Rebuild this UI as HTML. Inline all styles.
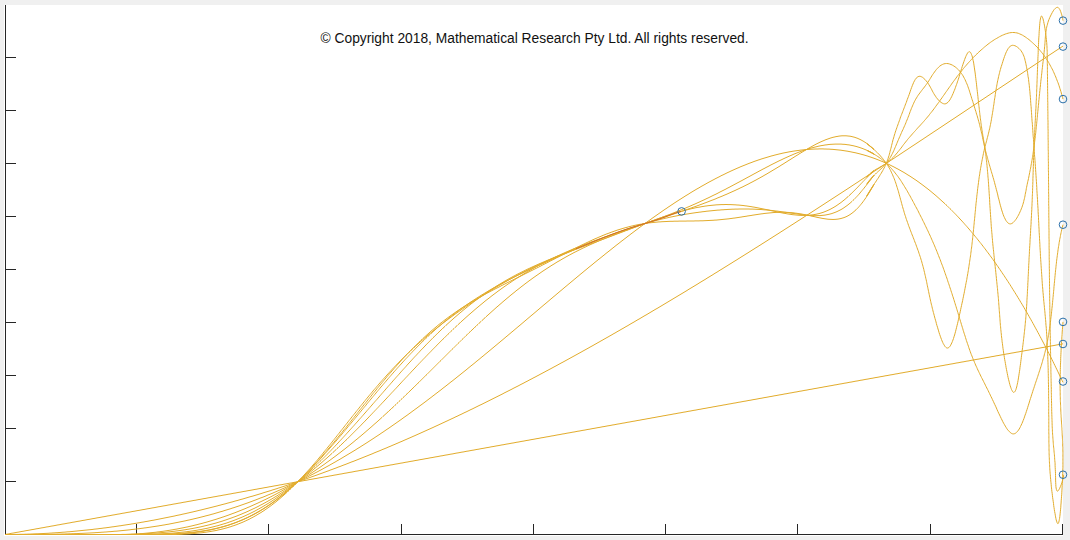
<!DOCTYPE html>
<html><head><meta charset="utf-8">
<style>
html,body{margin:0;padding:0;background:#f0f0f0;width:1070px;height:540px;overflow:hidden;}
#plot{position:absolute;left:4px;top:5px;width:1059px;height:531px;background:#fff;}
svg{position:absolute;left:0;top:0;}
#cr{position:absolute;left:320.5px;top:31px;font-family:"Liberation Sans",sans-serif;font-size:13.8px;color:#111;white-space:nowrap;}
</style></head><body>
<div id="plot"></div>
<svg width="1070" height="540" viewBox="0 0 1070 540">
<g stroke="#262626" stroke-width="1" fill="none" shape-rendering="crispEdges">
<path d="M5.5 5V535 M5 534.5H1063"/>
<path d="M5 57.5h11M5 110.5h11M5 163.5h11M5 216.5h11M5 269.5h11M5 322.5h11M5 375.5h11M5 428.5h11M5 481.5h11"/>
<path d="M136.5 534v-10M268.5 534v-10M401.5 534v-10M533.5 534v-10M665.5 534v-10M797.5 534v-10M930.5 534v-10M1062.5 534v-10"/>
</g>
<defs><clipPath id="cp"><rect x="5" y="5" width="1059" height="530"/></clipPath></defs>
<g clip-path="url(#cp)" fill="none" stroke="#E2AC2C" stroke-width="1">
<path d="M5.0 534.5 L6.0 534.3 L7.0 534.1 L8.0 534.0 L9.0 533.8 L10.0 533.6 L11.0 533.4 L12.0 533.2 L13.0 533.1 L14.0 532.9 L15.0 532.7 L16.0 532.5 L17.0 532.3 L18.0 532.2 L19.0 532.0 L20.0 531.8 L21.0 531.6 L22.0 531.4 L23.0 531.3 L24.0 531.1 L25.0 530.9 L26.0 530.7 L27.0 530.5 L28.0 530.4 L29.0 530.2 L30.0 530.0 L31.0 529.8 L32.0 529.6 L33.0 529.5 L34.0 529.3 L35.0 529.1 L36.0 528.9 L37.0 528.7 L38.0 528.6 L39.0 528.4 L40.0 528.2 L41.0 528.0 L42.0 527.8 L43.0 527.7 L44.0 527.5 L45.0 527.3 L46.0 527.1 L47.0 526.9 L48.0 526.8 L49.0 526.6 L50.0 526.4 L51.0 526.2 L52.0 526.0 L53.0 525.9 L54.0 525.7 L55.0 525.5 L56.0 525.3 L57.0 525.1 L58.0 524.9 L59.0 524.8 L60.0 524.6 L61.0 524.4 L62.0 524.2 L63.0 524.0 L64.0 523.9 L65.0 523.7 L66.0 523.5 L67.0 523.3 L68.0 523.1 L69.0 523.0 L70.0 522.8 L71.0 522.6 L72.0 522.4 L73.0 522.2 L74.0 522.1 L75.0 521.9 L76.0 521.7 L77.0 521.5 L78.0 521.3 L79.0 521.2 L80.0 521.0 L81.0 520.8 L82.0 520.6 L83.0 520.4 L84.0 520.3 L85.0 520.1 L86.0 519.9 L87.0 519.7 L88.0 519.5 L89.0 519.4 L90.0 519.2 L91.0 519.0 L92.0 518.8 L93.0 518.6 L94.0 518.5 L95.0 518.3 L96.0 518.1 L97.0 517.9 L98.0 517.7 L99.0 517.6 L100.0 517.4 L101.0 517.2 L102.0 517.0 L103.0 516.8 L104.0 516.7 L105.0 516.5 L106.0 516.3 L107.0 516.1 L108.0 515.9 L109.0 515.8 L110.0 515.6 L111.0 515.4 L112.0 515.2 L113.0 515.0 L114.0 514.9 L115.0 514.7 L116.0 514.5 L117.0 514.3 L118.0 514.1 L119.0 514.0 L120.0 513.8 L121.0 513.6 L122.0 513.4 L123.0 513.2 L124.0 513.1 L125.0 512.9 L126.0 512.7 L127.0 512.5 L128.0 512.3 L129.0 512.2 L130.0 512.0 L131.0 511.8 L132.0 511.6 L133.0 511.4 L134.0 511.3 L135.0 511.1 L136.0 510.9 L137.0 510.7 L138.0 510.5 L139.0 510.4 L140.0 510.2 L141.0 510.0 L142.0 509.8 L143.0 509.6 L144.0 509.5 L145.0 509.3 L146.0 509.1 L147.0 508.9 L148.0 508.7 L149.0 508.6 L150.0 508.4 L151.0 508.2 L152.0 508.0 L153.0 507.8 L154.0 507.7 L155.0 507.5 L156.0 507.3 L157.0 507.1 L158.0 506.9 L159.0 506.7 L160.0 506.6 L161.0 506.4 L162.0 506.2 L163.0 506.0 L164.0 505.8 L165.0 505.7 L166.0 505.5 L167.0 505.3 L168.0 505.1 L169.0 504.9 L170.0 504.8 L171.0 504.6 L172.0 504.4 L173.0 504.2 L174.0 504.0 L175.0 503.9 L176.0 503.7 L177.0 503.5 L178.0 503.3 L179.0 503.1 L180.0 503.0 L181.0 502.8 L182.0 502.6 L183.0 502.4 L184.0 502.2 L185.0 502.1 L186.0 501.9 L187.0 501.7 L188.0 501.5 L189.0 501.3 L190.0 501.2 L191.0 501.0 L192.0 500.8 L193.0 500.6 L194.0 500.4 L195.0 500.3 L196.0 500.1 L197.0 499.9 L198.0 499.7 L199.0 499.5 L200.0 499.4 L201.0 499.2 L202.0 499.0 L203.0 498.8 L204.0 498.6 L205.0 498.5 L206.0 498.3 L207.0 498.1 L208.0 497.9 L209.0 497.7 L210.0 497.6 L211.0 497.4 L212.0 497.2 L213.0 497.0 L214.0 496.8 L215.0 496.7 L216.0 496.5 L217.0 496.3 L218.0 496.1 L219.0 495.9 L220.0 495.8 L221.0 495.6 L222.0 495.4 L223.0 495.2 L224.0 495.0 L225.0 494.9 L226.0 494.7 L227.0 494.5 L228.0 494.3 L229.0 494.1 L230.0 494.0 L231.0 493.8 L232.0 493.6 L233.0 493.4 L234.0 493.2 L235.0 493.1 L236.0 492.9 L237.0 492.7 L238.0 492.5 L239.0 492.3 L240.0 492.2 L241.0 492.0 L242.0 491.8 L243.0 491.6 L244.0 491.4 L245.0 491.3 L246.0 491.1 L247.0 490.9 L248.0 490.7 L249.0 490.5 L250.0 490.4 L251.0 490.2 L252.0 490.0 L253.0 489.8 L254.0 489.6 L255.0 489.4 L256.0 489.3 L257.0 489.1 L258.0 488.9 L259.0 488.7 L260.0 488.5 L261.0 488.4 L262.0 488.2 L263.0 488.0 L264.0 487.8 L265.0 487.6 L266.0 487.5 L267.0 487.3 L268.0 487.1 L269.0 486.9 L270.0 486.7 L271.0 486.6 L272.0 486.4 L273.0 486.2 L274.0 486.0 L275.0 485.8 L276.0 485.7 L277.0 485.5 L278.0 485.3 L279.0 485.1 L280.0 484.9 L281.0 484.8 L282.0 484.6 L283.0 484.4 L284.0 484.2 L285.0 484.0 L286.0 483.9 L287.0 483.7 L288.0 483.5 L289.0 483.3 L290.0 483.1 L291.0 483.0 L292.0 482.8 L293.0 482.6 L294.0 482.4 L295.0 482.2 L296.0 482.1 L297.0 481.9 L298.0 481.7 L299.0 481.5 L300.0 481.3 L301.0 481.2 L302.0 481.0 L303.0 480.8 L304.0 480.6 L305.0 480.4 L306.0 480.3 L307.0 480.1 L308.0 479.9 L309.0 479.7 L310.0 479.5 L311.0 479.4 L312.0 479.2 L313.0 479.0 L314.0 478.8 L315.0 478.6 L316.0 478.5 L317.0 478.3 L318.0 478.1 L319.0 477.9 L320.0 477.7 L321.0 477.6 L322.0 477.4 L323.0 477.2 L324.0 477.0 L325.0 476.8 L326.0 476.7 L327.0 476.5 L328.0 476.3 L329.0 476.1 L330.0 475.9 L331.0 475.8 L332.0 475.6 L333.0 475.4 L334.0 475.2 L335.0 475.0 L336.0 474.9 L337.0 474.7 L338.0 474.5 L339.0 474.3 L340.0 474.1 L341.0 474.0 L342.0 473.8 L343.0 473.6 L344.0 473.4 L345.0 473.2 L346.0 473.1 L347.0 472.9 L348.0 472.7 L349.0 472.5 L350.0 472.3 L351.0 472.2 L352.0 472.0 L353.0 471.8 L354.0 471.6 L355.0 471.4 L356.0 471.2 L357.0 471.1 L358.0 470.9 L359.0 470.7 L360.0 470.5 L361.0 470.3 L362.0 470.2 L363.0 470.0 L364.0 469.8 L365.0 469.6 L366.0 469.4 L367.0 469.3 L368.0 469.1 L369.0 468.9 L370.0 468.7 L371.0 468.5 L372.0 468.4 L373.0 468.2 L374.0 468.0 L375.0 467.8 L376.0 467.6 L377.0 467.5 L378.0 467.3 L379.0 467.1 L380.0 466.9 L381.0 466.7 L382.0 466.6 L383.0 466.4 L384.0 466.2 L385.0 466.0 L386.0 465.8 L387.0 465.7 L388.0 465.5 L389.0 465.3 L390.0 465.1 L391.0 464.9 L392.0 464.8 L393.0 464.6 L394.0 464.4 L395.0 464.2 L396.0 464.0 L397.0 463.9 L398.0 463.7 L399.0 463.5 L400.0 463.3 L401.0 463.1 L402.0 463.0 L403.0 462.8 L404.0 462.6 L405.0 462.4 L406.0 462.2 L407.0 462.1 L408.0 461.9 L409.0 461.7 L410.0 461.5 L411.0 461.3 L412.0 461.2 L413.0 461.0 L414.0 460.8 L415.0 460.6 L416.0 460.4 L417.0 460.3 L418.0 460.1 L419.0 459.9 L420.0 459.7 L421.0 459.5 L422.0 459.4 L423.0 459.2 L424.0 459.0 L425.0 458.8 L426.0 458.6 L427.0 458.5 L428.0 458.3 L429.0 458.1 L430.0 457.9 L431.0 457.7 L432.0 457.6 L433.0 457.4 L434.0 457.2 L435.0 457.0 L436.0 456.8 L437.0 456.7 L438.0 456.5 L439.0 456.3 L440.0 456.1 L441.0 455.9 L442.0 455.8 L443.0 455.6 L444.0 455.4 L445.0 455.2 L446.0 455.0 L447.0 454.9 L448.0 454.7 L449.0 454.5 L450.0 454.3 L451.0 454.1 L452.0 454.0 L453.0 453.8 L454.0 453.6 L455.0 453.4 L456.0 453.2 L457.0 453.0 L458.0 452.9 L459.0 452.7 L460.0 452.5 L461.0 452.3 L462.0 452.1 L463.0 452.0 L464.0 451.8 L465.0 451.6 L466.0 451.4 L467.0 451.2 L468.0 451.1 L469.0 450.9 L470.0 450.7 L471.0 450.5 L472.0 450.3 L473.0 450.2 L474.0 450.0 L475.0 449.8 L476.0 449.6 L477.0 449.4 L478.0 449.3 L479.0 449.1 L480.0 448.9 L481.0 448.7 L482.0 448.5 L483.0 448.4 L484.0 448.2 L485.0 448.0 L486.0 447.8 L487.0 447.6 L488.0 447.5 L489.0 447.3 L490.0 447.1 L491.0 446.9 L492.0 446.7 L493.0 446.6 L494.0 446.4 L495.0 446.2 L496.0 446.0 L497.0 445.8 L498.0 445.7 L499.0 445.5 L500.0 445.3 L501.0 445.1 L502.0 444.9 L503.0 444.8 L504.0 444.6 L505.0 444.4 L506.0 444.2 L507.0 444.0 L508.0 443.9 L509.0 443.7 L510.0 443.5 L511.0 443.3 L512.0 443.1 L513.0 443.0 L514.0 442.8 L515.0 442.6 L516.0 442.4 L517.0 442.2 L518.0 442.1 L519.0 441.9 L520.0 441.7 L521.0 441.5 L522.0 441.3 L523.0 441.2 L524.0 441.0 L525.0 440.8 L526.0 440.6 L527.0 440.4 L528.0 440.3 L529.0 440.1 L530.0 439.9 L531.0 439.7 L532.0 439.5 L533.0 439.4 L534.0 439.2 L535.0 439.0 L536.0 438.8 L537.0 438.6 L538.0 438.5 L539.0 438.3 L540.0 438.1 L541.0 437.9 L542.0 437.7 L543.0 437.6 L544.0 437.4 L545.0 437.2 L546.0 437.0 L547.0 436.8 L548.0 436.7 L549.0 436.5 L550.0 436.3 L551.0 436.1 L552.0 435.9 L553.0 435.8 L554.0 435.6 L555.0 435.4 L556.0 435.2 L557.0 435.0 L558.0 434.8 L559.0 434.7 L560.0 434.5 L561.0 434.3 L562.0 434.1 L563.0 433.9 L564.0 433.8 L565.0 433.6 L566.0 433.4 L567.0 433.2 L568.0 433.0 L569.0 432.9 L570.0 432.7 L571.0 432.5 L572.0 432.3 L573.0 432.1 L574.0 432.0 L575.0 431.8 L576.0 431.6 L577.0 431.4 L578.0 431.2 L579.0 431.1 L580.0 430.9 L581.0 430.7 L582.0 430.5 L583.0 430.3 L584.0 430.2 L585.0 430.0 L586.0 429.8 L587.0 429.6 L588.0 429.4 L589.0 429.3 L590.0 429.1 L591.0 428.9 L592.0 428.7 L593.0 428.5 L594.0 428.4 L595.0 428.2 L596.0 428.0 L597.0 427.8 L598.0 427.6 L599.0 427.5 L600.0 427.3 L601.0 427.1 L602.0 426.9 L603.0 426.7 L604.0 426.6 L605.0 426.4 L606.0 426.2 L607.0 426.0 L608.0 425.8 L609.0 425.7 L610.0 425.5 L611.0 425.3 L612.0 425.1 L613.0 424.9 L614.0 424.8 L615.0 424.6 L616.0 424.4 L617.0 424.2 L618.0 424.0 L619.0 423.9 L620.0 423.7 L621.0 423.5 L622.0 423.3 L623.0 423.1 L624.0 423.0 L625.0 422.8 L626.0 422.6 L627.0 422.4 L628.0 422.2 L629.0 422.1 L630.0 421.9 L631.0 421.7 L632.0 421.5 L633.0 421.3 L634.0 421.2 L635.0 421.0 L636.0 420.8 L637.0 420.6 L638.0 420.4 L639.0 420.3 L640.0 420.1 L641.0 419.9 L642.0 419.7 L643.0 419.5 L644.0 419.4 L645.0 419.2 L646.0 419.0 L647.0 418.8 L648.0 418.6 L649.0 418.5 L650.0 418.3 L651.0 418.1 L652.0 417.9 L653.0 417.7 L654.0 417.6 L655.0 417.4 L656.0 417.2 L657.0 417.0 L658.0 416.8 L659.0 416.6 L660.0 416.5 L661.0 416.3 L662.0 416.1 L663.0 415.9 L664.0 415.7 L665.0 415.6 L666.0 415.4 L667.0 415.2 L668.0 415.0 L669.0 414.8 L670.0 414.7 L671.0 414.5 L672.0 414.3 L673.0 414.1 L674.0 413.9 L675.0 413.8 L676.0 413.6 L677.0 413.4 L678.0 413.2 L679.0 413.0 L680.0 412.9 L681.0 412.7 L682.0 412.5 L683.0 412.3 L684.0 412.1 L685.0 412.0 L686.0 411.8 L687.0 411.6 L688.0 411.4 L689.0 411.2 L690.0 411.1 L691.0 410.9 L692.0 410.7 L693.0 410.5 L694.0 410.3 L695.0 410.2 L696.0 410.0 L697.0 409.8 L698.0 409.6 L699.0 409.4 L700.0 409.3 L701.0 409.1 L702.0 408.9 L703.0 408.7 L704.0 408.5 L705.0 408.4 L706.0 408.2 L707.0 408.0 L708.0 407.8 L709.0 407.6 L710.0 407.5 L711.0 407.3 L712.0 407.1 L713.0 406.9 L714.0 406.7 L715.0 406.6 L716.0 406.4 L717.0 406.2 L718.0 406.0 L719.0 405.8 L720.0 405.7 L721.0 405.5 L722.0 405.3 L723.0 405.1 L724.0 404.9 L725.0 404.8 L726.0 404.6 L727.0 404.4 L728.0 404.2 L729.0 404.0 L730.0 403.9 L731.0 403.7 L732.0 403.5 L733.0 403.3 L734.0 403.1 L735.0 403.0 L736.0 402.8 L737.0 402.6 L738.0 402.4 L739.0 402.2 L740.0 402.1 L741.0 401.9 L742.0 401.7 L743.0 401.5 L744.0 401.3 L745.0 401.2 L746.0 401.0 L747.0 400.8 L748.0 400.6 L749.0 400.4 L750.0 400.3 L751.0 400.1 L752.0 399.9 L753.0 399.7 L754.0 399.5 L755.0 399.4 L756.0 399.2 L757.0 399.0 L758.0 398.8 L759.0 398.6 L760.0 398.4 L761.0 398.3 L762.0 398.1 L763.0 397.9 L764.0 397.7 L765.0 397.5 L766.0 397.4 L767.0 397.2 L768.0 397.0 L769.0 396.8 L770.0 396.6 L771.0 396.5 L772.0 396.3 L773.0 396.1 L774.0 395.9 L775.0 395.7 L776.0 395.6 L777.0 395.4 L778.0 395.2 L779.0 395.0 L780.0 394.8 L781.0 394.7 L782.0 394.5 L783.0 394.3 L784.0 394.1 L785.0 393.9 L786.0 393.8 L787.0 393.6 L788.0 393.4 L789.0 393.2 L790.0 393.0 L791.0 392.9 L792.0 392.7 L793.0 392.5 L794.0 392.3 L795.0 392.1 L796.0 392.0 L797.0 391.8 L798.0 391.6 L799.0 391.4 L800.0 391.2 L801.0 391.1 L802.0 390.9 L803.0 390.7 L804.0 390.5 L805.0 390.3 L806.0 390.2 L807.0 390.0 L808.0 389.8 L809.0 389.6 L810.0 389.4 L811.0 389.3 L812.0 389.1 L813.0 388.9 L814.0 388.7 L815.0 388.5 L816.0 388.4 L817.0 388.2 L818.0 388.0 L819.0 387.8 L820.0 387.6 L821.0 387.5 L822.0 387.3 L823.0 387.1 L824.0 386.9 L825.0 386.7 L826.0 386.6 L827.0 386.4 L828.0 386.2 L829.0 386.0 L830.0 385.8 L831.0 385.7 L832.0 385.5 L833.0 385.3 L834.0 385.1 L835.0 384.9 L836.0 384.8 L837.0 384.6 L838.0 384.4 L839.0 384.2 L840.0 384.0 L841.0 383.9 L842.0 383.7 L843.0 383.5 L844.0 383.3 L845.0 383.1 L846.0 383.0 L847.0 382.8 L848.0 382.6 L849.0 382.4 L850.0 382.2 L851.0 382.1 L852.0 381.9 L853.0 381.7 L854.0 381.5 L855.0 381.3 L856.0 381.1 L857.0 381.0 L858.0 380.8 L859.0 380.6 L860.0 380.4 L861.0 380.2 L862.0 380.1 L863.0 379.9 L864.0 379.7 L865.0 379.5 L866.0 379.3 L867.0 379.2 L868.0 379.0 L869.0 378.8 L870.0 378.6 L871.0 378.4 L872.0 378.3 L873.0 378.1 L874.0 377.9 L875.0 377.7 L876.0 377.5 L877.0 377.4 L878.0 377.2 L879.0 377.0 L880.0 376.8 L881.0 376.6 L882.0 376.5 L883.0 376.3 L884.0 376.1 L885.0 375.9 L886.0 375.7 L887.0 375.6 L888.0 375.4 L889.0 375.2 L890.0 375.0 L891.0 374.8 L892.0 374.7 L893.0 374.5 L894.0 374.3 L895.0 374.1 L896.0 373.9 L897.0 373.8 L898.0 373.6 L899.0 373.4 L900.0 373.2 L901.0 373.0 L902.0 372.9 L903.0 372.7 L904.0 372.5 L905.0 372.3 L906.0 372.1 L907.0 372.0 L908.0 371.8 L909.0 371.6 L910.0 371.4 L911.0 371.2 L912.0 371.1 L913.0 370.9 L914.0 370.7 L915.0 370.5 L916.0 370.3 L917.0 370.2 L918.0 370.0 L919.0 369.8 L920.0 369.6 L921.0 369.4 L922.0 369.3 L923.0 369.1 L924.0 368.9 L925.0 368.7 L926.0 368.5 L927.0 368.4 L928.0 368.2 L929.0 368.0 L930.0 367.8 L931.0 367.6 L932.0 367.5 L933.0 367.3 L934.0 367.1 L935.0 366.9 L936.0 366.7 L937.0 366.6 L938.0 366.4 L939.0 366.2 L940.0 366.0 L941.0 365.8 L942.0 365.7 L943.0 365.5 L944.0 365.3 L945.0 365.1 L946.0 364.9 L947.0 364.8 L948.0 364.6 L949.0 364.4 L950.0 364.2 L951.0 364.0 L952.0 363.9 L953.0 363.7 L954.0 363.5 L955.0 363.3 L956.0 363.1 L957.0 362.9 L958.0 362.8 L959.0 362.6 L960.0 362.4 L961.0 362.2 L962.0 362.0 L963.0 361.9 L964.0 361.7 L965.0 361.5 L966.0 361.3 L967.0 361.1 L968.0 361.0 L969.0 360.8 L970.0 360.6 L971.0 360.4 L972.0 360.2 L973.0 360.1 L974.0 359.9 L975.0 359.7 L976.0 359.5 L977.0 359.3 L978.0 359.2 L979.0 359.0 L980.0 358.8 L981.0 358.6 L982.0 358.4 L983.0 358.3 L984.0 358.1 L985.0 357.9 L986.0 357.7 L987.0 357.5 L988.0 357.4 L989.0 357.2 L990.0 357.0 L991.0 356.8 L992.0 356.6 L993.0 356.5 L994.0 356.3 L995.0 356.1 L996.0 355.9 L997.0 355.7 L998.0 355.6 L999.0 355.4 L1000.0 355.2 L1001.0 355.0 L1002.0 354.8 L1003.0 354.7 L1004.0 354.5 L1005.0 354.3 L1006.0 354.1 L1007.0 353.9 L1008.0 353.8 L1009.0 353.6 L1010.0 353.4 L1011.0 353.2 L1012.0 353.0 L1013.0 352.9 L1014.0 352.7 L1015.0 352.5 L1016.0 352.3 L1017.0 352.1 L1018.0 352.0 L1019.0 351.8 L1020.0 351.6 L1021.0 351.4 L1022.0 351.2 L1023.0 351.1 L1024.0 350.9 L1025.0 350.7 L1026.0 350.5 L1027.0 350.3 L1028.0 350.2 L1029.0 350.0 L1030.0 349.8 L1031.0 349.6 L1032.0 349.4 L1033.0 349.3 L1034.0 349.1 L1035.0 348.9 L1036.0 348.7 L1037.0 348.5 L1038.0 348.4 L1039.0 348.2 L1040.0 348.0 L1041.0 347.8 L1042.0 347.6 L1043.0 347.5 L1044.0 347.3 L1045.0 347.1 L1046.0 346.9 L1047.0 346.7 L1048.0 346.6 L1049.0 346.4 L1050.0 346.2 L1051.0 346.0 L1052.0 345.8 L1053.0 345.7 L1054.0 345.5 L1055.0 345.3 L1056.0 345.1 L1057.0 344.9 L1058.0 344.7 L1059.0 344.6 L1060.0 344.4 L1061.0 344.2 L1062.0 344.0 L1063.0 343.8"/>
<path d="M5.0 534.5 L6.0 534.5 L7.0 534.5 L8.0 534.5 L9.0 534.5 L10.0 534.5 L11.0 534.5 L12.0 534.5 L13.0 534.5 L14.0 534.4 L15.0 534.4 L16.0 534.4 L17.0 534.4 L18.0 534.4 L19.0 534.4 L20.0 534.3 L21.0 534.3 L22.0 534.3 L23.0 534.3 L24.0 534.3 L25.0 534.2 L26.0 534.2 L27.0 534.2 L28.0 534.1 L29.0 534.1 L30.0 534.1 L31.0 534.0 L32.0 534.0 L33.0 534.0 L34.0 533.9 L35.0 533.9 L36.0 533.8 L37.0 533.8 L38.0 533.8 L39.0 533.7 L40.0 533.7 L41.0 533.6 L42.0 533.6 L43.0 533.5 L44.0 533.5 L45.0 533.4 L46.0 533.4 L47.0 533.3 L48.0 533.3 L49.0 533.2 L50.0 533.1 L51.0 533.1 L52.0 533.0 L53.0 532.9 L54.0 532.9 L55.0 532.8 L56.0 532.7 L57.0 532.7 L58.0 532.6 L59.0 532.5 L60.0 532.5 L61.0 532.4 L62.0 532.3 L63.0 532.2 L64.0 532.2 L65.0 532.1 L66.0 532.0 L67.0 531.9 L68.0 531.8 L69.0 531.8 L70.0 531.7 L71.0 531.6 L72.0 531.5 L73.0 531.4 L74.0 531.3 L75.0 531.2 L76.0 531.1 L77.0 531.0 L78.0 530.9 L79.0 530.8 L80.0 530.7 L81.0 530.6 L82.0 530.5 L83.0 530.4 L84.0 530.3 L85.0 530.2 L86.0 530.1 L87.0 530.0 L88.0 529.9 L89.0 529.8 L90.0 529.7 L91.0 529.6 L92.0 529.5 L93.0 529.4 L94.0 529.2 L95.0 529.1 L96.0 529.0 L97.0 528.9 L98.0 528.8 L99.0 528.6 L100.0 528.5 L101.0 528.4 L102.0 528.3 L103.0 528.1 L104.0 528.0 L105.0 527.9 L106.0 527.8 L107.0 527.6 L108.0 527.5 L109.0 527.4 L110.0 527.2 L111.0 527.1 L112.0 526.9 L113.0 526.8 L114.0 526.7 L115.0 526.5 L116.0 526.4 L117.0 526.2 L118.0 526.1 L119.0 525.9 L120.0 525.8 L121.0 525.7 L122.0 525.5 L123.0 525.3 L124.0 525.2 L125.0 525.0 L126.0 524.9 L127.0 524.7 L128.0 524.6 L129.0 524.4 L130.0 524.3 L131.0 524.1 L132.0 523.9 L133.0 523.8 L134.0 523.6 L135.0 523.4 L136.0 523.3 L137.0 523.1 L138.0 522.9 L139.0 522.8 L140.0 522.6 L141.0 522.4 L142.0 522.2 L143.0 522.1 L144.0 521.9 L145.0 521.7 L146.0 521.5 L147.0 521.4 L148.0 521.2 L149.0 521.0 L150.0 520.8 L151.0 520.6 L152.0 520.4 L153.0 520.3 L154.0 520.1 L155.0 519.9 L156.0 519.7 L157.0 519.5 L158.0 519.3 L159.0 519.1 L160.0 518.9 L161.0 518.7 L162.0 518.5 L163.0 518.3 L164.0 518.1 L165.0 517.9 L166.0 517.7 L167.0 517.5 L168.0 517.3 L169.0 517.1 L170.0 516.9 L171.0 516.7 L172.0 516.5 L173.0 516.3 L174.0 516.1 L175.0 515.9 L176.0 515.6 L177.0 515.4 L178.0 515.2 L179.0 515.0 L180.0 514.8 L181.0 514.6 L182.0 514.3 L183.0 514.1 L184.0 513.9 L185.0 513.7 L186.0 513.5 L187.0 513.2 L188.0 513.0 L189.0 512.8 L190.0 512.5 L191.0 512.3 L192.0 512.1 L193.0 511.9 L194.0 511.6 L195.0 511.4 L196.0 511.2 L197.0 510.9 L198.0 510.7 L199.0 510.4 L200.0 510.2 L201.0 510.0 L202.0 509.7 L203.0 509.5 L204.0 509.2 L205.0 509.0 L206.0 508.7 L207.0 508.5 L208.0 508.2 L209.0 508.0 L210.0 507.7 L211.0 507.5 L212.0 507.2 L213.0 507.0 L214.0 506.7 L215.0 506.5 L216.0 506.2 L217.0 506.0 L218.0 505.7 L219.0 505.4 L220.0 505.2 L221.0 504.9 L222.0 504.6 L223.0 504.4 L224.0 504.1 L225.0 503.9 L226.0 503.6 L227.0 503.3 L228.0 503.0 L229.0 502.8 L230.0 502.5 L231.0 502.2 L232.0 502.0 L233.0 501.7 L234.0 501.4 L235.0 501.1 L236.0 500.8 L237.0 500.6 L238.0 500.3 L239.0 500.0 L240.0 499.7 L241.0 499.4 L242.0 499.2 L243.0 498.9 L244.0 498.6 L245.0 498.3 L246.0 498.0 L247.0 497.7 L248.0 497.4 L249.0 497.1 L250.0 496.8 L251.0 496.5 L252.0 496.3 L253.0 496.0 L254.0 495.7 L255.0 495.4 L256.0 495.1 L257.0 494.8 L258.0 494.5 L259.0 494.2 L260.0 493.9 L261.0 493.6 L262.0 493.3 L263.0 492.9 L264.0 492.6 L265.0 492.3 L266.0 492.0 L267.0 491.7 L268.0 491.4 L269.0 491.1 L270.0 490.8 L271.0 490.5 L272.0 490.1 L273.0 489.8 L274.0 489.5 L275.0 489.2 L276.0 488.9 L277.0 488.6 L278.0 488.2 L279.0 487.9 L280.0 487.6 L281.0 487.3 L282.0 486.9 L283.0 486.6 L284.0 486.3 L285.0 486.0 L286.0 485.6 L287.0 485.3 L288.0 485.0 L289.0 484.6 L290.0 484.3 L291.0 484.0 L292.0 483.6 L293.0 483.3 L294.0 483.0 L295.0 482.6 L296.0 482.3 L297.0 482.0 L298.0 481.6 L299.0 481.3 L300.0 480.9 L301.0 480.6 L302.0 480.2 L303.0 479.9 L304.0 479.5 L305.0 479.2 L306.0 478.9 L307.0 478.5 L308.0 478.2 L309.0 477.8 L310.0 477.5 L311.0 477.1 L312.0 476.7 L313.0 476.4 L314.0 476.0 L315.0 475.7 L316.0 475.3 L317.0 475.0 L318.0 474.6 L319.0 474.2 L320.0 473.9 L321.0 473.5 L322.0 473.2 L323.0 472.8 L324.0 472.4 L325.0 472.1 L326.0 471.7 L327.0 471.3 L328.0 471.0 L329.0 470.6 L330.0 470.2 L331.0 469.8 L332.0 469.5 L333.0 469.1 L334.0 468.7 L335.0 468.4 L336.0 468.0 L337.0 467.6 L338.0 467.2 L339.0 466.8 L340.0 466.5 L341.0 466.1 L342.0 465.7 L343.0 465.3 L344.0 464.9 L345.0 464.6 L346.0 464.2 L347.0 463.8 L348.0 463.4 L349.0 463.0 L350.0 462.6 L351.0 462.2 L352.0 461.8 L353.0 461.5 L354.0 461.1 L355.0 460.7 L356.0 460.3 L357.0 459.9 L358.0 459.5 L359.0 459.1 L360.0 458.7 L361.0 458.3 L362.0 457.9 L363.0 457.5 L364.0 457.1 L365.0 456.7 L366.0 456.3 L367.0 455.9 L368.0 455.5 L369.0 455.1 L370.0 454.7 L371.0 454.3 L372.0 453.9 L373.0 453.5 L374.0 453.0 L375.0 452.6 L376.0 452.2 L377.0 451.8 L378.0 451.4 L379.0 451.0 L380.0 450.6 L381.0 450.2 L382.0 449.7 L383.0 449.3 L384.0 448.9 L385.0 448.5 L386.0 448.1 L387.0 447.7 L388.0 447.2 L389.0 446.8 L390.0 446.4 L391.0 446.0 L392.0 445.5 L393.0 445.1 L394.0 444.7 L395.0 444.3 L396.0 443.8 L397.0 443.4 L398.0 443.0 L399.0 442.5 L400.0 442.1 L401.0 441.7 L402.0 441.3 L403.0 440.8 L404.0 440.4 L405.0 439.9 L406.0 439.5 L407.0 439.1 L408.0 438.6 L409.0 438.2 L410.0 437.8 L411.0 437.3 L412.0 436.9 L413.0 436.4 L414.0 436.0 L415.0 435.6 L416.0 435.1 L417.0 434.7 L418.0 434.2 L419.0 433.8 L420.0 433.3 L421.0 432.9 L422.0 432.4 L423.0 432.0 L424.0 431.5 L425.0 431.1 L426.0 430.6 L427.0 430.2 L428.0 429.7 L429.0 429.3 L430.0 428.8 L431.0 428.4 L432.0 427.9 L433.0 427.5 L434.0 427.0 L435.0 426.5 L436.0 426.1 L437.0 425.6 L438.0 425.2 L439.0 424.7 L440.0 424.2 L441.0 423.8 L442.0 423.3 L443.0 422.8 L444.0 422.4 L445.0 421.9 L446.0 421.4 L447.0 421.0 L448.0 420.5 L449.0 420.0 L450.0 419.6 L451.0 419.1 L452.0 418.6 L453.0 418.2 L454.0 417.7 L455.0 417.2 L456.0 416.7 L457.0 416.3 L458.0 415.8 L459.0 415.3 L460.0 414.8 L461.0 414.4 L462.0 413.9 L463.0 413.4 L464.0 412.9 L465.0 412.4 L466.0 412.0 L467.0 411.5 L468.0 411.0 L469.0 410.5 L470.0 410.0 L471.0 409.5 L472.0 409.1 L473.0 408.6 L474.0 408.1 L475.0 407.6 L476.0 407.1 L477.0 406.6 L478.0 406.1 L479.0 405.6 L480.0 405.1 L481.0 404.7 L482.0 404.2 L483.0 403.7 L484.0 403.2 L485.0 402.7 L486.0 402.2 L487.0 401.7 L488.0 401.2 L489.0 400.7 L490.0 400.2 L491.0 399.7 L492.0 399.2 L493.0 398.7 L494.0 398.2 L495.0 397.7 L496.0 397.2 L497.0 396.7 L498.0 396.2 L499.0 395.7 L500.0 395.2 L501.0 394.7 L502.0 394.2 L503.0 393.7 L504.0 393.1 L505.0 392.6 L506.0 392.1 L507.0 391.6 L508.0 391.1 L509.0 390.6 L510.0 390.1 L511.0 389.6 L512.0 389.1 L513.0 388.5 L514.0 388.0 L515.0 387.5 L516.0 387.0 L517.0 386.5 L518.0 386.0 L519.0 385.5 L520.0 384.9 L521.0 384.4 L522.0 383.9 L523.0 383.4 L524.0 382.9 L525.0 382.3 L526.0 381.8 L527.0 381.3 L528.0 380.8 L529.0 380.2 L530.0 379.7 L531.0 379.2 L532.0 378.7 L533.0 378.1 L534.0 377.6 L535.0 377.1 L536.0 376.6 L537.0 376.0 L538.0 375.5 L539.0 375.0 L540.0 374.4 L541.0 373.9 L542.0 373.4 L543.0 372.8 L544.0 372.3 L545.0 371.8 L546.0 371.2 L547.0 370.7 L548.0 370.2 L549.0 369.6 L550.0 369.1 L551.0 368.6 L552.0 368.0 L553.0 367.5 L554.0 366.9 L555.0 366.4 L556.0 365.9 L557.0 365.3 L558.0 364.8 L559.0 364.2 L560.0 363.7 L561.0 363.1 L562.0 362.6 L563.0 362.1 L564.0 361.5 L565.0 361.0 L566.0 360.4 L567.0 359.9 L568.0 359.3 L569.0 358.8 L570.0 358.2 L571.0 357.7 L572.0 357.1 L573.0 356.6 L574.0 356.0 L575.0 355.5 L576.0 354.9 L577.0 354.4 L578.0 353.8 L579.0 353.3 L580.0 352.7 L581.0 352.2 L582.0 351.6 L583.0 351.0 L584.0 350.5 L585.0 349.9 L586.0 349.4 L587.0 348.8 L588.0 348.3 L589.0 347.7 L590.0 347.1 L591.0 346.6 L592.0 346.0 L593.0 345.5 L594.0 344.9 L595.0 344.3 L596.0 343.8 L597.0 343.2 L598.0 342.6 L599.0 342.1 L600.0 341.5 L601.0 340.9 L602.0 340.4 L603.0 339.8 L604.0 339.2 L605.0 338.7 L606.0 338.1 L607.0 337.5 L608.0 337.0 L609.0 336.4 L610.0 335.8 L611.0 335.3 L612.0 334.7 L613.0 334.1 L614.0 333.5 L615.0 333.0 L616.0 332.4 L617.0 331.8 L618.0 331.2 L619.0 330.7 L620.0 330.1 L621.0 329.5 L622.0 328.9 L623.0 328.4 L624.0 327.8 L625.0 327.2 L626.0 326.6 L627.0 326.1 L628.0 325.5 L629.0 324.9 L630.0 324.3 L631.0 323.7 L632.0 323.1 L633.0 322.6 L634.0 322.0 L635.0 321.4 L636.0 320.8 L637.0 320.2 L638.0 319.6 L639.0 319.1 L640.0 318.5 L641.0 317.9 L642.0 317.3 L643.0 316.7 L644.0 316.1 L645.0 315.5 L646.0 315.0 L647.0 314.4 L648.0 313.8 L649.0 313.2 L650.0 312.6 L651.0 312.0 L652.0 311.4 L653.0 310.8 L654.0 310.2 L655.0 309.6 L656.0 309.0 L657.0 308.5 L658.0 307.9 L659.0 307.3 L660.0 306.7 L661.0 306.1 L662.0 305.5 L663.0 304.9 L664.0 304.3 L665.0 303.7 L666.0 303.1 L667.0 302.5 L668.0 301.9 L669.0 301.3 L670.0 300.7 L671.0 300.1 L672.0 299.5 L673.0 298.9 L674.0 298.3 L675.0 297.7 L676.0 297.1 L677.0 296.5 L678.0 295.9 L679.0 295.3 L680.0 294.7 L681.0 294.1 L682.0 293.5 L683.0 292.9 L684.0 292.3 L685.0 291.7 L686.0 291.1 L687.0 290.5 L688.0 289.8 L689.0 289.2 L690.0 288.6 L691.0 288.0 L692.0 287.4 L693.0 286.8 L694.0 286.2 L695.0 285.6 L696.0 285.0 L697.0 284.4 L698.0 283.8 L699.0 283.1 L700.0 282.5 L701.0 281.9 L702.0 281.3 L703.0 280.7 L704.0 280.1 L705.0 279.5 L706.0 278.9 L707.0 278.2 L708.0 277.6 L709.0 277.0 L710.0 276.4 L711.0 275.8 L712.0 275.2 L713.0 274.6 L714.0 273.9 L715.0 273.3 L716.0 272.7 L717.0 272.1 L718.0 271.5 L719.0 270.8 L720.0 270.2 L721.0 269.6 L722.0 269.0 L723.0 268.4 L724.0 267.7 L725.0 267.1 L726.0 266.5 L727.0 265.9 L728.0 265.3 L729.0 264.6 L730.0 264.0 L731.0 263.4 L732.0 262.8 L733.0 262.1 L734.0 261.5 L735.0 260.9 L736.0 260.3 L737.0 259.7 L738.0 259.0 L739.0 258.4 L740.0 257.8 L741.0 257.1 L742.0 256.5 L743.0 255.9 L744.0 255.3 L745.0 254.6 L746.0 254.0 L747.0 253.4 L748.0 252.8 L749.0 252.1 L750.0 251.5 L751.0 250.9 L752.0 250.2 L753.0 249.6 L754.0 249.0 L755.0 248.3 L756.0 247.7 L757.0 247.1 L758.0 246.5 L759.0 245.8 L760.0 245.2 L761.0 244.6 L762.0 243.9 L763.0 243.3 L764.0 242.7 L765.0 242.0 L766.0 241.4 L767.0 240.8 L768.0 240.1 L769.0 239.5 L770.0 238.8 L771.0 238.2 L772.0 237.6 L773.0 236.9 L774.0 236.3 L775.0 235.7 L776.0 235.0 L777.0 234.4 L778.0 233.8 L779.0 233.1 L780.0 232.5 L781.0 231.8 L782.0 231.2 L783.0 230.6 L784.0 229.9 L785.0 229.3 L786.0 228.6 L787.0 228.0 L788.0 227.4 L789.0 226.7 L790.0 226.1 L791.0 225.4 L792.0 224.8 L793.0 224.2 L794.0 223.5 L795.0 222.9 L796.0 222.2 L797.0 221.6 L798.0 220.9 L799.0 220.3 L800.0 219.7 L801.0 219.0 L802.0 218.4 L803.0 217.7 L804.0 217.1 L805.0 216.4 L806.0 215.8 L807.0 215.1 L808.0 214.5 L809.0 213.9 L810.0 213.2 L811.0 212.6 L812.0 211.9 L813.0 211.3 L814.0 210.6 L815.0 210.0 L816.0 209.3 L817.0 208.7 L818.0 208.0 L819.0 207.4 L820.0 206.7 L821.0 206.1 L822.0 205.4 L823.0 204.8 L824.0 204.1 L825.0 203.5 L826.0 202.8 L827.0 202.2 L828.0 201.5 L829.0 200.9 L830.0 200.2 L831.0 199.6 L832.0 198.9 L833.0 198.3 L834.0 197.6 L835.0 197.0 L836.0 196.3 L837.0 195.7 L838.0 195.0 L839.0 194.4 L840.0 193.7 L841.0 193.1 L842.0 192.4 L843.0 191.8 L844.0 191.1 L845.0 190.5 L846.0 189.8 L847.0 189.2 L848.0 188.5 L849.0 187.9 L850.0 187.2 L851.0 186.5 L852.0 185.9 L853.0 185.2 L854.0 184.6 L855.0 183.9 L856.0 183.3 L857.0 182.6 L858.0 182.0 L859.0 181.3 L860.0 180.6 L861.0 180.0 L862.0 179.3 L863.0 178.7 L864.0 178.0 L865.0 177.4 L866.0 176.7 L867.0 176.1 L868.0 175.4 L869.0 174.7 L870.0 174.1 L871.0 173.4 L872.0 172.8 L873.0 172.1 L874.0 171.4 L875.0 170.8 L876.0 170.1 L877.0 169.5 L878.0 168.8 L879.0 168.2 L880.0 167.5 L881.0 166.8 L882.0 166.2 L883.0 165.5 L884.0 164.9 L885.0 164.2 L886.0 163.5 L887.0 162.9 L888.0 162.2 L889.0 161.6 L890.0 160.9 L891.0 160.2 L892.0 159.6 L893.0 158.9 L894.0 158.3 L895.0 157.6 L896.0 156.9 L897.0 156.3 L898.0 155.6 L899.0 155.0 L900.0 154.3 L901.0 153.6 L902.0 153.0 L903.0 152.3 L904.0 151.6 L905.0 151.0 L906.0 150.3 L907.0 149.7 L908.0 149.0 L909.0 148.3 L910.0 147.7 L911.0 147.0 L912.0 146.3 L913.0 145.7 L914.0 145.0 L915.0 144.4 L916.0 143.7 L917.0 143.0 L918.0 142.4 L919.0 141.7 L920.0 141.0 L921.0 140.4 L922.0 139.7 L923.0 139.1 L924.0 138.4 L925.0 137.7 L926.0 137.1 L927.0 136.4 L928.0 135.7 L929.0 135.1 L930.0 134.4 L931.0 133.7 L932.0 133.1 L933.0 132.4 L934.0 131.7 L935.0 131.1 L936.0 130.4 L937.0 129.8 L938.0 129.1 L939.0 128.4 L940.0 127.8 L941.0 127.1 L942.0 126.4 L943.0 125.8 L944.0 125.1 L945.0 124.4 L946.0 123.8 L947.0 123.1 L948.0 122.4 L949.0 121.8 L950.0 121.1 L951.0 120.4 L952.0 119.8 L953.0 119.1 L954.0 118.5 L955.0 117.8 L956.0 117.1 L957.0 116.5 L958.0 115.8 L959.0 115.1 L960.0 114.5 L961.0 113.8 L962.0 113.1 L963.0 112.5 L964.0 111.8 L965.0 111.1 L966.0 110.5 L967.0 109.8 L968.0 109.1 L969.0 108.5 L970.0 107.8 L971.0 107.1 L972.0 106.5 L973.0 105.8 L974.0 105.1 L975.0 104.5 L976.0 103.8 L977.0 103.1 L978.0 102.5 L979.0 101.8 L980.0 101.1 L981.0 100.5 L982.0 99.8 L983.0 99.2 L984.0 98.5 L985.0 97.8 L986.0 97.2 L987.0 96.5 L988.0 95.8 L989.0 95.2 L990.0 94.5 L991.0 93.8 L992.0 93.2 L993.0 92.5 L994.0 91.8 L995.0 91.2 L996.0 90.5 L997.0 89.8 L998.0 89.2 L999.0 88.5 L1000.0 87.8 L1001.0 87.2 L1002.0 86.5 L1003.0 85.8 L1004.0 85.2 L1005.0 84.5 L1006.0 83.9 L1007.0 83.2 L1008.0 82.5 L1009.0 81.9 L1010.0 81.2 L1011.0 80.5 L1012.0 79.9 L1013.0 79.2 L1014.0 78.5 L1015.0 77.9 L1016.0 77.2 L1017.0 76.5 L1018.0 75.9 L1019.0 75.2 L1020.0 74.5 L1021.0 73.9 L1022.0 73.2 L1023.0 72.6 L1024.0 71.9 L1025.0 71.2 L1026.0 70.6 L1027.0 69.9 L1028.0 69.2 L1029.0 68.6 L1030.0 67.9 L1031.0 67.2 L1032.0 66.6 L1033.0 65.9 L1034.0 65.3 L1035.0 64.6 L1036.0 63.9 L1037.0 63.3 L1038.0 62.6 L1039.0 61.9 L1040.0 61.3 L1041.0 60.6 L1042.0 59.9 L1043.0 59.3 L1044.0 58.6 L1045.0 58.0 L1046.0 57.3 L1047.0 56.6 L1048.0 56.0 L1049.0 55.3 L1050.0 54.6 L1051.0 54.0 L1052.0 53.3 L1053.0 52.7 L1054.0 52.0 L1055.0 51.3 L1056.0 50.7 L1057.0 50.0 L1058.0 49.4 L1059.0 48.7 L1060.0 48.0 L1061.0 47.4 L1062.0 46.7 L1063.0 46.1"/>
<path d="M5.0 534.5 L6.0 534.5 L7.0 534.5 L8.0 534.5 L9.0 534.5 L10.0 534.5 L11.0 534.5 L12.0 534.5 L13.0 534.5 L14.0 534.5 L15.0 534.5 L16.0 534.5 L17.0 534.5 L18.0 534.5 L19.0 534.5 L20.0 534.5 L21.0 534.5 L22.0 534.5 L23.0 534.5 L24.0 534.5 L25.0 534.5 L26.0 534.5 L27.0 534.5 L28.0 534.5 L29.0 534.5 L30.0 534.5 L31.0 534.5 L32.0 534.4 L33.0 534.4 L34.0 534.4 L35.0 534.4 L36.0 534.4 L37.0 534.4 L38.0 534.4 L39.0 534.4 L40.0 534.4 L41.0 534.4 L42.0 534.4 L43.0 534.4 L44.0 534.3 L45.0 534.3 L46.0 534.3 L47.0 534.3 L48.0 534.3 L49.0 534.3 L50.0 534.3 L51.0 534.3 L52.0 534.2 L53.0 534.2 L54.0 534.2 L55.0 534.2 L56.0 534.2 L57.0 534.1 L58.0 534.1 L59.0 534.1 L60.0 534.1 L61.0 534.1 L62.0 534.0 L63.0 534.0 L64.0 534.0 L65.0 534.0 L66.0 533.9 L67.0 533.9 L68.0 533.9 L69.0 533.8 L70.0 533.8 L71.0 533.8 L72.0 533.7 L73.0 533.7 L74.0 533.7 L75.0 533.6 L76.0 533.6 L77.0 533.6 L78.0 533.5 L79.0 533.5 L80.0 533.4 L81.0 533.4 L82.0 533.4 L83.0 533.3 L84.0 533.3 L85.0 533.2 L86.0 533.2 L87.0 533.1 L88.0 533.1 L89.0 533.0 L90.0 533.0 L91.0 532.9 L92.0 532.9 L93.0 532.8 L94.0 532.8 L95.0 532.7 L96.0 532.6 L97.0 532.6 L98.0 532.5 L99.0 532.4 L100.0 532.4 L101.0 532.3 L102.0 532.2 L103.0 532.2 L104.0 532.1 L105.0 532.0 L106.0 532.0 L107.0 531.9 L108.0 531.8 L109.0 531.7 L110.0 531.7 L111.0 531.6 L112.0 531.5 L113.0 531.4 L114.0 531.3 L115.0 531.2 L116.0 531.2 L117.0 531.1 L118.0 531.0 L119.0 530.9 L120.0 530.8 L121.0 530.7 L122.0 530.6 L123.0 530.5 L124.0 530.4 L125.0 530.3 L126.0 530.2 L127.0 530.1 L128.0 530.0 L129.0 529.9 L130.0 529.8 L131.0 529.6 L132.0 529.5 L133.0 529.4 L134.0 529.3 L135.0 529.2 L136.0 529.1 L137.0 528.9 L138.0 528.8 L139.0 528.7 L140.0 528.6 L141.0 528.4 L142.0 528.3 L143.0 528.2 L144.0 528.0 L145.0 527.9 L146.0 527.8 L147.0 527.6 L148.0 527.5 L149.0 527.3 L150.0 527.2 L151.0 527.0 L152.0 526.9 L153.0 526.7 L154.0 526.6 L155.0 526.4 L156.0 526.3 L157.0 526.1 L158.0 526.0 L159.0 525.8 L160.0 525.6 L161.0 525.5 L162.0 525.3 L163.0 525.1 L164.0 525.0 L165.0 524.8 L166.0 524.6 L167.0 524.4 L168.0 524.3 L169.0 524.1 L170.0 523.9 L171.0 523.7 L172.0 523.5 L173.0 523.3 L174.0 523.1 L175.0 522.9 L176.0 522.7 L177.0 522.5 L178.0 522.3 L179.0 522.1 L180.0 521.9 L181.0 521.7 L182.0 521.5 L183.0 521.3 L184.0 521.1 L185.0 520.9 L186.0 520.7 L187.0 520.4 L188.0 520.2 L189.0 520.0 L190.0 519.8 L191.0 519.5 L192.0 519.3 L193.0 519.1 L194.0 518.8 L195.0 518.6 L196.0 518.4 L197.0 518.1 L198.0 517.9 L199.0 517.6 L200.0 517.4 L201.0 517.1 L202.0 516.9 L203.0 516.6 L204.0 516.4 L205.0 516.1 L206.0 515.8 L207.0 515.6 L208.0 515.3 L209.0 515.1 L210.0 514.8 L211.0 514.5 L212.0 514.2 L213.0 514.0 L214.0 513.7 L215.0 513.4 L216.0 513.1 L217.0 512.8 L218.0 512.5 L219.0 512.2 L220.0 511.9 L221.0 511.6 L222.0 511.4 L223.0 511.1 L224.0 510.7 L225.0 510.4 L226.0 510.1 L227.0 509.8 L228.0 509.5 L229.0 509.2 L230.0 508.9 L231.0 508.6 L232.0 508.2 L233.0 507.9 L234.0 507.6 L235.0 507.3 L236.0 506.9 L237.0 506.6 L238.0 506.3 L239.0 505.9 L240.0 505.6 L241.0 505.2 L242.0 504.9 L243.0 504.5 L244.0 504.2 L245.0 503.8 L246.0 503.5 L247.0 503.1 L248.0 502.8 L249.0 502.4 L250.0 502.0 L251.0 501.7 L252.0 501.3 L253.0 500.9 L254.0 500.5 L255.0 500.2 L256.0 499.8 L257.0 499.4 L258.0 499.0 L259.0 498.6 L260.0 498.2 L261.0 497.8 L262.0 497.5 L263.0 497.1 L264.0 496.7 L265.0 496.3 L266.0 495.9 L267.0 495.4 L268.0 495.0 L269.0 494.6 L270.0 494.2 L271.0 493.8 L272.0 493.4 L273.0 493.0 L274.0 492.5 L275.0 492.1 L276.0 491.7 L277.0 491.2 L278.0 490.8 L279.0 490.4 L280.0 489.9 L281.0 489.5 L282.0 489.0 L283.0 488.6 L284.0 488.2 L285.0 487.7 L286.0 487.2 L287.0 486.8 L288.0 486.3 L289.0 485.9 L290.0 485.4 L291.0 484.9 L292.0 484.5 L293.0 484.0 L294.0 483.5 L295.0 483.1 L296.0 482.6 L297.0 482.1 L298.0 481.6 L299.0 481.1 L300.0 480.6 L301.0 480.2 L302.0 479.7 L303.0 479.2 L304.0 478.7 L305.0 478.2 L306.0 477.7 L307.0 477.2 L308.0 476.7 L309.0 476.1 L310.0 475.6 L311.0 475.1 L312.0 474.6 L313.0 474.1 L314.0 473.6 L315.0 473.0 L316.0 472.5 L317.0 472.0 L318.0 471.5 L319.0 470.9 L320.0 470.4 L321.0 469.9 L322.0 469.3 L323.0 468.8 L324.0 468.2 L325.0 467.7 L326.0 467.1 L327.0 466.6 L328.0 466.0 L329.0 465.5 L330.0 464.9 L331.0 464.3 L332.0 463.8 L333.0 463.2 L334.0 462.6 L335.0 462.1 L336.0 461.5 L337.0 460.9 L338.0 460.3 L339.0 459.8 L340.0 459.2 L341.0 458.6 L342.0 458.0 L343.0 457.4 L344.0 456.8 L345.0 456.2 L346.0 455.6 L347.0 455.0 L348.0 454.4 L349.0 453.8 L350.0 453.2 L351.0 452.6 L352.0 452.0 L353.0 451.4 L354.0 450.8 L355.0 450.2 L356.0 449.6 L357.0 448.9 L358.0 448.3 L359.0 447.7 L360.0 447.1 L361.0 446.4 L362.0 445.8 L363.0 445.2 L364.0 444.5 L365.0 443.9 L366.0 443.3 L367.0 442.6 L368.0 442.0 L369.0 441.3 L370.0 440.7 L371.0 440.0 L372.0 439.4 L373.0 438.7 L374.0 438.1 L375.0 437.4 L376.0 436.7 L377.0 436.1 L378.0 435.4 L379.0 434.8 L380.0 434.1 L381.0 433.4 L382.0 432.7 L383.0 432.1 L384.0 431.4 L385.0 430.7 L386.0 430.0 L387.0 429.3 L388.0 428.7 L389.0 428.0 L390.0 427.3 L391.0 426.6 L392.0 425.9 L393.0 425.2 L394.0 424.5 L395.0 423.8 L396.0 423.1 L397.0 422.4 L398.0 421.7 L399.0 421.0 L400.0 420.3 L401.0 419.6 L402.0 418.9 L403.0 418.1 L404.0 417.4 L405.0 416.7 L406.0 416.0 L407.0 415.3 L408.0 414.6 L409.0 413.8 L410.0 413.1 L411.0 412.4 L412.0 411.6 L413.0 410.9 L414.0 410.2 L415.0 409.4 L416.0 408.7 L417.0 408.0 L418.0 407.2 L419.0 406.5 L420.0 405.7 L421.0 405.0 L422.0 404.3 L423.0 403.5 L424.0 402.8 L425.0 402.0 L426.0 401.3 L427.0 400.5 L428.0 399.7 L429.0 399.0 L430.0 398.2 L431.0 397.5 L432.0 396.7 L433.0 395.9 L434.0 395.2 L435.0 394.4 L436.0 393.6 L437.0 392.9 L438.0 392.1 L439.0 391.3 L440.0 390.6 L441.0 389.8 L442.0 389.0 L443.0 388.2 L444.0 387.4 L445.0 386.7 L446.0 385.9 L447.0 385.1 L448.0 384.3 L449.0 383.5 L450.0 382.7 L451.0 381.9 L452.0 381.2 L453.0 380.4 L454.0 379.6 L455.0 378.8 L456.0 378.0 L457.0 377.2 L458.0 376.4 L459.0 375.6 L460.0 374.8 L461.0 374.0 L462.0 373.2 L463.0 372.4 L464.0 371.6 L465.0 370.8 L466.0 370.0 L467.0 369.2 L468.0 368.3 L469.0 367.5 L470.0 366.7 L471.0 365.9 L472.0 365.1 L473.0 364.3 L474.0 363.5 L475.0 362.7 L476.0 361.8 L477.0 361.0 L478.0 360.2 L479.0 359.4 L480.0 358.6 L481.0 357.7 L482.0 356.9 L483.0 356.1 L484.0 355.3 L485.0 354.4 L486.0 353.6 L487.0 352.8 L488.0 352.0 L489.0 351.1 L490.0 350.3 L491.0 349.5 L492.0 348.6 L493.0 347.8 L494.0 347.0 L495.0 346.1 L496.0 345.3 L497.0 344.5 L498.0 343.6 L499.0 342.8 L500.0 342.0 L501.0 341.1 L502.0 340.3 L503.0 339.5 L504.0 338.6 L505.0 337.8 L506.0 336.9 L507.0 336.1 L508.0 335.3 L509.0 334.4 L510.0 333.6 L511.0 332.7 L512.0 331.9 L513.0 331.1 L514.0 330.2 L515.0 329.4 L516.0 328.5 L517.0 327.7 L518.0 326.8 L519.0 326.0 L520.0 325.2 L521.0 324.3 L522.0 323.5 L523.0 322.6 L524.0 321.8 L525.0 320.9 L526.0 320.1 L527.0 319.2 L528.0 318.4 L529.0 317.5 L530.0 316.7 L531.0 315.8 L532.0 315.0 L533.0 314.2 L534.0 313.3 L535.0 312.5 L536.0 311.6 L537.0 310.8 L538.0 309.9 L539.0 309.1 L540.0 308.2 L541.0 307.4 L542.0 306.5 L543.0 305.7 L544.0 304.8 L545.0 304.0 L546.0 303.2 L547.0 302.3 L548.0 301.5 L549.0 300.6 L550.0 299.8 L551.0 298.9 L552.0 298.1 L553.0 297.2 L554.0 296.4 L555.0 295.6 L556.0 294.7 L557.0 293.9 L558.0 293.0 L559.0 292.2 L560.0 291.3 L561.0 290.5 L562.0 289.7 L563.0 288.8 L564.0 288.0 L565.0 287.1 L566.0 286.3 L567.0 285.5 L568.0 284.6 L569.0 283.8 L570.0 283.0 L571.0 282.1 L572.0 281.3 L573.0 280.5 L574.0 279.6 L575.0 278.8 L576.0 278.0 L577.0 277.1 L578.0 276.3 L579.0 275.5 L580.0 274.6 L581.0 273.8 L582.0 273.0 L583.0 272.2 L584.0 271.3 L585.0 270.5 L586.0 269.7 L587.0 268.9 L588.0 268.0 L589.0 267.2 L590.0 266.4 L591.0 265.6 L592.0 264.8 L593.0 264.0 L594.0 263.1 L595.0 262.3 L596.0 261.5 L597.0 260.7 L598.0 259.9 L599.0 259.1 L600.0 258.3 L601.0 257.5 L602.0 256.7 L603.0 255.9 L604.0 255.1 L605.0 254.3 L606.0 253.4 L607.0 252.7 L608.0 251.9 L609.0 251.1 L610.0 250.3 L611.0 249.5 L612.0 248.7 L613.0 247.9 L614.0 247.1 L615.0 246.3 L616.0 245.5 L617.0 244.7 L618.0 244.0 L619.0 243.2 L620.0 242.4 L621.0 241.6 L622.0 240.8 L623.0 240.1 L624.0 239.3 L625.0 238.5 L626.0 237.8 L627.0 237.0 L628.0 236.2 L629.0 235.5 L630.0 234.7 L631.0 233.9 L632.0 233.2 L633.0 232.4 L634.0 231.7 L635.0 230.9 L636.0 230.2 L637.0 229.4 L638.0 228.7 L639.0 227.9 L640.0 227.2 L641.0 226.4 L642.0 225.7 L643.0 225.0 L644.0 224.2 L645.0 223.5 L646.0 222.8 L647.0 222.0 L648.0 221.3 L649.0 220.6 L650.0 219.9 L651.0 219.2 L652.0 218.4 L653.0 217.7 L654.0 217.0 L655.0 216.3 L656.0 215.6 L657.0 214.9 L658.0 214.2 L659.0 213.5 L660.0 212.8 L661.0 212.1 L662.0 211.4 L663.0 210.7 L664.0 210.0 L665.0 209.3 L666.0 208.7 L667.0 208.0 L668.0 207.3 L669.0 206.6 L670.0 206.0 L671.0 205.3 L672.0 204.6 L673.0 204.0 L674.0 203.3 L675.0 202.6 L676.0 202.0 L677.0 201.3 L678.0 200.7 L679.0 200.0 L680.0 199.4 L681.0 198.8 L682.0 198.1 L683.0 197.5 L684.0 196.9 L685.0 196.2 L686.0 195.6 L687.0 195.0 L688.0 194.4 L689.0 193.8 L690.0 193.1 L691.0 192.5 L692.0 191.9 L693.0 191.3 L694.0 190.7 L695.0 190.1 L696.0 189.5 L697.0 188.9 L698.0 188.4 L699.0 187.8 L700.0 187.2 L701.0 186.6 L702.0 186.0 L703.0 185.5 L704.0 184.9 L705.0 184.4 L706.0 183.8 L707.0 183.2 L708.0 182.7 L709.0 182.1 L710.0 181.6 L711.0 181.1 L712.0 180.5 L713.0 180.0 L714.0 179.5 L715.0 178.9 L716.0 178.4 L717.0 177.9 L718.0 177.4 L719.0 176.9 L720.0 176.4 L721.0 175.8 L722.0 175.3 L723.0 174.9 L724.0 174.4 L725.0 173.9 L726.0 173.4 L727.0 172.9 L728.0 172.4 L729.0 172.0 L730.0 171.5 L731.0 171.0 L732.0 170.6 L733.0 170.1 L734.0 169.7 L735.0 169.2 L736.0 168.8 L737.0 168.3 L738.0 167.9 L739.0 167.5 L740.0 167.0 L741.0 166.6 L742.0 166.2 L743.0 165.8 L744.0 165.4 L745.0 165.0 L746.0 164.6 L747.0 164.2 L748.0 163.8 L749.0 163.4 L750.0 163.0 L751.0 162.7 L752.0 162.3 L753.0 161.9 L754.0 161.5 L755.0 161.2 L756.0 160.8 L757.0 160.5 L758.0 160.1 L759.0 159.8 L760.0 159.5 L761.0 159.1 L762.0 158.8 L763.0 158.5 L764.0 158.2 L765.0 157.9 L766.0 157.6 L767.0 157.3 L768.0 157.0 L769.0 156.7 L770.0 156.4 L771.0 156.1 L772.0 155.8 L773.0 155.6 L774.0 155.3 L775.0 155.0 L776.0 154.8 L777.0 154.5 L778.0 154.3 L779.0 154.0 L780.0 153.8 L781.0 153.6 L782.0 153.3 L783.0 153.1 L784.0 152.9 L785.0 152.7 L786.0 152.5 L787.0 152.3 L788.0 152.1 L789.0 151.9 L790.0 151.7 L791.0 151.6 L792.0 151.4 L793.0 151.2 L794.0 151.1 L795.0 150.9 L796.0 150.8 L797.0 150.6 L798.0 150.5 L799.0 150.4 L800.0 150.2 L801.0 150.1 L802.0 150.0 L803.0 149.9 L804.0 149.8 L805.0 149.7 L806.0 149.6 L807.0 149.5 L808.0 149.4 L809.0 149.4 L810.0 149.3 L811.0 149.2 L812.0 149.2 L813.0 149.1 L814.0 149.1 L815.0 149.0 L816.0 149.0 L817.0 149.0 L818.0 149.0 L819.0 148.9 L820.0 148.9 L821.0 148.9 L822.0 148.9 L823.0 148.9 L824.0 149.0 L825.0 149.0 L826.0 149.0 L827.0 149.1 L828.0 149.1 L829.0 149.1 L830.0 149.2 L831.0 149.3 L832.0 149.3 L833.0 149.4 L834.0 149.5 L835.0 149.6 L836.0 149.7 L837.0 149.8 L838.0 149.9 L839.0 150.0 L840.0 150.1 L841.0 150.2 L842.0 150.4 L843.0 150.5 L844.0 150.7 L845.0 150.8 L846.0 151.0 L847.0 151.1 L848.0 151.3 L849.0 151.5 L850.0 151.7 L851.0 151.9 L852.0 152.1 L853.0 152.3 L854.0 152.5 L855.0 152.7 L856.0 152.9 L857.0 153.2 L858.0 153.4 L859.0 153.7 L860.0 153.9 L861.0 154.2 L862.0 154.5 L863.0 154.7 L864.0 155.0 L865.0 155.3 L866.0 155.6 L867.0 155.9 L868.0 156.2 L869.0 156.6 L870.0 156.9 L871.0 157.2 L872.0 157.6 L873.0 157.9 L874.0 158.3 L875.0 158.6 L876.0 159.0 L877.0 159.4 L878.0 159.8 L879.0 160.2 L880.0 160.6 L881.0 161.0 L882.0 161.4 L883.0 161.8 L884.0 162.3 L885.0 162.7 L886.0 163.1 L887.0 163.6 L888.0 164.1 L889.0 164.5 L890.0 165.0 L891.0 165.5 L892.0 166.0 L893.0 166.5 L894.0 167.0 L895.0 167.5 L896.0 168.1 L897.0 168.6 L898.0 169.1 L899.0 169.7 L900.0 170.2 L901.0 170.8 L902.0 171.4 L903.0 171.9 L904.0 172.5 L905.0 173.1 L906.0 173.7 L907.0 174.4 L908.0 175.0 L909.0 175.6 L910.0 176.2 L911.0 176.9 L912.0 177.5 L913.0 178.2 L914.0 178.9 L915.0 179.5 L916.0 180.2 L917.0 180.9 L918.0 181.6 L919.0 182.3 L920.0 183.1 L921.0 183.8 L922.0 184.5 L923.0 185.3 L924.0 186.0 L925.0 186.8 L926.0 187.6 L927.0 188.3 L928.0 189.1 L929.0 189.9 L930.0 190.7 L931.0 191.5 L932.0 192.4 L933.0 193.2 L934.0 194.0 L935.0 194.9 L936.0 195.7 L937.0 196.6 L938.0 197.5 L939.0 198.4 L940.0 199.3 L941.0 200.2 L942.0 201.1 L943.0 202.0 L944.0 202.9 L945.0 203.8 L946.0 204.8 L947.0 205.7 L948.0 206.7 L949.0 207.7 L950.0 208.7 L951.0 209.6 L952.0 210.6 L953.0 211.7 L954.0 212.7 L955.0 213.7 L956.0 214.7 L957.0 215.8 L958.0 216.8 L959.0 217.9 L960.0 219.0 L961.0 220.0 L962.0 221.1 L963.0 222.2 L964.0 223.3 L965.0 224.5 L966.0 225.6 L967.0 226.7 L968.0 227.9 L969.0 229.0 L970.0 230.2 L971.0 231.4 L972.0 232.6 L973.0 233.7 L974.0 235.0 L975.0 236.2 L976.0 237.4 L977.0 238.6 L978.0 239.9 L979.0 241.1 L980.0 242.4 L981.0 243.6 L982.0 244.9 L983.0 246.2 L984.0 247.5 L985.0 248.8 L986.0 250.1 L987.0 251.5 L988.0 252.8 L989.0 254.1 L990.0 255.5 L991.0 256.9 L992.0 258.2 L993.0 259.6 L994.0 261.0 L995.0 262.4 L996.0 263.9 L997.0 265.3 L998.0 266.7 L999.0 268.2 L1000.0 269.6 L1001.0 271.1 L1002.0 272.6 L1003.0 274.1 L1004.0 275.5 L1005.0 277.1 L1006.0 278.6 L1007.0 280.1 L1008.0 281.6 L1009.0 283.2 L1010.0 284.7 L1011.0 286.3 L1012.0 287.9 L1013.0 289.5 L1014.0 291.1 L1015.0 292.7 L1016.0 294.3 L1017.0 295.9 L1018.0 297.6 L1019.0 299.2 L1020.0 300.9 L1021.0 302.6 L1022.0 304.2 L1023.0 305.9 L1024.0 307.6 L1025.0 309.3 L1026.0 311.1 L1027.0 312.8 L1028.0 314.5 L1029.0 316.3 L1030.0 318.1 L1031.0 319.8 L1032.0 321.6 L1033.0 323.4 L1034.0 325.2 L1035.0 327.1 L1036.0 328.9 L1037.0 330.7 L1038.0 332.6 L1039.0 334.4 L1040.0 336.3 L1041.0 338.2 L1042.0 340.1 L1043.0 342.0 L1044.0 343.9 L1045.0 345.8 L1046.0 347.8 L1047.0 349.7 L1048.0 351.7 L1049.0 353.7 L1050.0 355.6 L1051.0 357.6 L1052.0 359.6 L1053.0 361.6 L1054.0 363.7 L1055.0 365.7 L1056.0 367.8 L1057.0 369.8 L1058.0 371.9 L1059.0 374.0 L1060.0 376.1 L1061.0 378.2 L1062.0 380.3 L1063.0 382.4"/>
<path d="M5.0 534.5 L6.0 534.5 L7.0 534.5 L8.0 534.5 L9.0 534.5 L10.0 534.5 L11.0 534.5 L12.0 534.5 L13.0 534.5 L14.0 534.5 L15.0 534.5 L16.0 534.5 L17.0 534.5 L18.0 534.5 L19.0 534.5 L20.0 534.5 L21.0 534.5 L22.0 534.5 L23.0 534.5 L24.0 534.5 L25.0 534.5 L26.0 534.5 L27.0 534.5 L28.0 534.5 L29.0 534.5 L30.0 534.5 L31.0 534.5 L32.0 534.5 L33.0 534.5 L34.0 534.5 L35.0 534.5 L36.0 534.5 L37.0 534.5 L38.0 534.6 L39.0 534.6 L40.0 534.6 L41.0 534.6 L42.0 534.6 L43.0 534.6 L44.0 534.6 L45.0 534.6 L46.0 534.6 L47.0 534.6 L48.0 534.6 L49.0 534.6 L50.0 534.6 L51.0 534.7 L52.0 534.7 L53.0 534.7 L54.0 534.7 L55.0 534.7 L56.0 534.7 L57.0 534.7 L58.0 534.7 L59.0 534.7 L60.0 534.8 L61.0 534.8 L62.0 534.8 L63.0 534.8 L64.0 534.8 L65.0 534.8 L66.0 534.8 L67.0 534.8 L68.0 534.9 L69.0 534.9 L70.0 534.9 L71.0 534.9 L72.0 534.9 L73.0 534.9 L74.0 534.9 L75.0 534.9 L76.0 535.0 L77.0 535.0 L78.0 535.0 L79.0 535.0 L80.0 535.0 L81.0 535.0 L82.0 535.0 L83.0 535.0 L84.0 535.0 L85.0 535.1 L86.0 535.1 L87.0 535.1 L88.0 535.1 L89.0 535.1 L90.0 535.1 L91.0 535.1 L92.0 535.1 L93.0 535.1 L94.0 535.1 L95.0 535.1 L96.0 535.1 L97.0 535.1 L98.0 535.1 L99.0 535.1 L100.0 535.1 L101.0 535.1 L102.0 535.1 L103.0 535.1 L104.0 535.1 L105.0 535.1 L106.0 535.1 L107.0 535.1 L108.0 535.0 L109.0 535.0 L110.0 535.0 L111.0 535.0 L112.0 535.0 L113.0 535.0 L114.0 534.9 L115.0 534.9 L116.0 534.9 L117.0 534.9 L118.0 534.8 L119.0 534.8 L120.0 534.8 L121.0 534.7 L122.0 534.7 L123.0 534.7 L124.0 534.6 L125.0 534.6 L126.0 534.6 L127.0 534.5 L128.0 534.5 L129.0 534.4 L130.0 534.4 L131.0 534.3 L132.0 534.2 L133.0 534.2 L134.0 534.1 L135.0 534.1 L136.0 534.0 L137.0 533.9 L138.0 533.9 L139.0 533.8 L140.0 533.7 L141.0 533.6 L142.0 533.6 L143.0 533.5 L144.0 533.4 L145.0 533.3 L146.0 533.2 L147.0 533.1 L148.0 533.0 L149.0 532.9 L150.0 532.8 L151.0 532.7 L152.0 532.6 L153.0 532.5 L154.0 532.4 L155.0 532.3 L156.0 532.2 L157.0 532.0 L158.0 531.9 L159.0 531.8 L160.0 531.7 L161.0 531.5 L162.0 531.4 L163.0 531.3 L164.0 531.1 L165.0 531.0 L166.0 530.8 L167.0 530.7 L168.0 530.5 L169.0 530.4 L170.0 530.2 L171.0 530.0 L172.0 529.9 L173.0 529.7 L174.0 529.5 L175.0 529.3 L176.0 529.2 L177.0 529.0 L178.0 528.8 L179.0 528.6 L180.0 528.4 L181.0 528.2 L182.0 528.0 L183.0 527.8 L184.0 527.6 L185.0 527.4 L186.0 527.2 L187.0 527.0 L188.0 526.8 L189.0 526.5 L190.0 526.3 L191.0 526.1 L192.0 525.9 L193.0 525.6 L194.0 525.4 L195.0 525.1 L196.0 524.9 L197.0 524.7 L198.0 524.4 L199.0 524.1 L200.0 523.9 L201.0 523.6 L202.0 523.4 L203.0 523.1 L204.0 522.8 L205.0 522.5 L206.0 522.3 L207.0 522.0 L208.0 521.7 L209.0 521.4 L210.0 521.1 L211.0 520.8 L212.0 520.5 L213.0 520.2 L214.0 519.9 L215.0 519.6 L216.0 519.3 L217.0 519.0 L218.0 518.6 L219.0 518.3 L220.0 518.0 L221.0 517.7 L222.0 517.3 L223.0 517.0 L224.0 516.7 L225.0 516.3 L226.0 516.0 L227.0 515.6 L228.0 515.3 L229.0 514.9 L230.0 514.5 L231.0 514.2 L232.0 513.8 L233.0 513.4 L234.0 513.1 L235.0 512.7 L236.0 512.3 L237.0 511.9 L238.0 511.5 L239.0 511.1 L240.0 510.7 L241.0 510.3 L242.0 509.9 L243.0 509.5 L244.0 509.1 L245.0 508.7 L246.0 508.3 L247.0 507.8 L248.0 507.4 L249.0 507.0 L250.0 506.6 L251.0 506.1 L252.0 505.7 L253.0 505.2 L254.0 504.8 L255.0 504.3 L256.0 503.9 L257.0 503.4 L258.0 503.0 L259.0 502.5 L260.0 502.0 L261.0 501.6 L262.0 501.1 L263.0 500.6 L264.0 500.1 L265.0 499.7 L266.0 499.2 L267.0 498.7 L268.0 498.2 L269.0 497.7 L270.0 497.2 L271.0 496.7 L272.0 496.2 L273.0 495.6 L274.0 495.1 L275.0 494.6 L276.0 494.1 L277.0 493.5 L278.0 493.0 L279.0 492.5 L280.0 491.9 L281.0 491.4 L282.0 490.8 L283.0 490.3 L284.0 489.7 L285.0 489.2 L286.0 488.6 L287.0 488.0 L288.0 487.5 L289.0 486.9 L290.0 486.3 L291.0 485.7 L292.0 485.2 L293.0 484.6 L294.0 484.0 L295.0 483.4 L296.0 482.8 L297.0 482.2 L298.0 481.6 L299.0 481.0 L300.0 480.4 L301.0 479.7 L302.0 479.1 L303.0 478.5 L304.0 477.9 L305.0 477.2 L306.0 476.6 L307.0 475.9 L308.0 475.3 L309.0 474.6 L310.0 474.0 L311.0 473.3 L312.0 472.7 L313.0 472.0 L314.0 471.3 L315.0 470.7 L316.0 470.0 L317.0 469.3 L318.0 468.6 L319.0 468.0 L320.0 467.3 L321.0 466.6 L322.0 465.9 L323.0 465.2 L324.0 464.5 L325.0 463.8 L326.0 463.0 L327.0 462.3 L328.0 461.6 L329.0 460.9 L330.0 460.2 L331.0 459.4 L332.0 458.7 L333.0 457.9 L334.0 457.2 L335.0 456.5 L336.0 455.7 L337.0 455.0 L338.0 454.2 L339.0 453.4 L340.0 452.7 L341.0 451.9 L342.0 451.1 L343.0 450.3 L344.0 449.6 L345.0 448.8 L346.0 448.0 L347.0 447.2 L348.0 446.4 L349.0 445.6 L350.0 444.8 L351.0 444.0 L352.0 443.2 L353.0 442.4 L354.0 441.6 L355.0 440.7 L356.0 439.9 L357.0 439.1 L358.0 438.3 L359.0 437.4 L360.0 436.6 L361.0 435.8 L362.0 434.9 L363.0 434.1 L364.0 433.2 L365.0 432.4 L366.0 431.5 L367.0 430.6 L368.0 429.8 L369.0 428.9 L370.0 428.0 L371.0 427.2 L372.0 426.3 L373.0 425.4 L374.0 424.5 L375.0 423.6 L376.0 422.8 L377.0 421.9 L378.0 421.0 L379.0 420.1 L380.0 419.2 L381.0 418.3 L382.0 417.4 L383.0 416.4 L384.0 415.5 L385.0 414.6 L386.0 413.7 L387.0 412.8 L388.0 411.9 L389.0 410.9 L390.0 410.0 L391.0 409.1 L392.0 408.1 L393.0 407.2 L394.0 406.3 L395.0 405.3 L396.0 404.4 L397.0 403.4 L398.0 402.5 L399.0 401.5 L400.0 400.6 L401.0 399.6 L402.0 398.7 L403.0 397.7 L404.0 396.8 L405.0 395.8 L406.0 394.8 L407.0 393.9 L408.0 392.9 L409.0 391.9 L410.0 391.0 L411.0 390.0 L412.0 389.0 L413.0 388.0 L414.0 387.1 L415.0 386.1 L416.0 385.1 L417.0 384.1 L418.0 383.1 L419.0 382.2 L420.0 381.2 L421.0 380.2 L422.0 379.2 L423.0 378.2 L424.0 377.2 L425.0 376.2 L426.0 375.2 L427.0 374.3 L428.0 373.3 L429.0 372.3 L430.0 371.3 L431.0 370.3 L432.0 369.3 L433.0 368.3 L434.0 367.3 L435.0 366.3 L436.0 365.3 L437.0 364.3 L438.0 363.3 L439.0 362.3 L440.0 361.3 L441.0 360.4 L442.0 359.4 L443.0 358.4 L444.0 357.4 L445.0 356.4 L446.0 355.4 L447.0 354.4 L448.0 353.4 L449.0 352.4 L450.0 351.4 L451.0 350.4 L452.0 349.4 L453.0 348.5 L454.0 347.5 L455.0 346.5 L456.0 345.5 L457.0 344.5 L458.0 343.5 L459.0 342.6 L460.0 341.6 L461.0 340.6 L462.0 339.6 L463.0 338.7 L464.0 337.7 L465.0 336.7 L466.0 335.7 L467.0 334.8 L468.0 333.8 L469.0 332.8 L470.0 331.9 L471.0 330.9 L472.0 330.0 L473.0 329.0 L474.0 328.1 L475.0 327.1 L476.0 326.2 L477.0 325.2 L478.0 324.3 L479.0 323.3 L480.0 322.4 L481.0 321.5 L482.0 320.5 L483.0 319.6 L484.0 318.7 L485.0 317.8 L486.0 316.8 L487.0 315.9 L488.0 315.0 L489.0 314.1 L490.0 313.2 L491.0 312.3 L492.0 311.4 L493.0 310.5 L494.0 309.6 L495.0 308.7 L496.0 307.8 L497.0 306.9 L498.0 306.1 L499.0 305.2 L500.0 304.3 L501.0 303.5 L502.0 302.6 L503.0 301.7 L504.0 300.9 L505.0 300.0 L506.0 299.2 L507.0 298.3 L508.0 297.5 L509.0 296.7 L510.0 295.8 L511.0 295.0 L512.0 294.2 L513.0 293.4 L514.0 292.6 L515.0 291.8 L516.0 290.9 L517.0 290.1 L518.0 289.4 L519.0 288.6 L520.0 287.8 L521.0 287.0 L522.0 286.2 L523.0 285.5 L524.0 284.7 L525.0 283.9 L526.0 283.2 L527.0 282.4 L528.0 281.7 L529.0 280.9 L530.0 280.2 L531.0 279.5 L532.0 278.7 L533.0 278.0 L534.0 277.3 L535.0 276.6 L536.0 275.9 L537.0 275.2 L538.0 274.5 L539.0 273.8 L540.0 273.1 L541.0 272.4 L542.0 271.7 L543.0 271.0 L544.0 270.4 L545.0 269.7 L546.0 269.1 L547.0 268.4 L548.0 267.8 L549.0 267.1 L550.0 266.5 L551.0 265.8 L552.0 265.2 L553.0 264.6 L554.0 264.0 L555.0 263.4 L556.0 262.7 L557.0 262.1 L558.0 261.5 L559.0 261.0 L560.0 260.4 L561.0 259.8 L562.0 259.2 L563.0 258.6 L564.0 258.1 L565.0 257.5 L566.0 256.9 L567.0 256.4 L568.0 255.8 L569.0 255.3 L570.0 254.7 L571.0 254.2 L572.0 253.7 L573.0 253.1 L574.0 252.6 L575.0 252.1 L576.0 251.6 L577.0 251.1 L578.0 250.6 L579.0 250.1 L580.0 249.6 L581.0 249.1 L582.0 248.6 L583.0 248.1 L584.0 247.6 L585.0 247.2 L586.0 246.7 L587.0 246.2 L588.0 245.7 L589.0 245.3 L590.0 244.8 L591.0 244.4 L592.0 243.9 L593.0 243.5 L594.0 243.0 L595.0 242.6 L596.0 242.2 L597.0 241.7 L598.0 241.3 L599.0 240.9 L600.0 240.4 L601.0 240.0 L602.0 239.6 L603.0 239.2 L604.0 238.8 L605.0 238.4 L606.0 238.0 L607.0 237.6 L608.0 237.2 L609.0 236.8 L610.0 236.4 L611.0 236.0 L612.0 235.6 L613.0 235.2 L614.0 234.8 L615.0 234.4 L616.0 234.0 L617.0 233.7 L618.0 233.3 L619.0 232.9 L620.0 232.5 L621.0 232.2 L622.0 231.8 L623.0 231.4 L624.0 231.1 L625.0 230.7 L626.0 230.3 L627.0 230.0 L628.0 229.6 L629.0 229.2 L630.0 228.9 L631.0 228.5 L632.0 228.1 L633.0 227.8 L634.0 227.4 L635.0 227.1 L636.0 226.7 L637.0 226.4 L638.0 226.0 L639.0 225.6 L640.0 225.3 L641.0 224.9 L642.0 224.6 L643.0 224.2 L644.0 223.9 L645.0 223.5 L646.0 223.1 L647.0 222.8 L648.0 222.4 L649.0 222.1 L650.0 221.7 L651.0 221.3 L652.0 221.0 L653.0 220.6 L654.0 220.3 L655.0 219.9 L656.0 219.5 L657.0 219.2 L658.0 218.8 L659.0 218.4 L660.0 218.1 L661.0 217.7 L662.0 217.3 L663.0 216.9 L664.0 216.6 L665.0 216.2 L666.0 215.8 L667.0 215.4 L668.0 215.1 L669.0 214.7 L670.0 214.3 L671.0 213.9 L672.0 213.5 L673.0 213.1 L674.0 212.7 L675.0 212.3 L676.0 211.9 L677.0 211.5 L678.0 211.1 L679.0 210.7 L680.0 210.3 L681.0 209.9 L682.0 209.5 L683.0 209.1 L684.0 208.7 L685.0 208.3 L686.0 207.9 L687.0 207.4 L688.0 207.0 L689.0 206.6 L690.0 206.2 L691.0 205.7 L692.0 205.3 L693.0 204.8 L694.0 204.4 L695.0 204.0 L696.0 203.5 L697.0 203.1 L698.0 202.6 L699.0 202.2 L700.0 201.7 L701.0 201.2 L702.0 200.8 L703.0 200.3 L704.0 199.9 L705.0 199.4 L706.0 198.9 L707.0 198.4 L708.0 198.0 L709.0 197.5 L710.0 197.0 L711.0 196.5 L712.0 196.0 L713.0 195.5 L714.0 195.0 L715.0 194.6 L716.0 194.1 L717.0 193.6 L718.0 193.1 L719.0 192.5 L720.0 192.0 L721.0 191.5 L722.0 191.0 L723.0 190.5 L724.0 190.0 L725.0 189.5 L726.0 189.0 L727.0 188.4 L728.0 187.9 L729.0 187.4 L730.0 186.9 L731.0 186.3 L732.0 185.8 L733.0 185.3 L734.0 184.7 L735.0 184.2 L736.0 183.7 L737.0 183.1 L738.0 182.6 L739.0 182.1 L740.0 181.5 L741.0 181.0 L742.0 180.5 L743.0 179.9 L744.0 179.4 L745.0 178.8 L746.0 178.3 L747.0 177.7 L748.0 177.2 L749.0 176.7 L750.0 176.1 L751.0 175.6 L752.0 175.0 L753.0 174.5 L754.0 173.9 L755.0 173.4 L756.0 172.9 L757.0 172.3 L758.0 171.8 L759.0 171.2 L760.0 170.7 L761.0 170.2 L762.0 169.6 L763.0 169.1 L764.0 168.6 L765.0 168.1 L766.0 167.5 L767.0 167.0 L768.0 166.5 L769.0 166.0 L770.0 165.4 L771.0 164.9 L772.0 164.4 L773.0 163.9 L774.0 163.4 L775.0 162.9 L776.0 162.4 L777.0 161.9 L778.0 161.4 L779.0 160.9 L780.0 160.4 L781.0 160.0 L782.0 159.5 L783.0 159.0 L784.0 158.5 L785.0 158.1 L786.0 157.6 L787.0 157.2 L788.0 156.7 L789.0 156.3 L790.0 155.8 L791.0 155.4 L792.0 155.0 L793.0 154.5 L794.0 154.1 L795.0 153.7 L796.0 153.3 L797.0 152.9 L798.0 152.5 L799.0 152.1 L800.0 151.8 L801.0 151.4 L802.0 151.0 L803.0 150.7 L804.0 150.3 L805.0 150.0 L806.0 149.7 L807.0 149.3 L808.0 149.0 L809.0 148.7 L810.0 148.4 L811.0 148.1 L812.0 147.8 L813.0 147.6 L814.0 147.3 L815.0 147.1 L816.0 146.8 L817.0 146.6 L818.0 146.3 L819.0 146.1 L820.0 145.9 L821.0 145.7 L822.0 145.5 L823.0 145.4 L824.0 145.2 L825.0 145.0 L826.0 144.9 L827.0 144.8 L828.0 144.6 L829.0 144.5 L830.0 144.4 L831.0 144.3 L832.0 144.3 L833.0 144.2 L834.0 144.2 L835.0 144.1 L836.0 144.1 L837.0 144.1 L838.0 144.1 L839.0 144.1 L840.0 144.1 L841.0 144.1 L842.0 144.2 L843.0 144.3 L844.0 144.3 L845.0 144.4 L846.0 144.5 L847.0 144.7 L848.0 144.8 L849.0 144.9 L850.0 145.1 L851.0 145.3 L852.0 145.5 L853.0 145.7 L854.0 145.9 L855.0 146.2 L856.0 146.4 L857.0 146.7 L858.0 147.0 L859.0 147.3 L860.0 147.6 L861.0 148.0 L862.0 148.3 L863.0 148.7 L864.0 149.1 L865.0 149.5 L866.0 149.9 L867.0 150.4 L868.0 150.9 L869.0 151.3 L870.0 151.9 L871.0 152.4 L872.0 152.9 L873.0 153.5 L874.0 154.1 L867.4 150.6 L868.7 151.2 L870.1 151.9 L871.4 152.6 L872.7 153.3 L874.0 154.1 L875.3 154.9 L876.6 155.7 L877.8 156.5 L879.1 157.4 L880.3 158.3 L881.5 159.2 L882.7 160.1 L883.8 161.1 L885.0 162.1 L886.1 163.1 L887.2 164.1 L888.2 165.2 L889.3 166.2 L890.3 167.3 L891.4 168.4 L892.3 169.5 L893.3 170.7 L894.3 171.8 L895.2 173.0 L896.1 174.2 L897.1 175.4 L898.0 176.6 L898.8 177.8 L899.7 179.0 L900.6 180.3 L901.4 181.5 L902.2 182.8 L903.0 184.1 L903.8 185.4 L904.6 186.7 L905.4 188.0 L906.2 189.3 L907.0 190.6 L907.7 191.9 L908.5 193.3 L909.2 194.6 L910.0 195.9 L910.7 197.2 L911.4 198.6 L912.2 199.9 L912.9 201.3 L913.6 202.6 L914.3 203.9 L915.0 205.3 L915.7 206.6 L916.5 208.0 L917.2 209.3 L917.9 210.6 L918.6 212.0 L919.2 213.3 L919.9 214.7 L920.6 216.0 L921.3 217.4 L922.0 218.7 L922.6 220.1 L923.3 221.4 L924.0 222.8 L924.6 224.1 L925.3 225.5 L925.9 226.8 L926.6 228.2 L927.2 229.5 L927.9 230.9 L928.5 232.2 L929.1 233.6 L929.8 235.0 L930.4 236.3 L931.0 237.7 L931.6 239.1 L932.2 240.4 L932.8 241.8 L933.4 243.2 L934.0 244.5 L934.6 245.9 L935.2 247.3 L935.7 248.7 L936.3 250.0 L936.9 251.4 L937.4 252.8 L938.0 254.2 L938.5 255.6 L939.1 257.0 L939.6 258.4 L940.2 259.7 L940.7 261.1 L941.2 262.5 L941.7 263.9 L942.3 265.3 L942.8 266.7 L943.3 268.1 L943.8 269.5 L944.3 270.9 L944.8 272.4 L945.3 273.8 L945.8 275.2 L946.3 276.6 L946.8 278.0 L947.3 279.4 L947.7 280.8 L948.2 282.3 L948.7 283.7 L949.2 285.1 L949.6 286.5 L950.1 288.0 L950.6 289.4 L951.0 290.8 L951.5 292.3 L952.0 293.7 L952.4 295.1 L952.9 296.6 L953.4 298.0 L953.8 299.5 L954.3 300.9 L954.7 302.4 L955.2 303.8 L955.6 305.3 L956.1 306.7 L956.5 308.2 L957.0 309.7 L957.4 311.1 L957.9 312.6 L958.3 314.1 L958.7 315.5 L959.2 317.0 L959.6 318.5 L960.1 320.0 L960.5 321.4 L961.0 322.9 L961.4 324.4 L961.9 325.9 L962.3 327.3 L962.8 328.8 L963.2 330.3 L963.7 331.8 L964.1 333.2 L964.6 334.7 L965.1 336.1 L965.5 337.6 L966.0 339.1 L966.4 340.5 L966.9 341.9 L967.4 343.4 L967.9 344.8 L968.4 346.2 L968.8 347.6 L969.3 349.0 L969.8 350.4 L970.3 351.8 L970.8 353.2 L971.3 354.5 L971.9 355.9 L972.4 357.2 L972.9 358.5 L973.4 359.8 L974.0 361.1 L974.5 362.4 L975.1 363.7 L975.6 365.0 L976.2 366.2 L976.8 367.5 L977.3 368.7 L977.9 370.0 L978.5 371.2 L979.1 372.5 L979.7 373.7 L980.3 375.0 L980.9 376.2 L981.5 377.5 L982.2 378.7 L982.8 380.0 L983.5 381.3 L984.1 382.6 L984.8 383.9 L985.4 385.2 L986.1 386.6 L986.8 388.0 L987.5 389.3 L988.2 390.7 L988.9 392.2 L989.6 393.6 L990.3 395.1 L991.0 396.6 L991.8 398.1 L992.5 399.7 L993.3 401.3 L994.0 402.9 L994.8 404.6 L995.6 406.2 L996.4 408.0 L997.1 409.7 L997.9 411.5 L998.7 413.2 L999.6 415.0 L1000.4 416.7 L1001.2 418.4 L1002.0 420.0 L1002.8 421.7 L1003.6 423.2 L1004.5 424.7 L1005.3 426.1 L1006.1 427.4 L1006.9 428.7 L1007.7 429.8 L1008.6 430.8 L1009.4 431.7 L1010.2 432.4 L1011.0 433.0 L1011.7 433.5 L1012.5 433.8 L1013.3 433.9 L1014.1 433.8 L1014.8 433.6 L1015.6 433.2 L1016.3 432.6 L1017.0 431.9 L1017.7 431.1 L1018.5 430.1 L1019.2 429.0 L1019.9 427.8 L1020.5 426.5 L1021.2 425.1 L1021.9 423.6 L1022.6 422.0 L1023.2 420.4 L1023.9 418.7 L1024.5 416.9 L1025.1 415.1 L1025.8 413.3 L1026.4 411.4 L1027.0 409.6 L1027.6 407.7 L1028.2 405.8 L1028.8 403.9 L1029.4 402.0 L1029.9 400.2 L1030.5 398.4 L1031.1 396.7 L1031.6 394.9 L1032.2 393.2 L1032.7 391.6 L1033.2 389.9 L1033.8 388.3 L1034.3 386.7 L1034.8 385.2 L1035.3 383.6 L1035.8 382.1 L1036.3 380.7 L1036.8 379.2 L1037.3 377.7 L1037.8 376.3 L1038.2 374.9 L1038.7 373.5 L1039.1 372.1 L1039.6 370.8 L1040.0 369.4 L1040.4 368.1 L1040.9 366.7 L1041.3 365.4 L1041.7 364.1 L1042.1 362.8 L1042.5 361.4 L1042.8 360.1 L1043.2 358.8 L1043.6 357.5 L1044.0 356.2 L1044.3 354.9 L1044.6 353.6 L1045.0 352.3 L1045.3 350.9 L1045.6 349.6 L1045.9 348.3 L1046.3 346.9 L1046.5 345.6 L1046.8 344.2 L1047.1 342.8 L1047.4 341.4 L1047.7 340.0 L1047.9 338.6 L1048.2 337.1 L1048.4 335.7 L1048.7 334.3 L1048.9 332.8 L1049.1 331.4 L1049.3 329.9 L1049.6 328.4 L1049.8 326.9 L1050.0 325.4 L1050.2 323.9 L1050.4 322.4 L1050.6 320.9 L1050.7 319.4 L1050.9 317.9 L1051.1 316.3 L1051.3 314.8 L1051.5 313.2 L1051.6 311.7 L1051.8 310.2 L1051.9 308.6 L1052.1 307.0 L1052.3 305.5 L1052.4 303.9 L1052.6 302.4 L1052.7 300.8 L1052.9 299.2 L1053.0 297.6 L1053.2 296.1 L1053.3 294.5 L1053.5 292.9 L1053.6 291.3 L1053.8 289.8 L1053.9 288.2 L1054.0 286.6 L1054.2 285.0 L1054.3 283.4 L1054.5 281.9 L1054.6 280.3 L1054.8 278.7 L1054.9 277.2 L1055.1 275.6 L1055.2 274.0 L1055.4 272.5 L1055.5 270.9 L1055.7 269.4 L1055.9 267.8 L1056.0 266.3 L1056.2 264.7 L1056.4 263.2 L1056.5 261.7 L1056.7 260.1 L1056.9 258.6 L1057.1 257.1 L1057.3 255.6 L1057.5 254.1 L1057.7 252.6 L1057.9 251.1 L1058.1 249.6 L1058.3 248.2 L1058.5 246.7 L1058.8 245.3 L1059.0 243.8 L1059.2 242.4 L1059.5 241.0 L1059.7 239.5 L1060.0 238.1 L1060.3 236.7 L1060.5 235.4 L1060.8 234.0 L1061.1 232.6 L1061.4 231.3 L1061.7 229.9 L1062.0 228.6 L1062.3 227.3 L1062.7 226.0 L1063.0 224.7"/>
<path d="M5.0 534.5 L6.0 534.5 L7.0 534.5 L8.0 534.5 L9.0 534.5 L10.0 534.5 L11.0 534.5 L12.0 534.5 L13.0 534.5 L14.0 534.5 L15.0 534.5 L16.0 534.5 L17.0 534.5 L18.0 534.5 L19.0 534.5 L20.0 534.5 L21.0 534.5 L22.0 534.5 L23.0 534.5 L24.0 534.5 L25.0 534.5 L26.0 534.5 L27.0 534.5 L28.0 534.5 L29.0 534.5 L30.0 534.5 L31.0 534.5 L32.0 534.5 L33.0 534.5 L34.0 534.5 L35.0 534.5 L36.0 534.5 L37.0 534.5 L38.0 534.5 L39.0 534.5 L40.0 534.5 L41.0 534.5 L42.0 534.5 L43.0 534.5 L44.0 534.5 L45.0 534.5 L46.0 534.5 L47.0 534.5 L48.0 534.5 L49.0 534.5 L50.0 534.5 L51.0 534.5 L52.0 534.5 L53.0 534.5 L54.0 534.5 L55.0 534.5 L56.0 534.5 L57.0 534.5 L58.0 534.5 L59.0 534.5 L60.0 534.5 L61.0 534.5 L62.0 534.5 L63.0 534.5 L64.0 534.5 L65.0 534.6 L66.0 534.6 L67.0 534.6 L68.0 534.6 L69.0 534.6 L70.0 534.6 L71.0 534.6 L72.0 534.6 L73.0 534.6 L74.0 534.6 L75.0 534.6 L76.0 534.6 L77.0 534.6 L78.0 534.6 L79.0 534.6 L80.0 534.6 L81.0 534.6 L82.0 534.6 L83.0 534.6 L84.0 534.6 L85.0 534.6 L86.0 534.6 L87.0 534.6 L88.0 534.6 L89.0 534.6 L90.0 534.6 L91.0 534.6 L92.0 534.6 L93.0 534.6 L94.0 534.6 L95.0 534.6 L96.0 534.6 L97.0 534.6 L98.0 534.6 L99.0 534.6 L100.0 534.6 L101.0 534.6 L102.0 534.6 L103.0 534.6 L104.0 534.6 L105.0 534.6 L106.0 534.6 L107.0 534.6 L108.0 534.6 L109.0 534.6 L110.0 534.6 L111.0 534.6 L112.0 534.6 L113.0 534.6 L114.0 534.6 L115.0 534.5 L116.0 534.5 L117.0 534.5 L118.0 534.5 L119.0 534.5 L120.0 534.5 L121.0 534.5 L122.0 534.4 L123.0 534.4 L124.0 534.4 L125.0 534.4 L126.0 534.4 L127.0 534.3 L128.0 534.3 L129.0 534.3 L130.0 534.3 L131.0 534.2 L132.0 534.2 L133.0 534.2 L134.0 534.2 L135.0 534.1 L136.0 534.1 L137.0 534.1 L138.0 534.0 L139.0 534.0 L140.0 533.9 L141.0 533.9 L142.0 533.9 L143.0 533.8 L144.0 533.8 L145.0 533.7 L146.0 533.7 L147.0 533.6 L148.0 533.5 L149.0 533.5 L150.0 533.4 L151.0 533.4 L152.0 533.3 L153.0 533.2 L154.0 533.2 L155.0 533.1 L156.0 533.0 L157.0 533.0 L158.0 532.9 L159.0 532.8 L160.0 532.7 L161.0 532.6 L162.0 532.5 L163.0 532.5 L164.0 532.4 L165.0 532.3 L166.0 532.2 L167.0 532.1 L168.0 532.0 L169.0 531.9 L170.0 531.8 L171.0 531.6 L172.0 531.5 L173.0 531.4 L174.0 531.3 L175.0 531.2 L176.0 531.0 L177.0 530.9 L178.0 530.8 L179.0 530.6 L180.0 530.5 L181.0 530.4 L182.0 530.2 L183.0 530.1 L184.0 529.9 L185.0 529.8 L186.0 529.6 L187.0 529.4 L188.0 529.3 L189.0 529.1 L190.0 528.9 L191.0 528.7 L192.0 528.6 L193.0 528.4 L194.0 528.2 L195.0 528.0 L196.0 527.8 L197.0 527.6 L198.0 527.4 L199.0 527.2 L200.0 527.0 L201.0 526.8 L202.0 526.5 L203.0 526.3 L204.0 526.1 L205.0 525.8 L206.0 525.6 L207.0 525.4 L208.0 525.1 L209.0 524.9 L210.0 524.6 L211.0 524.3 L212.0 524.1 L213.0 523.8 L214.0 523.5 L215.0 523.3 L216.0 523.0 L217.0 522.7 L218.0 522.4 L219.0 522.1 L220.0 521.8 L221.0 521.5 L222.0 521.2 L223.0 520.9 L224.0 520.5 L225.0 520.2 L226.0 519.9 L227.0 519.5 L228.0 519.2 L229.0 518.8 L230.0 518.5 L231.0 518.1 L232.0 517.8 L233.0 517.4 L234.0 517.0 L235.0 516.7 L236.0 516.3 L237.0 515.9 L238.0 515.5 L239.0 515.1 L240.0 514.7 L241.0 514.3 L242.0 513.9 L243.0 513.4 L244.0 513.0 L245.0 512.6 L246.0 512.2 L247.0 511.7 L248.0 511.3 L249.0 510.8 L250.0 510.3 L251.0 509.9 L252.0 509.4 L253.0 508.9 L254.0 508.5 L255.0 508.0 L256.0 507.5 L257.0 507.0 L258.0 506.5 L259.0 506.0 L260.0 505.4 L261.0 504.9 L262.0 504.4 L263.0 503.9 L264.0 503.3 L265.0 502.8 L266.0 502.2 L267.0 501.7 L268.0 501.1 L269.0 500.5 L270.0 500.0 L271.0 499.4 L272.0 498.8 L273.0 498.2 L274.0 497.6 L275.0 497.0 L276.0 496.4 L277.0 495.8 L278.0 495.2 L279.0 494.5 L280.0 493.9 L281.0 493.3 L282.0 492.6 L283.0 492.0 L284.0 491.3 L285.0 490.7 L286.0 490.0 L287.0 489.3 L288.0 488.7 L289.0 488.0 L290.0 487.3 L291.0 486.6 L292.0 485.9 L293.0 485.2 L294.0 484.5 L295.0 483.7 L296.0 483.0 L297.0 482.3 L298.0 481.6 L299.0 480.8 L300.0 480.1 L301.0 479.3 L302.0 478.6 L303.0 477.8 L304.0 477.0 L305.0 476.2 L306.0 475.5 L307.0 474.7 L308.0 473.9 L309.0 473.1 L310.0 472.3 L311.0 471.5 L312.0 470.7 L313.0 469.9 L314.0 469.0 L315.0 468.2 L316.0 467.4 L317.0 466.5 L318.0 465.7 L319.0 464.8 L320.0 464.0 L321.0 463.1 L322.0 462.3 L323.0 461.4 L324.0 460.5 L325.0 459.6 L326.0 458.8 L327.0 457.9 L328.0 457.0 L329.0 456.1 L330.0 455.2 L331.0 454.3 L332.0 453.4 L333.0 452.4 L334.0 451.5 L335.0 450.6 L336.0 449.7 L337.0 448.7 L338.0 447.8 L339.0 446.8 L340.0 445.9 L341.0 444.9 L342.0 444.0 L343.0 443.0 L344.0 442.1 L345.0 441.1 L346.0 440.1 L347.0 439.2 L348.0 438.2 L349.0 437.2 L350.0 436.2 L351.0 435.2 L352.0 434.2 L353.0 433.2 L354.0 432.2 L355.0 431.2 L356.0 430.2 L357.0 429.2 L358.0 428.2 L359.0 427.2 L360.0 426.2 L361.0 425.2 L362.0 424.1 L363.0 423.1 L364.0 422.1 L365.0 421.1 L366.0 420.0 L367.0 419.0 L368.0 418.0 L369.0 416.9 L370.0 415.9 L371.0 414.8 L372.0 413.8 L373.0 412.7 L374.0 411.7 L375.0 410.6 L376.0 409.6 L377.0 408.5 L378.0 407.5 L379.0 406.4 L380.0 405.3 L381.0 404.3 L382.0 403.2 L383.0 402.2 L384.0 401.1 L385.0 400.0 L386.0 399.0 L387.0 397.9 L388.0 396.8 L389.0 395.8 L390.0 394.7 L391.0 393.6 L392.0 392.5 L393.0 391.5 L394.0 390.4 L395.0 389.3 L396.0 388.3 L397.0 387.2 L398.0 386.1 L399.0 385.0 L400.0 384.0 L401.0 382.9 L402.0 381.8 L403.0 380.7 L404.0 379.7 L405.0 378.6 L406.0 377.5 L407.0 376.5 L408.0 375.4 L409.0 374.3 L410.0 373.3 L411.0 372.2 L412.0 371.1 L413.0 370.1 L414.0 369.0 L415.0 368.0 L416.0 366.9 L417.0 365.8 L418.0 364.8 L419.0 363.7 L420.0 362.7 L421.0 361.6 L422.0 360.6 L423.0 359.5 L424.0 358.5 L425.0 357.5 L426.0 356.4 L427.0 355.4 L428.0 354.3 L429.0 353.3 L430.0 352.3 L431.0 351.3 L432.0 350.2 L433.0 349.2 L434.0 348.2 L435.0 347.2 L436.0 346.2 L437.0 345.1 L438.0 344.1 L439.0 343.1 L440.0 342.1 L441.0 341.1 L442.0 340.1 L443.0 339.1 L444.0 338.2 L445.0 337.2 L446.0 336.2 L447.0 335.2 L448.0 334.2 L449.0 333.3 L450.0 332.3 L451.0 331.3 L452.0 330.4 L453.0 329.4 L454.0 328.5 L455.0 327.5 L456.0 326.6 L457.0 325.7 L458.0 324.7 L459.0 323.8 L460.0 322.9 L461.0 321.9 L462.0 321.0 L463.0 320.1 L464.0 319.2 L465.0 318.3 L466.0 317.4 L467.0 316.5 L468.0 315.6 L469.0 314.7 L470.0 313.9 L471.0 313.0 L472.0 312.1 L473.0 311.3 L474.0 310.4 L475.0 309.5 L476.0 308.7 L477.0 307.8 L478.0 307.0 L479.0 306.2 L480.0 305.3 L481.0 304.5 L482.0 303.7 L483.0 302.9 L484.0 302.0 L485.0 301.2 L486.0 300.4 L487.0 299.6 L488.0 298.9 L489.0 298.1 L490.0 297.3 L491.0 296.5 L492.0 295.7 L493.0 295.0 L494.0 294.2 L495.0 293.5 L496.0 292.7 L497.0 292.0 L498.0 291.2 L499.0 290.5 L500.0 289.8 L501.0 289.0 L502.0 288.3 L503.0 287.6 L504.0 286.9 L505.0 286.2 L506.0 285.5 L507.0 284.8 L508.0 284.1 L509.0 283.4 L510.0 282.8 L511.0 282.1 L512.0 281.4 L513.0 280.7 L514.0 280.1 L515.0 279.4 L516.0 278.8 L517.0 278.1 L518.0 277.5 L519.0 276.9 L520.0 276.3 L521.0 275.6 L522.0 275.0 L523.0 274.4 L524.0 273.8 L525.0 273.2 L526.0 272.6 L527.0 272.0 L528.0 271.4 L529.0 270.8 L530.0 270.2 L531.0 269.7 L532.0 269.1 L533.0 268.5 L534.0 268.0 L535.0 267.4 L536.0 266.9 L537.0 266.3 L538.0 265.8 L539.0 265.2 L540.0 264.7 L541.0 264.2 L542.0 263.6 L543.0 263.1 L544.0 262.6 L545.0 262.1 L546.0 261.6 L547.0 261.1 L548.0 260.6 L549.0 260.1 L550.0 259.6 L551.0 259.1 L552.0 258.6 L553.0 258.1 L554.0 257.6 L555.0 257.1 L556.0 256.7 L557.0 256.2 L558.0 255.7 L559.0 255.3 L560.0 254.8 L561.0 254.4 L562.0 253.9 L563.0 253.5 L564.0 253.0 L565.0 252.6 L566.0 252.1 L567.0 251.7 L568.0 251.3 L569.0 250.8 L570.0 250.4 L571.0 250.0 L572.0 249.6 L573.0 249.1 L574.0 248.7 L575.0 248.3 L576.0 247.9 L577.0 247.5 L578.0 247.1 L579.0 246.7 L580.0 246.3 L581.0 245.9 L582.0 245.5 L583.0 245.1 L584.0 244.7 L585.0 244.3 L586.0 243.9 L587.0 243.5 L588.0 243.2 L589.0 242.8 L590.0 242.4 L591.0 242.0 L592.0 241.7 L593.0 241.3 L594.0 240.9 L595.0 240.5 L596.0 240.2 L597.0 239.8 L598.0 239.4 L599.0 239.1 L600.0 238.7 L601.0 238.4 L602.0 238.0 L603.0 237.6 L604.0 237.3 L605.0 236.9 L606.0 236.6 L607.0 236.2 L608.0 235.9 L609.0 235.5 L610.0 235.2 L611.0 234.8 L612.0 234.5 L613.0 234.2 L614.0 233.8 L615.0 233.5 L616.0 233.1 L617.0 232.8 L618.0 232.4 L619.0 232.1 L620.0 231.8 L621.0 231.4 L622.0 231.1 L623.0 230.8 L624.0 230.4 L625.0 230.1 L626.0 229.8 L627.0 229.4 L628.0 229.1 L629.0 228.8 L630.0 228.4 L631.0 228.1 L632.0 227.8 L633.0 227.4 L634.0 227.1 L635.0 226.8 L636.0 226.5 L637.0 226.1 L638.0 225.8 L639.0 225.5 L640.0 225.1 L641.0 224.8 L642.0 224.5 L643.0 224.2 L644.0 223.8 L645.0 223.5 L646.0 223.2 L647.0 222.8 L648.0 222.5 L649.0 222.2 L650.0 221.9 L651.0 221.5 L652.0 221.2 L653.0 220.9 L654.0 220.6 L655.0 220.2 L656.0 219.9 L657.0 219.6 L658.0 219.2 L659.0 218.9 L660.0 218.6 L661.0 218.3 L662.0 217.9 L663.0 217.6 L664.0 217.3 L665.0 216.9 L666.0 216.6 L667.0 216.3 L668.0 215.9 L669.0 215.6 L670.0 215.3 L671.0 214.9 L672.0 214.6 L673.0 214.3 L674.0 213.9 L675.0 213.6 L676.0 213.2 L677.0 212.9 L678.0 212.6 L679.0 212.2 L680.0 211.9 L681.0 211.5 L682.0 211.2 L683.0 210.9 L684.0 210.5 L685.0 210.2 L686.0 209.8 L687.0 209.5 L688.0 209.1 L689.0 208.8 L690.0 208.4 L691.0 208.1 L692.0 207.7 L693.0 207.3 L694.0 207.0 L695.0 206.6 L696.0 206.3 L697.0 205.9 L698.0 205.5 L699.0 205.2 L700.0 204.8 L701.0 204.4 L702.0 204.1 L703.0 203.7 L704.0 203.3 L705.0 202.9 L706.0 202.6 L707.0 202.2 L708.0 201.8 L709.0 201.4 L710.0 201.0 L711.0 200.6 L712.0 200.2 L713.0 199.9 L714.0 199.5 L715.0 199.1 L716.0 198.7 L717.0 198.2 L718.0 197.8 L719.0 197.4 L720.0 197.0 L721.0 196.6 L722.0 196.2 L723.0 195.8 L724.0 195.3 L725.0 194.9 L726.0 194.5 L727.0 194.1 L728.0 193.6 L729.0 193.2 L730.0 192.7 L731.0 192.3 L732.0 191.8 L733.0 191.4 L734.0 190.9 L735.0 190.5 L736.0 190.0 L737.0 189.5 L738.0 189.1 L739.0 188.6 L740.0 188.1 L741.0 187.6 L742.0 187.2 L743.0 186.7 L744.0 186.2 L745.0 185.7 L746.0 185.2 L747.0 184.7 L748.0 184.2 L749.0 183.7 L750.0 183.1 L751.0 182.6 L752.0 182.1 L753.0 181.6 L754.0 181.0 L755.0 180.5 L756.0 180.0 L757.0 179.4 L758.0 178.9 L759.0 178.3 L760.0 177.8 L761.0 177.2 L762.0 176.7 L763.0 176.1 L764.0 175.5 L765.0 174.9 L766.0 174.4 L767.0 173.8 L768.0 173.2 L769.0 172.6 L770.0 172.0 L771.0 171.4 L772.0 170.8 L773.0 170.2 L774.0 169.6 L775.0 169.0 L776.0 168.4 L777.0 167.8 L778.0 167.2 L779.0 166.6 L780.0 166.0 L781.0 165.3 L782.0 164.7 L783.0 164.1 L784.0 163.5 L785.0 162.8 L786.0 162.2 L787.0 161.6 L788.0 160.9 L789.0 160.3 L790.0 159.7 L791.0 159.1 L792.0 158.4 L793.0 157.8 L794.0 157.2 L795.0 156.5 L796.0 155.9 L797.0 155.3 L798.0 154.7 L799.0 154.0 L800.0 153.4 L801.0 152.8 L802.0 152.2 L803.0 151.6 L804.0 151.0 L805.0 150.4 L806.0 149.8 L807.0 149.2 L808.0 148.6 L809.0 148.0 L810.0 147.5 L811.0 146.9 L812.0 146.4 L813.0 145.8 L814.0 145.3 L815.0 144.7 L816.0 144.2 L817.0 143.7 L818.0 143.2 L819.0 142.7 L820.0 142.2 L821.0 141.8 L822.0 141.3 L823.0 140.9 L824.0 140.5 L825.0 140.0 L826.0 139.6 L827.0 139.3 L828.0 138.9 L829.0 138.6 L830.0 138.2 L831.0 137.9 L832.0 137.6 L833.0 137.3 L834.0 137.1 L835.0 136.9 L836.0 136.6 L837.0 136.5 L838.0 136.3 L839.0 136.1 L840.0 136.0 L841.0 135.9 L842.0 135.8 L843.0 135.8 L844.0 135.8 L845.0 135.8 L846.0 135.8 L847.0 135.9 L848.0 136.0 L849.0 136.1 L850.0 136.2 L851.0 136.4 L852.0 136.6 L853.0 136.9 L854.0 137.1 L855.0 137.4 L856.0 137.8 L857.0 138.1 L858.0 138.5 L859.0 139.0 L860.0 139.4 L861.0 139.9 L862.0 140.5 L863.0 141.0 L864.0 141.6 L865.0 142.3 L866.0 142.9 L867.0 143.6 L868.0 144.4 L869.0 145.2 L870.0 146.0 L871.0 146.8 L872.0 147.7 L873.0 148.6 L874.0 149.5 L867.2 143.8 L868.4 144.8 L869.5 145.7 L870.7 146.7 L871.8 147.6 L873.0 148.6 L874.1 149.6 L875.2 150.6 L876.3 151.7 L877.4 152.7 L878.5 153.8 L879.5 154.9 L880.5 156.0 L881.5 157.2 L882.5 158.3 L883.5 159.5 L884.4 160.6 L885.3 161.8 L886.1 163.1 L887.0 164.3 L887.8 165.6 L888.5 166.8 L889.3 168.1 L890.0 169.4 L890.7 170.7 L891.3 172.1 L891.9 173.4 L892.6 174.8 L893.1 176.1 L893.7 177.5 L894.3 178.9 L894.8 180.3 L895.3 181.7 L895.8 183.1 L896.3 184.6 L896.7 186.0 L897.2 187.5 L897.6 188.9 L898.1 190.4 L898.5 191.8 L898.9 193.3 L899.3 194.8 L899.7 196.2 L900.1 197.7 L900.5 199.2 L900.9 200.6 L901.3 202.1 L901.7 203.6 L902.1 205.1 L902.5 206.5 L902.9 208.0 L903.4 209.5 L903.8 210.9 L904.2 212.4 L904.6 213.8 L905.1 215.3 L905.6 216.7 L906.0 218.2 L906.5 219.6 L907.0 221.0 L907.5 222.4 L908.0 223.8 L908.5 225.3 L909.0 226.7 L909.6 228.1 L910.1 229.5 L910.6 230.9 L911.2 232.3 L911.7 233.7 L912.2 235.0 L912.8 236.4 L913.3 237.8 L913.9 239.2 L914.4 240.6 L914.9 242.0 L915.5 243.4 L916.0 244.8 L916.5 246.2 L917.0 247.6 L917.5 249.0 L918.1 250.5 L918.6 251.9 L919.0 253.3 L919.5 254.7 L920.0 256.2 L920.5 257.6 L920.9 259.1 L921.4 260.5 L921.8 262.0 L922.2 263.5 L922.6 264.9 L923.0 266.4 L923.4 267.9 L923.8 269.4 L924.1 270.9 L924.5 272.4 L924.8 273.9 L925.2 275.4 L925.5 276.8 L925.8 278.3 L926.2 279.8 L926.5 281.3 L926.8 282.8 L927.1 284.3 L927.4 285.8 L927.7 287.2 L928.0 288.7 L928.3 290.1 L928.6 291.6 L928.9 293.0 L929.2 294.4 L929.5 295.9 L929.8 297.3 L930.1 298.7 L930.4 300.0 L930.7 301.4 L931.0 302.8 L931.3 304.1 L931.7 305.5 L932.0 306.8 L932.3 308.2 L932.7 309.6 L933.0 311.0 L933.4 312.5 L933.8 313.9 L934.2 315.4 L934.6 317.0 L935.0 318.5 L935.5 320.2 L936.0 321.9 L936.4 323.6 L936.9 325.4 L937.5 327.2 L938.0 329.0 L938.6 330.9 L939.1 332.7 L939.7 334.5 L940.3 336.2 L940.9 337.9 L941.5 339.5 L942.1 341.0 L942.7 342.4 L943.3 343.7 L944.0 344.8 L944.6 345.8 L945.2 346.7 L945.8 347.3 L946.5 347.8 L947.1 348.0 L947.7 348.0 L948.3 347.8 L948.9 347.5 L949.5 346.9 L950.1 346.1 L950.7 345.2 L951.2 344.1 L951.8 342.9 L952.4 341.5 L952.9 340.1 L953.5 338.5 L954.0 336.8 L954.6 335.0 L955.1 333.2 L955.6 331.3 L956.1 329.3 L956.6 327.3 L957.1 325.3 L957.6 323.3 L958.1 321.2 L958.5 319.2 L959.0 317.1 L959.4 315.1 L959.9 313.2 L960.3 311.3 L960.7 309.3 L961.1 307.5 L961.5 305.6 L961.9 303.8 L962.3 302.0 L962.7 300.3 L963.0 298.5 L963.4 296.8 L963.7 295.1 L964.1 293.4 L964.4 291.8 L964.7 290.2 L965.0 288.6 L965.3 287.0 L965.6 285.4 L965.9 283.9 L966.2 282.4 L966.5 280.8 L966.8 279.4 L967.0 277.9 L967.3 276.4 L967.5 275.0 L967.8 273.5 L968.0 272.1 L968.3 270.7 L968.5 269.3 L968.7 268.0 L968.9 266.6 L969.1 265.2 L969.3 263.9 L969.5 262.5 L969.7 261.2 L969.9 259.9 L970.1 258.5 L970.3 257.2 L970.5 255.9 L970.7 254.6 L970.8 253.3 L971.0 252.0 L971.2 250.7 L971.3 249.4 L971.5 248.1 L971.7 246.8 L971.8 245.5 L972.0 244.2 L972.1 242.9 L972.3 241.6 L972.4 240.3 L972.6 239.0 L972.7 237.7 L972.8 236.4 L973.0 235.0 L973.1 233.7 L973.3 232.4 L973.4 231.0 L973.5 229.6 L973.7 228.3 L973.8 226.9 L973.9 225.5 L974.1 224.1 L974.2 222.7 L974.3 221.3 L974.5 219.9 L974.6 218.4 L974.8 217.0 L974.9 215.5 L975.0 214.1 L975.2 212.6 L975.3 211.2 L975.5 209.7 L975.6 208.2 L975.7 206.7 L975.9 205.2 L976.0 203.7 L976.2 202.2 L976.4 200.7 L976.5 199.2 L976.7 197.7 L976.8 196.2 L977.0 194.7 L977.2 193.2 L977.4 191.7 L977.5 190.1 L977.7 188.6 L977.9 187.1 L978.1 185.6 L978.3 184.0 L978.5 182.5 L978.7 181.0 L978.9 179.4 L979.1 177.9 L979.3 176.4 L979.6 174.9 L979.8 173.3 L980.0 171.8 L980.3 170.3 L980.5 168.7 L980.8 167.2 L981.1 165.7 L981.3 164.2 L981.6 162.7 L981.9 161.2 L982.2 159.7 L982.5 158.2 L982.8 156.7 L983.1 155.2 L983.4 153.7 L983.7 152.2 L984.1 150.7 L984.4 149.2 L984.8 147.8 L985.1 146.3 L985.5 144.8 L985.9 143.4 L986.3 141.9 L986.7 140.5 L987.0 139.0 L987.4 137.6 L987.8 136.1 L988.2 134.7 L988.5 133.2 L988.9 131.8 L989.2 130.3 L989.6 128.8 L989.9 127.3 L990.2 125.9 L990.5 124.4 L990.8 122.9 L991.1 121.4 L991.4 119.8 L991.6 118.3 L991.9 116.8 L992.1 115.3 L992.4 113.8 L992.6 112.3 L992.9 110.8 L993.1 109.3 L993.3 107.8 L993.5 106.3 L993.8 104.8 L994.0 103.3 L994.2 101.8 L994.4 100.3 L994.6 98.9 L994.9 97.4 L995.1 96.0 L995.3 94.5 L995.5 93.1 L995.7 91.7 L996.0 90.3 L996.2 88.9 L996.4 87.5 L996.7 86.2 L996.9 84.8 L997.2 83.4 L997.4 82.1 L997.7 80.7 L998.0 79.4 L998.3 78.0 L998.6 76.6 L998.9 75.2 L999.3 73.8 L999.6 72.4 L1000.0 70.9 L1000.4 69.5 L1000.8 68.0 L1001.3 66.4 L1001.8 64.9 L1002.3 63.3 L1002.8 61.7 L1003.3 60.0 L1003.9 58.3 L1004.5 56.5 L1005.2 54.8 L1005.8 53.1 L1006.6 51.4 L1007.4 49.9 L1008.2 48.5 L1009.1 47.3 L1010.1 46.4 L1011.2 45.7 L1012.3 45.3 L1013.6 45.4 L1014.9 45.7 L1016.3 46.4 L1017.6 47.3 L1018.9 48.4 L1020.0 49.5 L1021.1 50.8 L1021.9 52.1 L1022.7 53.4 L1023.3 54.8 L1023.9 56.2 L1024.4 57.6 L1024.8 59.0 L1025.1 60.5 L1025.5 61.9 L1025.8 63.4 L1026.1 64.8 L1026.4 66.3 L1026.7 67.8 L1027.0 69.3 L1027.2 70.7 L1027.5 72.2 L1027.7 73.7 L1027.9 75.2 L1028.1 76.7 L1028.4 78.1 L1028.6 79.6 L1028.7 81.1 L1028.9 82.6 L1029.1 84.1 L1029.3 85.6 L1029.4 87.1 L1029.6 88.6 L1029.7 90.1 L1029.9 91.6 L1030.0 93.1 L1030.1 94.6 L1030.3 96.1 L1030.4 97.6 L1030.5 99.1 L1030.6 100.6 L1030.7 102.1 L1030.8 103.6 L1030.9 105.1 L1031.1 106.6 L1031.2 108.1 L1031.3 109.6 L1031.4 111.1 L1031.5 112.6 L1031.6 114.1 L1031.7 115.6 L1031.8 117.1 L1031.9 118.6 L1032.0 120.1 L1032.1 121.6 L1032.3 123.1 L1032.4 124.6 L1032.5 126.1 L1032.6 127.6 L1032.7 129.1 L1032.8 130.6 L1032.9 132.1 L1033.0 133.6 L1033.1 135.1 L1033.2 136.6 L1033.4 138.1 L1033.5 139.6 L1033.6 141.1 L1033.7 142.6 L1033.8 144.1 L1033.9 145.6 L1034.0 147.1 L1034.1 148.6 L1034.2 150.1 L1034.3 151.6 L1034.4 153.1 L1034.5 154.6 L1034.6 156.1 L1034.8 157.6 L1034.9 159.1 L1035.0 160.6 L1035.1 162.0 L1035.2 163.5 L1035.3 165.0 L1035.4 166.5 L1035.5 168.0 L1035.6 169.5 L1035.7 171.0 L1035.8 172.5 L1035.9 174.0 L1036.0 175.5 L1036.1 177.0 L1036.2 178.5 L1036.3 180.0 L1036.4 181.5 L1036.5 183.0 L1036.6 184.5 L1036.7 186.0 L1036.8 187.5 L1036.8 189.0 L1036.9 190.5 L1037.0 192.0 L1037.1 193.5 L1037.2 195.0 L1037.3 196.5 L1037.4 198.0 L1037.5 199.5 L1037.6 201.0 L1037.6 202.5 L1037.7 204.0 L1037.8 205.5 L1037.9 207.0 L1038.0 208.5 L1038.1 210.0 L1038.1 211.5 L1038.2 213.0 L1038.3 214.6 L1038.4 216.1 L1038.5 217.6 L1038.5 219.1 L1038.6 220.6 L1038.7 222.1 L1038.8 223.6 L1038.8 225.1 L1038.9 226.6 L1039.0 228.1 L1039.1 229.6 L1039.1 231.1 L1039.2 232.6 L1039.3 234.1 L1039.4 235.6 L1039.5 237.1 L1039.5 238.6 L1039.6 240.1 L1039.7 241.6 L1039.8 243.1 L1039.9 244.6 L1039.9 246.1 L1040.0 247.6 L1040.1 249.1 L1040.2 250.6 L1040.3 252.1 L1040.4 253.6 L1040.4 255.1 L1040.5 256.6 L1040.6 258.1 L1040.7 259.6 L1040.8 261.1 L1040.9 262.6 L1041.0 264.1 L1041.1 265.6 L1041.2 267.1 L1041.3 268.6 L1041.4 270.1 L1041.5 271.6 L1041.6 273.1 L1041.7 274.6 L1041.8 276.1 L1041.9 277.6 L1042.0 279.1 L1042.1 280.6 L1042.2 282.1 L1042.3 283.6 L1042.4 285.1 L1042.5 286.6 L1042.7 288.0 L1042.8 289.5 L1042.9 291.0 L1043.0 292.5 L1043.2 294.0 L1043.3 295.5 L1043.4 297.0 L1043.6 298.5 L1043.7 300.0 L1043.8 301.5 L1044.0 302.9 L1044.1 304.4 L1044.3 305.9 L1044.4 307.4 L1044.6 308.9 L1044.7 310.4 L1044.9 311.9 L1045.0 313.4 L1045.1 314.9 L1045.3 316.4 L1045.4 317.9 L1045.5 319.4 L1045.7 320.9 L1045.8 322.4 L1045.9 324.0 L1046.0 325.5 L1046.2 327.0 L1046.3 328.5 L1046.4 330.1 L1046.5 331.6 L1046.6 333.1 L1046.7 334.7 L1046.8 336.2 L1046.9 337.8 L1047.0 339.3 L1047.1 340.9 L1047.1 342.4 L1047.2 344.0 L1047.3 345.5 L1047.4 347.1 L1047.4 348.7 L1047.5 350.2 L1047.6 351.8 L1047.6 353.3 L1047.7 354.9 L1047.8 356.5 L1047.8 358.0 L1047.9 359.6 L1047.9 361.1 L1048.0 362.7 L1048.0 364.3 L1048.1 365.8 L1048.1 367.4 L1048.2 368.9 L1048.2 370.5 L1048.2 372.1 L1048.3 373.6 L1048.3 375.2 L1048.3 376.7 L1048.4 378.3 L1048.4 379.8 L1048.4 381.4 L1048.4 382.9 L1048.5 384.4 L1048.5 386.0 L1048.5 387.5 L1048.5 389.1 L1048.6 390.6 L1048.6 392.1 L1048.6 393.6 L1048.6 395.2 L1048.6 396.7 L1048.6 398.2 L1048.7 399.7 L1048.7 401.2 L1048.7 402.7 L1048.7 404.2 L1048.7 405.7 L1048.7 407.2 L1048.7 408.6 L1048.7 410.1 L1048.7 411.6 L1048.7 413.0 L1048.7 414.5 L1048.8 416.0 L1048.8 417.4 L1048.8 418.8 L1048.8 420.3 L1048.8 421.7 L1048.8 423.1 L1048.8 424.5 L1048.8 425.9 L1048.8 427.3 L1048.8 428.7 L1048.8 430.1 L1048.8 431.5 L1048.8 432.9 L1048.9 434.2 L1048.9 435.6 L1048.9 436.9 L1048.9 438.3 L1048.9 439.6 L1048.9 440.9 L1048.9 442.2 L1048.9 443.5 L1049.0 444.8 L1049.0 446.1 L1049.0 447.4 L1049.0 448.7 L1049.0 450.0 L1049.1 451.3 L1049.1 452.6 L1049.1 453.9 L1049.2 455.2 L1049.2 456.5 L1049.3 457.8 L1049.3 459.1 L1049.4 460.5 L1049.4 461.8 L1049.5 463.2 L1049.6 464.6 L1049.7 466.0 L1049.7 467.4 L1049.8 468.8 L1049.9 470.3 L1050.0 471.7 L1050.1 473.2 L1050.3 474.7 L1050.4 476.3 L1050.5 477.9 L1050.7 479.5 L1050.8 481.1 L1051.0 482.7 L1051.2 484.4 L1051.3 486.2 L1051.5 487.9 L1051.7 489.7 L1051.9 491.5 L1052.2 493.4 L1052.4 495.3 L1052.6 497.3 L1052.9 499.3 L1053.2 501.3 L1053.5 503.4 L1053.7 505.5 L1054.0 507.5 L1054.3 509.5 L1054.6 511.5 L1055.0 513.4 L1055.3 515.2 L1055.6 516.9 L1055.9 518.5 L1056.2 519.9 L1056.6 521.1 L1056.9 522.1 L1057.2 522.9 L1057.5 523.4 L1057.8 523.7 L1058.0 523.7 L1058.3 523.4 L1058.6 522.8 L1058.8 522.0 L1059.1 520.9 L1059.3 519.7 L1059.6 518.3 L1059.8 516.7 L1060.0 515.0 L1060.2 513.2 L1060.4 511.2 L1060.6 509.2 L1060.8 507.2 L1060.9 505.1 L1061.1 503.0 L1061.2 500.9 L1061.4 498.8 L1061.5 496.8 L1061.7 494.8 L1061.8 492.8 L1061.9 490.9 L1062.0 489.0 L1062.1 487.1 L1062.2 485.3 L1062.3 483.5 L1062.4 481.8 L1062.5 480.0 L1062.5 478.4 L1062.6 476.7 L1062.6 475.1 L1062.7 473.5 L1062.7 471.9 L1062.8 470.3 L1062.8 468.8 L1062.9 467.3 L1062.9 465.8 L1062.9 464.4 L1062.9 462.9 L1062.9 461.5 L1062.9 460.2 L1062.9 458.8 L1062.9 457.5 L1062.9 456.1 L1062.9 454.8 L1062.9 453.5 L1062.9 452.3 L1062.9 451.0 L1062.8 449.8 L1062.8 448.6 L1062.8 447.4 L1062.7 446.2 L1062.7 445.0 L1062.7 443.8 L1062.6 442.7 L1062.6 441.5 L1062.5 440.4 L1062.5 439.3 L1062.4 438.2 L1062.4 437.1 L1062.3 436.0 L1062.2 434.9 L1062.2 433.8 L1062.1 432.7 L1062.1 431.7 L1062.0 430.6 L1061.9 429.5 L1061.9 428.5 L1061.8 427.4 L1061.7 426.3 L1061.7 425.3 L1061.6 424.2 L1061.5 423.1 L1061.5 422.1 L1061.4 421.0 L1061.3 419.9 L1061.3 418.9 L1061.2 417.8 L1061.1 416.7 L1061.1 415.6 L1061.0 414.5 L1060.9 413.4 L1060.9 412.3 L1060.8 411.1 L1060.8 410.0 L1060.7 408.9 L1060.7 407.7 L1060.6 406.5 L1060.6 405.3 L1060.5 404.1 L1060.5 402.9 L1060.4 401.7 L1060.4 400.5 L1060.3 399.2 L1060.3 397.9 L1060.3 396.6 L1060.2 395.3 L1060.2 394.0 L1060.2 392.7 L1060.2 391.3 L1060.1 389.9 L1060.1 388.5 L1060.1 387.0 L1060.1 385.6 L1060.1 384.1 L1060.1 382.6 L1060.1 381.0 L1060.2 379.5 L1060.2 377.9 L1060.2 376.3 L1060.2 374.6 L1060.3 372.9 L1060.3 371.2 L1060.3 369.5 L1060.4 367.7 L1060.4 365.9 L1060.5 364.1 L1060.6 362.2 L1060.7 360.3 L1060.7 358.3 L1060.8 356.4 L1060.9 354.4 L1061.0 352.3 L1061.1 350.2 L1061.2 348.1 L1061.4 345.9 L1061.5 343.7 L1061.6 341.5 L1061.8 339.2 L1061.9 336.8 L1062.1 334.5 L1062.2 332.0 L1062.4 329.6 L1062.6 327.1 L1062.8 324.5 L1063.0 321.9"/>
<path d="M5.0 534.5 L6.0 534.5 L7.0 534.5 L8.0 534.5 L9.0 534.5 L10.0 534.5 L11.0 534.5 L12.0 534.5 L13.0 534.5 L14.0 534.5 L15.0 534.5 L16.0 534.5 L17.0 534.5 L18.0 534.5 L19.0 534.5 L20.0 534.5 L21.0 534.5 L22.0 534.5 L23.0 534.5 L24.0 534.5 L25.0 534.5 L26.0 534.5 L27.0 534.5 L28.0 534.5 L29.0 534.5 L30.0 534.5 L31.0 534.5 L32.0 534.5 L33.0 534.5 L34.0 534.5 L35.0 534.5 L36.0 534.5 L37.0 534.5 L38.0 534.5 L39.0 534.5 L40.0 534.5 L41.0 534.5 L42.0 534.5 L43.0 534.5 L44.0 534.5 L45.0 534.5 L46.0 534.5 L47.0 534.5 L48.0 534.5 L49.0 534.5 L50.0 534.5 L51.0 534.5 L52.0 534.5 L53.0 534.5 L54.0 534.5 L55.0 534.5 L56.0 534.5 L57.0 534.5 L58.0 534.5 L59.0 534.5 L60.0 534.5 L61.0 534.5 L62.0 534.5 L63.0 534.5 L64.0 534.5 L65.0 534.5 L66.0 534.5 L67.0 534.5 L68.0 534.5 L69.0 534.5 L70.0 534.5 L71.0 534.5 L72.0 534.5 L73.0 534.5 L74.0 534.5 L75.0 534.5 L76.0 534.5 L77.0 534.5 L78.0 534.5 L79.0 534.5 L80.0 534.5 L81.0 534.5 L82.0 534.6 L83.0 534.6 L84.0 534.6 L85.0 534.6 L86.0 534.6 L87.0 534.6 L88.0 534.6 L89.0 534.6 L90.0 534.6 L91.0 534.6 L92.0 534.6 L93.0 534.6 L94.0 534.6 L95.0 534.6 L96.0 534.6 L97.0 534.6 L98.0 534.6 L99.0 534.6 L100.0 534.6 L101.0 534.6 L102.0 534.6 L103.0 534.6 L104.0 534.6 L105.0 534.6 L106.0 534.6 L107.0 534.6 L108.0 534.6 L109.0 534.6 L110.0 534.6 L111.0 534.6 L112.0 534.6 L113.0 534.6 L114.0 534.6 L115.0 534.6 L116.0 534.6 L117.0 534.6 L118.0 534.6 L119.0 534.6 L120.0 534.6 L121.0 534.6 L122.0 534.6 L123.0 534.6 L124.0 534.6 L125.0 534.6 L126.0 534.6 L127.0 534.6 L128.0 534.6 L129.0 534.6 L130.0 534.6 L131.0 534.6 L132.0 534.6 L133.0 534.6 L134.0 534.6 L135.0 534.6 L136.0 534.5 L137.0 534.5 L138.0 534.5 L139.0 534.5 L140.0 534.5 L141.0 534.5 L142.0 534.5 L143.0 534.4 L144.0 534.4 L145.0 534.4 L146.0 534.4 L147.0 534.4 L148.0 534.3 L149.0 534.3 L150.0 534.3 L151.0 534.2 L152.0 534.2 L153.0 534.2 L154.0 534.1 L155.0 534.1 L156.0 534.1 L157.0 534.0 L158.0 534.0 L159.0 533.9 L160.0 533.9 L161.0 533.8 L162.0 533.8 L163.0 533.7 L164.0 533.7 L165.0 533.6 L166.0 533.6 L167.0 533.5 L168.0 533.4 L169.0 533.4 L170.0 533.3 L171.0 533.2 L172.0 533.2 L173.0 533.1 L174.0 533.0 L175.0 532.9 L176.0 532.8 L177.0 532.7 L178.0 532.6 L179.0 532.5 L180.0 532.4 L181.0 532.3 L182.0 532.2 L183.0 532.1 L184.0 532.0 L185.0 531.9 L186.0 531.8 L187.0 531.7 L188.0 531.5 L189.0 531.4 L190.0 531.3 L191.0 531.1 L192.0 531.0 L193.0 530.8 L194.0 530.7 L195.0 530.5 L196.0 530.4 L197.0 530.2 L198.0 530.0 L199.0 529.8 L200.0 529.7 L201.0 529.5 L202.0 529.3 L203.0 529.1 L204.0 528.9 L205.0 528.7 L206.0 528.5 L207.0 528.3 L208.0 528.1 L209.0 527.8 L210.0 527.6 L211.0 527.4 L212.0 527.1 L213.0 526.9 L214.0 526.6 L215.0 526.4 L216.0 526.1 L217.0 525.9 L218.0 525.6 L219.0 525.3 L220.0 525.0 L221.0 524.7 L222.0 524.4 L223.0 524.1 L224.0 523.8 L225.0 523.5 L226.0 523.2 L227.0 522.9 L228.0 522.5 L229.0 522.2 L230.0 521.8 L231.0 521.5 L232.0 521.1 L233.0 520.8 L234.0 520.4 L235.0 520.0 L236.0 519.6 L237.0 519.2 L238.0 518.8 L239.0 518.4 L240.0 518.0 L241.0 517.6 L242.0 517.2 L243.0 516.7 L244.0 516.3 L245.0 515.8 L246.0 515.4 L247.0 514.9 L248.0 514.4 L249.0 514.0 L250.0 513.5 L251.0 513.0 L252.0 512.5 L253.0 512.0 L254.0 511.5 L255.0 511.0 L256.0 510.4 L257.0 509.9 L258.0 509.3 L259.0 508.8 L260.0 508.2 L261.0 507.7 L262.0 507.1 L263.0 506.5 L264.0 505.9 L265.0 505.3 L266.0 504.7 L267.0 504.1 L268.0 503.5 L269.0 502.9 L270.0 502.3 L271.0 501.6 L272.0 501.0 L273.0 500.3 L274.0 499.6 L275.0 499.0 L276.0 498.3 L277.0 497.6 L278.0 496.9 L279.0 496.2 L280.0 495.5 L281.0 494.8 L282.0 494.1 L283.0 493.3 L284.0 492.6 L285.0 491.9 L286.0 491.1 L287.0 490.4 L288.0 489.6 L289.0 488.8 L290.0 488.0 L291.0 487.2 L292.0 486.5 L293.0 485.6 L294.0 484.8 L295.0 484.0 L296.0 483.2 L297.0 482.4 L298.0 481.5 L299.0 480.7 L300.0 479.8 L301.0 479.0 L302.0 478.1 L303.0 477.2 L304.0 476.4 L305.0 475.5 L306.0 474.6 L307.0 473.7 L308.0 472.8 L309.0 471.9 L310.0 471.0 L311.0 470.0 L312.0 469.1 L313.0 468.2 L314.0 467.2 L315.0 466.3 L316.0 465.3 L317.0 464.4 L318.0 463.4 L319.0 462.4 L320.0 461.4 L321.0 460.5 L322.0 459.5 L323.0 458.5 L324.0 457.5 L325.0 456.5 L326.0 455.5 L327.0 454.5 L328.0 453.4 L329.0 452.4 L330.0 451.4 L331.0 450.4 L332.0 449.3 L333.0 448.3 L334.0 447.2 L335.0 446.2 L336.0 445.1 L337.0 444.1 L338.0 443.0 L339.0 441.9 L340.0 440.8 L341.0 439.8 L342.0 438.7 L343.0 437.6 L344.0 436.5 L345.0 435.4 L346.0 434.3 L347.0 433.2 L348.0 432.1 L349.0 431.0 L350.0 429.9 L351.0 428.8 L352.0 427.7 L353.0 426.6 L354.0 425.5 L355.0 424.3 L356.0 423.2 L357.0 422.1 L358.0 421.0 L359.0 419.8 L360.0 418.7 L361.0 417.6 L362.0 416.4 L363.0 415.3 L364.0 414.1 L365.0 413.0 L366.0 411.9 L367.0 410.7 L368.0 409.6 L369.0 408.4 L370.0 407.3 L371.0 406.1 L372.0 405.0 L373.0 403.8 L374.0 402.7 L375.0 401.5 L376.0 400.4 L377.0 399.3 L378.0 398.1 L379.0 397.0 L380.0 395.8 L381.0 394.7 L382.0 393.5 L383.0 392.4 L384.0 391.2 L385.0 390.1 L386.0 388.9 L387.0 387.8 L388.0 386.6 L389.0 385.5 L390.0 384.4 L391.0 383.2 L392.0 382.1 L393.0 380.9 L394.0 379.8 L395.0 378.7 L396.0 377.5 L397.0 376.4 L398.0 375.3 L399.0 374.2 L400.0 373.0 L401.0 371.9 L402.0 370.8 L403.0 369.7 L404.0 368.6 L405.0 367.5 L406.0 366.4 L407.0 365.2 L408.0 364.1 L409.0 363.0 L410.0 362.0 L411.0 360.9 L412.0 359.8 L413.0 358.7 L414.0 357.6 L415.0 356.5 L416.0 355.5 L417.0 354.4 L418.0 353.3 L419.0 352.3 L420.0 351.2 L421.0 350.1 L422.0 349.1 L423.0 348.1 L424.0 347.0 L425.0 346.0 L426.0 344.9 L427.0 343.9 L428.0 342.9 L429.0 341.9 L430.0 340.9 L431.0 339.9 L432.0 338.8 L433.0 337.8 L434.0 336.9 L435.0 335.9 L436.0 334.9 L437.0 333.9 L438.0 332.9 L439.0 332.0 L440.0 331.0 L441.0 330.0 L442.0 329.1 L443.0 328.1 L444.0 327.2 L445.0 326.3 L446.0 325.3 L447.0 324.4 L448.0 323.5 L449.0 322.6 L450.0 321.7 L451.0 320.8 L452.0 319.9 L453.0 319.0 L454.0 318.1 L455.0 317.2 L456.0 316.4 L457.0 315.5 L458.0 314.6 L459.0 313.8 L460.0 312.9 L461.0 312.1 L462.0 311.3 L463.0 310.4 L464.0 309.6 L465.0 308.8 L466.0 308.0 L467.0 307.2 L468.0 306.4 L469.0 305.6 L470.0 304.8 L471.0 304.0 L472.0 303.2 L473.0 302.5 L474.0 301.7 L475.0 300.9 L476.0 300.2 L477.0 299.5 L478.0 298.7 L479.0 298.0 L480.0 297.3 L481.0 296.5 L482.0 295.8 L483.0 295.1 L484.0 294.4 L485.0 293.7 L486.0 293.0 L487.0 292.3 L488.0 291.7 L489.0 291.0 L490.0 290.3 L491.0 289.7 L492.0 289.0 L493.0 288.4 L494.0 287.7 L495.0 287.1 L496.0 286.5 L497.0 285.8 L498.0 285.2 L499.0 284.6 L500.0 284.0 L501.0 283.4 L502.0 282.8 L503.0 282.2 L504.0 281.6 L505.0 281.0 L506.0 280.4 L507.0 279.9 L508.0 279.3 L509.0 278.7 L510.0 278.2 L511.0 277.6 L512.0 277.1 L513.0 276.5 L514.0 276.0 L515.0 275.5 L516.0 274.9 L517.0 274.4 L518.0 273.9 L519.0 273.4 L520.0 272.9 L521.0 272.4 L522.0 271.9 L523.0 271.4 L524.0 270.9 L525.0 270.4 L526.0 269.9 L527.0 269.4 L528.0 268.9 L529.0 268.5 L530.0 268.0 L531.0 267.5 L532.0 267.1 L533.0 266.6 L534.0 266.2 L535.0 265.7 L536.0 265.3 L537.0 264.8 L538.0 264.4 L539.0 263.9 L540.0 263.5 L541.0 263.1 L542.0 262.6 L543.0 262.2 L544.0 261.8 L545.0 261.4 L546.0 260.9 L547.0 260.5 L548.0 260.1 L549.0 259.7 L550.0 259.3 L551.0 258.9 L552.0 258.5 L553.0 258.1 L554.0 257.7 L555.0 257.3 L556.0 256.9 L557.0 256.5 L558.0 256.1 L559.0 255.7 L560.0 255.3 L561.0 254.9 L562.0 254.5 L563.0 254.1 L564.0 253.8 L565.0 253.4 L566.0 253.0 L567.0 252.6 L568.0 252.2 L569.0 251.9 L570.0 251.5 L571.0 251.1 L572.0 250.7 L573.0 250.4 L574.0 250.0 L575.0 249.6 L576.0 249.2 L577.0 248.9 L578.0 248.5 L579.0 248.1 L580.0 247.8 L581.0 247.4 L582.0 247.0 L583.0 246.6 L584.0 246.3 L585.0 245.9 L586.0 245.5 L587.0 245.2 L588.0 244.8 L589.0 244.4 L590.0 244.1 L591.0 243.7 L592.0 243.3 L593.0 243.0 L594.0 242.6 L595.0 242.2 L596.0 241.9 L597.0 241.5 L598.0 241.1 L599.0 240.7 L600.0 240.4 L601.0 240.0 L602.0 239.6 L603.0 239.3 L604.0 238.9 L605.0 238.5 L606.0 238.1 L607.0 237.8 L608.0 237.4 L609.0 237.0 L610.0 236.7 L611.0 236.3 L612.0 235.9 L613.0 235.5 L614.0 235.2 L615.0 234.8 L616.0 234.4 L617.0 234.0 L618.0 233.7 L619.0 233.3 L620.0 232.9 L621.0 232.5 L622.0 232.1 L623.0 231.8 L624.0 231.4 L625.0 231.0 L626.0 230.6 L627.0 230.3 L628.0 229.9 L629.0 229.5 L630.0 229.1 L631.0 228.7 L632.0 228.4 L633.0 228.0 L634.0 227.6 L635.0 227.2 L636.0 226.9 L637.0 226.5 L638.0 226.1 L639.0 225.7 L640.0 225.4 L641.0 225.0 L642.0 224.6 L643.0 224.2 L644.0 223.9 L645.0 223.5 L646.0 223.1 L647.0 222.8 L648.0 222.4 L649.0 222.0 L650.0 221.7 L651.0 221.3 L652.0 220.9 L653.0 220.6 L654.0 220.2 L655.0 219.8 L656.0 219.5 L657.0 219.1 L658.0 218.8 L659.0 218.4 L660.0 218.1 L661.0 217.7 L662.0 217.4 L663.0 217.0 L664.0 216.7 L665.0 216.4 L666.0 216.0 L667.0 215.7 L668.0 215.4 L669.0 215.0 L670.0 214.7 L671.0 214.4 L672.0 214.1 L673.0 213.8 L674.0 213.5 L675.0 213.2 L676.0 212.9 L677.0 212.6 L678.0 212.3 L679.0 212.0 L680.0 211.7 L681.0 211.4 L682.0 211.1 L683.0 210.9 L684.0 210.6 L685.0 210.3 L686.0 210.1 L687.0 209.8 L688.0 209.6 L689.0 209.3 L690.0 209.1 L691.0 208.8 L692.0 208.6 L693.0 208.4 L694.0 208.2 L695.0 207.9 L696.0 207.7 L697.0 207.5 L698.0 207.3 L699.0 207.2 L700.0 207.0 L701.0 206.8 L702.0 206.6 L703.0 206.5 L704.0 206.3 L705.0 206.1 L706.0 206.0 L707.0 205.9 L708.0 205.7 L709.0 205.6 L710.0 205.5 L711.0 205.4 L712.0 205.3 L713.0 205.2 L714.0 205.1 L715.0 205.0 L716.0 204.9 L717.0 204.8 L718.0 204.8 L719.0 204.7 L720.0 204.7 L721.0 204.6 L722.0 204.6 L723.0 204.6 L724.0 204.6 L725.0 204.5 L726.0 204.5 L727.0 204.5 L728.0 204.6 L729.0 204.6 L730.0 204.6 L731.0 204.6 L732.0 204.7 L733.0 204.7 L734.0 204.8 L735.0 204.8 L736.0 204.9 L737.0 205.0 L738.0 205.0 L739.0 205.1 L740.0 205.2 L741.0 205.3 L742.0 205.4 L743.0 205.5 L744.0 205.6 L745.0 205.8 L746.0 205.9 L747.0 206.0 L748.0 206.2 L749.0 206.3 L750.0 206.5 L751.0 206.6 L752.0 206.8 L753.0 207.0 L754.0 207.1 L755.0 207.3 L756.0 207.5 L757.0 207.7 L758.0 207.9 L759.0 208.1 L760.0 208.3 L761.0 208.5 L762.0 208.7 L763.0 208.9 L764.0 209.1 L765.0 209.3 L766.0 209.5 L767.0 209.7 L768.0 209.9 L769.0 210.1 L770.0 210.4 L771.0 210.6 L772.0 210.8 L773.0 211.0 L774.0 211.2 L775.0 211.4 L776.0 211.6 L777.0 211.9 L778.0 212.1 L779.0 212.3 L780.0 212.5 L781.0 212.7 L782.0 212.9 L783.0 213.1 L784.0 213.3 L785.0 213.4 L786.0 213.6 L787.0 213.8 L788.0 214.0 L789.0 214.1 L790.0 214.3 L791.0 214.4 L792.0 214.6 L793.0 214.7 L794.0 214.8 L795.0 214.9 L796.0 215.0 L797.0 215.1 L798.0 215.2 L799.0 215.3 L800.0 215.3 L801.0 215.4 L802.0 215.4 L803.0 215.4 L804.0 215.4 L805.0 215.4 L806.0 215.4 L807.0 215.3 L808.0 215.3 L809.0 215.2 L810.0 215.1 L811.0 215.0 L812.0 214.9 L813.0 214.8 L814.0 214.6 L815.0 214.4 L816.0 214.3 L817.0 214.0 L818.0 213.8 L819.0 213.6 L820.0 213.3 L821.0 213.0 L822.0 212.7 L823.0 212.4 L824.0 212.0 L825.0 211.6 L826.0 211.2 L827.0 210.8 L828.0 210.3 L829.0 209.9 L830.0 209.4 L831.0 208.9 L832.0 208.3 L833.0 207.8 L834.0 207.2 L835.0 206.6 L836.0 206.0 L837.0 205.3 L838.0 204.6 L839.0 203.9 L840.0 203.2 L841.0 202.5 L842.0 201.7 L843.0 200.9 L844.0 200.1 L845.0 199.3 L846.0 198.4 L847.0 197.5 L848.0 196.7 L849.0 195.7 L850.0 194.8 L851.0 193.9 L852.0 192.9 L853.0 191.9 L854.0 190.9 L855.0 189.9 L856.0 188.9 L857.0 187.9 L858.0 186.9 L859.0 185.8 L860.0 184.8 L861.0 183.7 L862.0 182.7 L863.0 181.6 L864.0 180.6 L865.0 179.5 L866.0 178.5 L867.0 177.4 L868.0 176.4 L869.0 175.4 L870.0 174.4 L871.0 173.4 L872.0 172.5 L873.0 171.5 L874.0 170.6 L866.9 177.2 L867.8 175.9 L868.8 174.8 L869.9 173.7 L871.0 172.8 L872.2 171.8 L873.5 171.0 L874.7 170.2 L876.0 169.4 L877.3 168.6 L878.6 167.9 L880.0 167.1 L881.3 166.4 L882.6 165.6 L883.9 164.9 L885.2 164.1 L886.4 163.2 L887.6 162.4 L888.8 161.4 L889.9 160.5 L891.0 159.5 L892.1 158.4 L893.2 157.4 L894.2 156.3 L895.2 155.2 L896.2 154.0 L897.2 152.9 L898.1 151.7 L899.1 150.5 L900.0 149.3 L901.0 148.1 L901.9 146.9 L902.8 145.6 L903.7 144.4 L904.7 143.2 L905.6 142.0 L906.6 140.8 L907.5 139.6 L908.5 138.4 L909.5 137.3 L910.5 136.1 L911.5 135.0 L912.5 133.8 L913.5 132.7 L914.5 131.6 L915.5 130.5 L916.5 129.4 L917.5 128.2 L918.5 127.1 L919.6 126.0 L920.6 124.9 L921.6 123.8 L922.6 122.7 L923.6 121.6 L924.6 120.4 L925.6 119.3 L926.5 118.2 L927.5 117.0 L928.5 115.9 L929.4 114.7 L930.3 113.5 L931.3 112.3 L932.2 111.2 L933.1 110.0 L934.0 108.8 L934.9 107.6 L935.8 106.3 L936.7 105.1 L937.6 103.9 L938.5 102.7 L939.4 101.5 L940.2 100.2 L941.1 99.0 L942.0 97.8 L942.8 96.5 L943.7 95.3 L944.6 94.1 L945.4 92.8 L946.3 91.6 L947.2 90.4 L948.0 89.1 L948.9 87.9 L949.8 86.6 L950.7 85.4 L951.5 84.2 L952.4 82.9 L953.3 81.7 L954.2 80.5 L955.1 79.3 L956.0 78.1 L956.9 76.8 L957.8 75.6 L958.8 74.4 L959.7 73.2 L960.6 72.1 L961.6 70.9 L962.5 69.7 L963.5 68.5 L964.4 67.4 L965.4 66.2 L966.4 65.1 L967.4 63.9 L968.4 62.8 L969.4 61.7 L970.5 60.5 L971.5 59.4 L972.5 58.3 L973.6 57.3 L974.6 56.2 L975.7 55.1 L976.8 54.1 L977.8 53.0 L978.9 52.0 L980.0 51.0 L981.1 50.0 L982.3 49.0 L983.4 48.0 L984.5 47.0 L985.7 46.1 L986.9 45.1 L988.0 44.2 L989.2 43.3 L990.4 42.4 L991.7 41.5 L992.9 40.7 L994.2 39.8 L995.5 39.0 L996.8 38.3 L998.2 37.5 L999.5 36.7 L1000.9 36.0 L1002.3 35.3 L1003.8 34.7 L1005.2 34.1 L1006.7 33.6 L1008.1 33.2 L1009.6 32.8 L1011.1 32.6 L1012.6 32.5 L1014.0 32.5 L1015.5 32.7 L1016.9 32.9 L1018.3 33.3 L1019.7 33.9 L1021.1 34.5 L1022.5 35.2 L1023.8 36.0 L1025.1 36.8 L1026.4 37.7 L1027.7 38.7 L1029.0 39.6 L1030.2 40.7 L1031.4 41.7 L1032.5 42.7 L1033.7 43.8 L1034.8 44.8 L1035.9 45.9 L1036.9 47.0 L1038.0 48.1 L1039.0 49.2 L1040.0 50.4 L1040.9 51.5 L1041.9 52.7 L1042.8 53.8 L1043.7 55.0 L1044.5 56.2 L1045.4 57.4 L1046.2 58.7 L1047.0 59.9 L1047.8 61.1 L1048.6 62.4 L1049.3 63.7 L1050.0 65.0 L1050.7 66.3 L1051.4 67.6 L1052.1 68.9 L1052.8 70.2 L1053.4 71.6 L1054.0 72.9 L1054.6 74.3 L1055.2 75.7 L1055.8 77.0 L1056.3 78.4 L1056.9 79.9 L1057.4 81.3 L1058.0 82.7 L1058.5 84.1 L1059.0 85.6 L1059.5 87.1 L1059.9 88.5 L1060.4 90.0 L1060.9 91.5 L1061.3 93.0 L1061.7 94.5 L1062.2 96.0 L1062.6 97.6 L1063.0 99.1"/>
<path d="M5.0 534.5 L6.0 534.5 L7.0 534.5 L8.0 534.5 L9.0 534.5 L10.0 534.5 L11.0 534.5 L12.0 534.5 L13.0 534.5 L14.0 534.5 L15.0 534.5 L16.0 534.5 L17.0 534.5 L18.0 534.5 L19.0 534.5 L20.0 534.5 L21.0 534.5 L22.0 534.5 L23.0 534.5 L24.0 534.5 L25.0 534.5 L26.0 534.5 L27.0 534.5 L28.0 534.5 L29.0 534.5 L30.0 534.5 L31.0 534.5 L32.0 534.5 L33.0 534.5 L34.0 534.5 L35.0 534.5 L36.0 534.5 L37.0 534.5 L38.0 534.5 L39.0 534.5 L40.0 534.5 L41.0 534.5 L42.0 534.5 L43.0 534.5 L44.0 534.5 L45.0 534.5 L46.0 534.5 L47.0 534.5 L48.0 534.5 L49.0 534.5 L50.0 534.5 L51.0 534.5 L52.0 534.5 L53.0 534.5 L54.0 534.5 L55.0 534.5 L56.0 534.5 L57.0 534.5 L58.0 534.5 L59.0 534.5 L60.0 534.5 L61.0 534.5 L62.0 534.5 L63.0 534.5 L64.0 534.5 L65.0 534.5 L66.0 534.5 L67.0 534.5 L68.0 534.5 L69.0 534.5 L70.0 534.5 L71.0 534.5 L72.0 534.5 L73.0 534.5 L74.0 534.5 L75.0 534.5 L76.0 534.5 L77.0 534.5 L78.0 534.5 L79.0 534.5 L80.0 534.5 L81.0 534.5 L82.0 534.5 L83.0 534.5 L84.0 534.5 L85.0 534.5 L86.0 534.6 L87.0 534.6 L88.0 534.6 L89.0 534.6 L90.0 534.6 L91.0 534.6 L92.0 534.6 L93.0 534.6 L94.0 534.6 L95.0 534.6 L96.0 534.6 L97.0 534.6 L98.0 534.6 L99.0 534.6 L100.0 534.6 L101.0 534.6 L102.0 534.6 L103.0 534.6 L104.0 534.6 L105.0 534.6 L106.0 534.6 L107.0 534.7 L108.0 534.7 L109.0 534.7 L110.0 534.7 L111.0 534.7 L112.0 534.7 L113.0 534.7 L114.0 534.7 L115.0 534.7 L116.0 534.7 L117.0 534.7 L118.0 534.7 L119.0 534.7 L120.0 534.7 L121.0 534.7 L122.0 534.8 L123.0 534.8 L124.0 534.8 L125.0 534.8 L126.0 534.8 L127.0 534.8 L128.0 534.8 L129.0 534.8 L130.0 534.8 L131.0 534.8 L132.0 534.8 L133.0 534.8 L134.0 534.8 L135.0 534.8 L136.0 534.8 L137.0 534.8 L138.0 534.8 L139.0 534.8 L140.0 534.8 L141.0 534.8 L142.0 534.8 L143.0 534.8 L144.0 534.8 L145.0 534.8 L146.0 534.8 L147.0 534.8 L148.0 534.8 L149.0 534.8 L150.0 534.8 L151.0 534.8 L152.0 534.8 L153.0 534.8 L154.0 534.8 L155.0 534.8 L156.0 534.7 L157.0 534.7 L158.0 534.7 L159.0 534.7 L160.0 534.7 L161.0 534.6 L162.0 534.6 L163.0 534.6 L164.0 534.6 L165.0 534.5 L166.0 534.5 L167.0 534.5 L168.0 534.4 L169.0 534.4 L170.0 534.4 L171.0 534.3 L172.0 534.3 L173.0 534.2 L174.0 534.2 L175.0 534.1 L176.0 534.1 L177.0 534.0 L178.0 534.0 L179.0 533.9 L180.0 533.8 L181.0 533.8 L182.0 533.7 L183.0 533.6 L184.0 533.5 L185.0 533.5 L186.0 533.4 L187.0 533.3 L188.0 533.2 L189.0 533.1 L190.0 533.0 L191.0 532.9 L192.0 532.8 L193.0 532.6 L194.0 532.5 L195.0 532.4 L196.0 532.3 L197.0 532.1 L198.0 532.0 L199.0 531.9 L200.0 531.7 L201.0 531.6 L202.0 531.4 L203.0 531.3 L204.0 531.1 L205.0 530.9 L206.0 530.7 L207.0 530.5 L208.0 530.4 L209.0 530.2 L210.0 530.0 L211.0 529.8 L212.0 529.5 L213.0 529.3 L214.0 529.1 L215.0 528.9 L216.0 528.6 L217.0 528.4 L218.0 528.1 L219.0 527.9 L220.0 527.6 L221.0 527.3 L222.0 527.1 L223.0 526.8 L224.0 526.5 L225.0 526.2 L226.0 525.9 L227.0 525.6 L228.0 525.3 L229.0 524.9 L230.0 524.6 L231.0 524.2 L232.0 523.9 L233.0 523.5 L234.0 523.2 L235.0 522.8 L236.0 522.4 L237.0 522.0 L238.0 521.6 L239.0 521.2 L240.0 520.8 L241.0 520.4 L242.0 520.0 L243.0 519.5 L244.0 519.1 L245.0 518.6 L246.0 518.1 L247.0 517.7 L248.0 517.2 L249.0 516.7 L250.0 516.2 L251.0 515.7 L252.0 515.2 L253.0 514.6 L254.0 514.1 L255.0 513.6 L256.0 513.0 L257.0 512.4 L258.0 511.9 L259.0 511.3 L260.0 510.7 L261.0 510.1 L262.0 509.5 L263.0 508.9 L264.0 508.2 L265.0 507.6 L266.0 507.0 L267.0 506.3 L268.0 505.6 L269.0 505.0 L270.0 504.3 L271.0 503.6 L272.0 502.9 L273.0 502.2 L274.0 501.5 L275.0 500.7 L276.0 500.0 L277.0 499.2 L278.0 498.5 L279.0 497.7 L280.0 497.0 L281.0 496.2 L282.0 495.4 L283.0 494.6 L284.0 493.8 L285.0 492.9 L286.0 492.1 L287.0 491.3 L288.0 490.4 L289.0 489.6 L290.0 488.7 L291.0 487.8 L292.0 487.0 L293.0 486.1 L294.0 485.2 L295.0 484.3 L296.0 483.4 L297.0 482.4 L298.0 481.5 L299.0 480.6 L300.0 479.6 L301.0 478.7 L302.0 477.7 L303.0 476.7 L304.0 475.8 L305.0 474.8 L306.0 473.8 L307.0 472.8 L308.0 471.8 L309.0 470.8 L310.0 469.7 L311.0 468.7 L312.0 467.7 L313.0 466.6 L314.0 465.6 L315.0 464.5 L316.0 463.5 L317.0 462.4 L318.0 461.3 L319.0 460.3 L320.0 459.2 L321.0 458.1 L322.0 457.0 L323.0 455.9 L324.0 454.8 L325.0 453.6 L326.0 452.5 L327.0 451.4 L328.0 450.3 L329.0 449.1 L330.0 448.0 L331.0 446.9 L332.0 445.7 L333.0 444.6 L334.0 443.4 L335.0 442.2 L336.0 441.1 L337.0 439.9 L338.0 438.7 L339.0 437.6 L340.0 436.4 L341.0 435.2 L342.0 434.0 L343.0 432.8 L344.0 431.6 L345.0 430.4 L346.0 429.2 L347.0 428.0 L348.0 426.8 L349.0 425.6 L350.0 424.4 L351.0 423.2 L352.0 422.0 L353.0 420.8 L354.0 419.6 L355.0 418.4 L356.0 417.2 L357.0 416.0 L358.0 414.8 L359.0 413.5 L360.0 412.3 L361.0 411.1 L362.0 409.9 L363.0 408.7 L364.0 407.5 L365.0 406.3 L366.0 405.1 L367.0 403.8 L368.0 402.6 L369.0 401.4 L370.0 400.2 L371.0 399.0 L372.0 397.8 L373.0 396.6 L374.0 395.4 L375.0 394.2 L376.0 393.0 L377.0 391.8 L378.0 390.6 L379.0 389.4 L380.0 388.2 L381.0 387.0 L382.0 385.9 L383.0 384.7 L384.0 383.5 L385.0 382.3 L386.0 381.2 L387.0 380.0 L388.0 378.8 L389.0 377.7 L390.0 376.5 L391.0 375.4 L392.0 374.2 L393.0 373.1 L394.0 371.9 L395.0 370.8 L396.0 369.7 L397.0 368.5 L398.0 367.4 L399.0 366.3 L400.0 365.2 L401.0 364.1 L402.0 363.0 L403.0 361.9 L404.0 360.8 L405.0 359.7 L406.0 358.6 L407.0 357.6 L408.0 356.5 L409.0 355.4 L410.0 354.4 L411.0 353.3 L412.0 352.3 L413.0 351.2 L414.0 350.2 L415.0 349.2 L416.0 348.1 L417.0 347.1 L418.0 346.1 L419.0 345.1 L420.0 344.1 L421.0 343.1 L422.0 342.1 L423.0 341.1 L424.0 340.2 L425.0 339.2 L426.0 338.2 L427.0 337.3 L428.0 336.3 L429.0 335.4 L430.0 334.5 L431.0 333.5 L432.0 332.6 L433.0 331.7 L434.0 330.8 L435.0 329.9 L436.0 329.0 L437.0 328.1 L438.0 327.2 L439.0 326.4 L440.0 325.5 L441.0 324.6 L442.0 323.8 L443.0 322.9 L444.0 322.1 L445.0 321.3 L446.0 320.4 L447.0 319.6 L448.0 318.8 L449.0 318.0 L450.0 317.2 L451.0 316.4 L452.0 315.6 L453.0 314.8 L454.0 314.1 L455.0 313.3 L456.0 312.5 L457.0 311.8 L458.0 311.0 L459.0 310.3 L460.0 309.5 L461.0 308.8 L462.0 308.1 L463.0 307.4 L464.0 306.7 L465.0 306.0 L466.0 305.3 L467.0 304.6 L468.0 303.9 L469.0 303.2 L470.0 302.5 L471.0 301.8 L472.0 301.2 L473.0 300.5 L474.0 299.9 L475.0 299.2 L476.0 298.6 L477.0 297.9 L478.0 297.3 L479.0 296.7 L480.0 296.0 L481.0 295.4 L482.0 294.8 L483.0 294.2 L484.0 293.6 L485.0 293.0 L486.0 292.4 L487.0 291.8 L488.0 291.2 L489.0 290.6 L490.0 290.0 L491.0 289.5 L492.0 288.9 L493.0 288.3 L494.0 287.8 L495.0 287.2 L496.0 286.6 L497.0 286.1 L498.0 285.5 L499.0 285.0 L500.0 284.5 L501.0 283.9 L502.0 283.4 L503.0 282.9 L504.0 282.3 L505.0 281.8 L506.0 281.3 L507.0 280.8 L508.0 280.3 L509.0 279.7 L510.0 279.2 L511.0 278.7 L512.0 278.2 L513.0 277.7 L514.0 277.2 L515.0 276.7 L516.0 276.2 L517.0 275.7 L518.0 275.2 L519.0 274.8 L520.0 274.3 L521.0 273.8 L522.0 273.3 L523.0 272.8 L524.0 272.3 L525.0 271.9 L526.0 271.4 L527.0 270.9 L528.0 270.4 L529.0 270.0 L530.0 269.5 L531.0 269.0 L532.0 268.6 L533.0 268.1 L534.0 267.6 L535.0 267.2 L536.0 266.7 L537.0 266.3 L538.0 265.8 L539.0 265.3 L540.0 264.9 L541.0 264.4 L542.0 264.0 L543.0 263.5 L544.0 263.1 L545.0 262.6 L546.0 262.2 L547.0 261.7 L548.0 261.3 L549.0 260.8 L550.0 260.4 L551.0 259.9 L552.0 259.5 L553.0 259.0 L554.0 258.6 L555.0 258.2 L556.0 257.7 L557.0 257.3 L558.0 256.8 L559.0 256.4 L560.0 255.9 L561.0 255.5 L562.0 255.1 L563.0 254.6 L564.0 254.2 L565.0 253.8 L566.0 253.3 L567.0 252.9 L568.0 252.5 L569.0 252.0 L570.0 251.6 L571.0 251.2 L572.0 250.7 L573.0 250.3 L574.0 249.9 L575.0 249.4 L576.0 249.0 L577.0 248.6 L578.0 248.2 L579.0 247.7 L580.0 247.3 L581.0 246.9 L582.0 246.5 L583.0 246.1 L584.0 245.6 L585.0 245.2 L586.0 244.8 L587.0 244.4 L588.0 244.0 L589.0 243.6 L590.0 243.2 L591.0 242.7 L592.0 242.3 L593.0 241.9 L594.0 241.5 L595.0 241.1 L596.0 240.7 L597.0 240.3 L598.0 239.9 L599.0 239.5 L600.0 239.1 L601.0 238.7 L602.0 238.3 L603.0 237.9 L604.0 237.5 L605.0 237.2 L606.0 236.8 L607.0 236.4 L608.0 236.0 L609.0 235.6 L610.0 235.2 L611.0 234.9 L612.0 234.5 L613.0 234.1 L614.0 233.7 L615.0 233.4 L616.0 233.0 L617.0 232.6 L618.0 232.3 L619.0 231.9 L620.0 231.6 L621.0 231.2 L622.0 230.9 L623.0 230.5 L624.0 230.2 L625.0 229.8 L626.0 229.5 L627.0 229.1 L628.0 228.8 L629.0 228.5 L630.0 228.1 L631.0 227.8 L632.0 227.5 L633.0 227.2 L634.0 226.8 L635.0 226.5 L636.0 226.2 L637.0 225.9 L638.0 225.6 L639.0 225.3 L640.0 225.0 L641.0 224.7 L642.0 224.4 L643.0 224.1 L644.0 223.8 L645.0 223.5 L646.0 223.2 L647.0 222.9 L648.0 222.6 L649.0 222.4 L650.0 222.1 L651.0 221.8 L652.0 221.6 L653.0 221.3 L654.0 221.0 L655.0 220.8 L656.0 220.5 L657.0 220.3 L658.0 220.0 L659.0 219.8 L660.0 219.5 L661.0 219.3 L662.0 219.0 L663.0 218.8 L664.0 218.6 L665.0 218.3 L666.0 218.1 L667.0 217.9 L668.0 217.7 L669.0 217.4 L670.0 217.2 L671.0 217.0 L672.0 216.8 L673.0 216.6 L674.0 216.4 L675.0 216.2 L676.0 216.0 L677.0 215.8 L678.0 215.6 L679.0 215.4 L680.0 215.2 L681.0 215.1 L682.0 214.9 L683.0 214.7 L684.0 214.5 L685.0 214.4 L686.0 214.2 L687.0 214.0 L688.0 213.9 L689.0 213.7 L690.0 213.5 L691.0 213.4 L692.0 213.2 L693.0 213.1 L694.0 212.9 L695.0 212.8 L696.0 212.6 L697.0 212.5 L698.0 212.4 L699.0 212.2 L700.0 212.1 L701.0 212.0 L702.0 211.8 L703.0 211.7 L704.0 211.6 L705.0 211.5 L706.0 211.3 L707.0 211.2 L708.0 211.1 L709.0 211.0 L710.0 210.9 L711.0 210.8 L712.0 210.7 L713.0 210.6 L714.0 210.5 L715.0 210.4 L716.0 210.3 L717.0 210.2 L718.0 210.1 L719.0 210.1 L720.0 210.0 L721.0 209.9 L722.0 209.8 L723.0 209.8 L724.0 209.7 L725.0 209.6 L726.0 209.6 L727.0 209.5 L728.0 209.4 L729.0 209.4 L730.0 209.3 L731.0 209.3 L732.0 209.2 L733.0 209.2 L734.0 209.2 L735.0 209.1 L736.0 209.1 L737.0 209.1 L738.0 209.1 L739.0 209.0 L740.0 209.0 L741.0 209.0 L742.0 209.0 L743.0 209.0 L744.0 209.0 L745.0 209.0 L746.0 209.0 L747.0 209.0 L748.0 209.0 L749.0 209.0 L750.0 209.1 L751.0 209.1 L752.0 209.1 L753.0 209.1 L754.0 209.2 L755.0 209.2 L756.0 209.3 L757.0 209.3 L758.0 209.4 L759.0 209.4 L760.0 209.5 L761.0 209.5 L762.0 209.6 L763.0 209.7 L764.0 209.8 L765.0 209.9 L766.0 209.9 L767.0 210.0 L768.0 210.1 L769.0 210.2 L770.0 210.3 L771.0 210.4 L772.0 210.5 L773.0 210.6 L774.0 210.8 L775.0 210.9 L776.0 211.0 L777.0 211.1 L778.0 211.2 L779.0 211.4 L780.0 211.5 L781.0 211.6 L782.0 211.8 L783.0 211.9 L784.0 212.1 L785.0 212.2 L786.0 212.4 L787.0 212.5 L788.0 212.7 L789.0 212.8 L790.0 213.0 L791.0 213.1 L792.0 213.3 L793.0 213.4 L794.0 213.5 L795.0 213.7 L796.0 213.8 L797.0 214.0 L798.0 214.1 L799.0 214.3 L800.0 214.4 L801.0 214.5 L802.0 214.7 L803.0 214.8 L804.0 214.9 L805.0 215.0 L806.0 215.1 L807.0 215.2 L808.0 215.3 L809.0 215.4 L810.0 215.5 L811.0 215.5 L812.0 215.6 L813.0 215.6 L814.0 215.6 L815.0 215.7 L816.0 215.7 L817.0 215.7 L818.0 215.6 L819.0 215.6 L820.0 215.6 L821.0 215.5 L822.0 215.4 L823.0 215.3 L824.0 215.2 L825.0 215.1 L826.0 214.9 L827.0 214.7 L828.0 214.5 L829.0 214.3 L830.0 214.0 L831.0 213.8 L832.0 213.5 L833.0 213.1 L834.0 212.8 L835.0 212.4 L836.0 212.0 L837.0 211.6 L838.0 211.1 L839.0 210.6 L840.0 210.1 L841.0 209.6 L842.0 209.0 L843.0 208.4 L844.0 207.7 L845.0 207.0 L846.0 206.3 L847.0 205.6 L848.0 204.8 L849.0 204.0 L850.0 203.2 L851.0 202.3 L852.0 201.4 L853.0 200.4 L854.0 199.5 L855.0 198.5 L856.0 197.4 L857.0 196.4 L858.0 195.3 L859.0 194.2 L860.0 193.0 L861.0 191.8 L862.0 190.6 L863.0 189.4 L864.0 188.2 L865.0 186.9 L866.0 185.7 L867.0 184.4 L868.0 183.1 L869.0 181.8 L870.0 180.5 L871.0 179.2 L872.0 177.9 L873.0 176.6 L874.0 175.3 L866.7 184.3 L867.5 183.0 L868.4 181.7 L869.3 180.5 L870.2 179.4 L871.2 178.2 L872.2 177.1 L873.3 176.1 L874.4 175.0 L875.5 174.0 L876.6 172.9 L877.7 171.9 L878.8 170.9 L879.9 169.9 L881.0 168.8 L882.1 167.8 L883.2 166.7 L884.2 165.7 L885.2 164.6 L886.2 163.4 L887.1 162.3 L888.0 161.1 L888.8 159.8 L889.6 158.6 L890.4 157.3 L891.1 156.0 L891.8 154.6 L892.5 153.3 L893.2 151.9 L893.8 150.6 L894.4 149.2 L895.0 147.8 L895.6 146.4 L896.2 145.0 L896.8 143.5 L897.4 142.1 L898.0 140.7 L898.6 139.3 L899.2 137.9 L899.8 136.6 L900.4 135.2 L901.0 133.8 L901.6 132.4 L902.2 131.0 L902.9 129.7 L903.5 128.3 L904.1 126.9 L904.7 125.6 L905.3 124.2 L905.9 122.8 L906.4 121.4 L907.0 120.0 L907.6 118.6 L908.1 117.2 L908.7 115.8 L909.2 114.4 L909.7 113.0 L910.2 111.6 L910.8 110.1 L911.3 108.7 L911.9 107.3 L912.5 105.9 L913.1 104.5 L913.7 103.2 L914.3 101.8 L915.0 100.5 L915.7 99.2 L916.5 97.9 L917.3 96.6 L918.1 95.3 L919.0 94.1 L919.9 92.9 L920.8 91.7 L921.7 90.5 L922.6 89.3 L923.6 88.1 L924.5 86.9 L925.4 85.7 L926.3 84.5 L927.2 83.3 L928.0 82.1 L928.8 80.8 L929.6 79.6 L930.4 78.3 L931.1 77.1 L931.9 75.8 L932.7 74.5 L933.6 73.3 L934.5 72.0 L935.4 70.8 L936.4 69.5 L937.5 68.3 L938.6 67.2 L939.8 66.1 L941.1 65.2 L942.4 64.5 L943.8 63.9 L945.2 63.6 L946.6 63.5 L948.1 63.6 L949.6 64.0 L951.0 64.5 L952.5 65.2 L953.8 66.0 L955.1 66.8 L956.3 67.8 L957.4 68.8 L958.5 69.8 L959.5 70.9 L960.4 72.1 L961.3 73.3 L962.2 74.5 L963.0 75.8 L963.7 77.1 L964.4 78.4 L965.1 79.7 L965.7 81.1 L966.3 82.5 L966.9 83.9 L967.5 85.3 L968.0 86.8 L968.5 88.2 L969.0 89.6 L969.5 91.1 L969.9 92.6 L970.4 94.0 L970.8 95.5 L971.3 96.9 L971.7 98.4 L972.2 99.8 L972.7 101.3 L973.1 102.7 L973.6 104.1 L974.0 105.6 L974.4 107.0 L974.9 108.4 L975.3 109.9 L975.8 111.3 L976.2 112.7 L976.6 114.2 L977.1 115.6 L977.5 117.0 L977.9 118.5 L978.3 119.9 L978.7 121.4 L979.1 122.8 L979.5 124.3 L979.8 125.7 L980.2 127.2 L980.6 128.7 L980.9 130.2 L981.3 131.7 L981.6 133.2 L982.0 134.6 L982.3 136.1 L982.6 137.6 L982.9 139.1 L983.2 140.6 L983.6 142.1 L983.9 143.5 L984.2 145.0 L984.5 146.4 L984.8 147.8 L985.1 149.2 L985.5 150.5 L985.8 151.9 L986.2 153.2 L986.5 154.5 L986.9 155.8 L987.2 157.1 L987.6 158.4 L987.9 159.7 L988.3 161.0 L988.7 162.3 L989.0 163.6 L989.4 164.9 L989.8 166.2 L990.2 167.5 L990.6 168.9 L991.0 170.3 L991.4 171.7 L991.8 173.1 L992.3 174.5 L992.7 176.0 L993.1 177.5 L993.6 179.1 L994.0 180.7 L994.5 182.3 L994.9 184.0 L995.4 185.7 L995.8 187.4 L996.3 189.3 L996.8 191.1 L997.3 193.1 L997.8 195.0 L998.2 197.1 L998.8 199.1 L999.3 201.1 L999.8 203.2 L1000.3 205.2 L1000.9 207.2 L1001.4 209.1 L1002.0 211.0 L1002.6 212.8 L1003.2 214.6 L1003.8 216.2 L1004.5 217.7 L1005.2 219.1 L1005.8 220.3 L1006.6 221.4 L1007.3 222.3 L1008.0 223.0 L1008.8 223.5 L1009.6 223.8 L1010.4 223.9 L1011.3 223.7 L1012.2 223.3 L1013.1 222.6 L1014.0 221.7 L1014.9 220.7 L1015.9 219.4 L1016.8 218.1 L1017.6 216.6 L1018.5 215.1 L1019.3 213.5 L1020.0 211.9 L1020.7 210.4 L1021.3 208.9 L1021.9 207.4 L1022.4 205.9 L1022.9 204.4 L1023.3 203.0 L1023.7 201.5 L1024.0 200.1 L1024.4 198.7 L1024.7 197.3 L1025.0 195.9 L1025.2 194.5 L1025.5 193.0 L1025.8 191.6 L1026.1 190.2 L1026.3 188.7 L1026.6 187.3 L1026.9 185.8 L1027.2 184.4 L1027.5 182.9 L1027.8 181.4 L1028.2 180.0 L1028.5 178.5 L1028.8 177.0 L1029.1 175.5 L1029.4 174.0 L1029.7 172.5 L1030.0 171.0 L1030.3 169.5 L1030.6 168.1 L1030.9 166.6 L1031.1 165.1 L1031.4 163.6 L1031.7 162.1 L1031.9 160.6 L1032.2 159.1 L1032.4 157.7 L1032.7 156.2 L1032.9 154.7 L1033.1 153.2 L1033.3 151.7 L1033.5 150.2 L1033.8 148.8 L1034.0 147.3 L1034.2 145.8 L1034.4 144.3 L1034.5 142.8 L1034.7 141.3 L1034.9 139.8 L1035.1 138.3 L1035.3 136.8 L1035.4 135.3 L1035.6 133.8 L1035.8 132.3 L1035.9 130.8 L1036.1 129.3 L1036.2 127.8 L1036.4 126.3 L1036.5 124.8 L1036.7 123.3 L1036.8 121.8 L1037.0 120.3 L1037.1 118.8 L1037.3 117.4 L1037.4 115.9 L1037.5 114.4 L1037.7 112.9 L1037.8 111.4 L1038.0 109.9 L1038.1 108.4 L1038.3 106.9 L1038.4 105.4 L1038.6 104.0 L1038.7 102.5 L1038.8 101.0 L1039.0 99.5 L1039.1 98.0 L1039.3 96.5 L1039.4 95.0 L1039.6 93.5 L1039.7 92.0 L1039.9 90.5 L1040.0 89.0 L1040.2 87.5 L1040.4 86.0 L1040.5 84.5 L1040.7 82.9 L1040.8 81.4 L1041.0 79.9 L1041.2 78.4 L1041.4 76.8 L1041.5 75.3 L1041.7 73.8 L1041.9 72.2 L1042.0 70.7 L1042.2 69.2 L1042.4 67.6 L1042.6 66.1 L1042.7 64.6 L1042.9 63.0 L1043.1 61.5 L1043.3 60.0 L1043.4 58.5 L1043.6 57.0 L1043.8 55.4 L1043.9 54.0 L1044.1 52.5 L1044.2 51.0 L1044.4 49.5 L1044.5 48.0 L1044.6 46.6 L1044.8 45.2 L1044.9 43.7 L1045.0 42.3 L1045.1 40.9 L1045.2 39.5 L1045.3 38.1 L1045.4 36.8 L1045.5 35.4 L1045.7 34.0 L1045.8 32.7 L1046.0 31.3 L1046.2 29.9 L1046.4 28.5 L1046.7 27.1 L1047.1 25.6 L1047.5 24.1 L1047.9 22.6 L1048.4 21.0 L1049.0 19.4 L1049.7 17.7 L1050.5 16.0 L1051.4 14.2 L1052.3 12.5 L1053.3 10.8 L1054.3 9.4 L1055.4 8.3 L1056.4 7.6 L1057.4 7.3 L1058.3 7.6 L1059.1 8.5 L1059.9 9.7 L1060.6 11.3 L1061.2 13.1 L1061.8 14.9 L1062.2 16.7 L1062.6 18.3 L1062.8 19.7 L1063.0 20.6"/>
<path d="M5.0 534.5 L6.0 534.5 L7.0 534.5 L8.0 534.5 L9.0 534.5 L10.0 534.5 L11.0 534.5 L12.0 534.5 L13.0 534.5 L14.0 534.5 L15.0 534.5 L16.0 534.5 L17.0 534.5 L18.0 534.5 L19.0 534.5 L20.0 534.5 L21.0 534.5 L22.0 534.5 L23.0 534.5 L24.0 534.5 L25.0 534.5 L26.0 534.5 L27.0 534.5 L28.0 534.5 L29.0 534.5 L30.0 534.5 L31.0 534.5 L32.0 534.5 L33.0 534.5 L34.0 534.5 L35.0 534.5 L36.0 534.5 L37.0 534.5 L38.0 534.5 L39.0 534.5 L40.0 534.5 L41.0 534.5 L42.0 534.5 L43.0 534.5 L44.0 534.5 L45.0 534.5 L46.0 534.5 L47.0 534.5 L48.0 534.5 L49.0 534.5 L50.0 534.5 L51.0 534.5 L52.0 534.5 L53.0 534.5 L54.0 534.5 L55.0 534.5 L56.0 534.5 L57.0 534.5 L58.0 534.5 L59.0 534.5 L60.0 534.5 L61.0 534.5 L62.0 534.5 L63.0 534.5 L64.0 534.5 L65.0 534.5 L66.0 534.5 L67.0 534.5 L68.0 534.5 L69.0 534.5 L70.0 534.5 L71.0 534.5 L72.0 534.5 L73.0 534.5 L74.0 534.5 L75.0 534.5 L76.0 534.5 L77.0 534.5 L78.0 534.5 L79.0 534.5 L80.0 534.5 L81.0 534.5 L82.0 534.5 L83.0 534.5 L84.0 534.5 L85.0 534.5 L86.0 534.5 L87.0 534.5 L88.0 534.5 L89.0 534.5 L90.0 534.5 L91.0 534.5 L92.0 534.5 L93.0 534.5 L94.0 534.5 L95.0 534.5 L96.0 534.5 L97.0 534.5 L98.0 534.5 L99.0 534.5 L100.0 534.5 L101.0 534.5 L102.0 534.5 L103.0 534.5 L104.0 534.5 L105.0 534.5 L106.0 534.5 L107.0 534.5 L108.0 534.5 L109.0 534.5 L110.0 534.5 L111.0 534.5 L112.0 534.5 L113.0 534.5 L114.0 534.5 L115.0 534.5 L116.0 534.5 L117.0 534.5 L118.0 534.5 L119.0 534.5 L120.0 534.5 L121.0 534.5 L122.0 534.5 L123.0 534.5 L124.0 534.5 L125.0 534.5 L126.0 534.5 L127.0 534.5 L128.0 534.5 L129.0 534.5 L130.0 534.5 L131.0 534.5 L132.0 534.5 L133.0 534.5 L134.0 534.5 L135.0 534.5 L136.0 534.5 L137.0 534.5 L138.0 534.5 L139.0 534.5 L140.0 534.5 L141.0 534.5 L142.0 534.5 L143.0 534.5 L144.0 534.5 L145.0 534.5 L146.0 534.5 L147.0 534.4 L148.0 534.4 L149.0 534.4 L150.0 534.4 L151.0 534.4 L152.0 534.4 L153.0 534.4 L154.0 534.4 L155.0 534.3 L156.0 534.3 L157.0 534.3 L158.0 534.3 L159.0 534.2 L160.0 534.2 L161.0 534.2 L162.0 534.2 L163.0 534.1 L164.0 534.1 L165.0 534.1 L166.0 534.0 L167.0 534.0 L168.0 534.0 L169.0 533.9 L170.0 533.9 L171.0 533.8 L172.0 533.8 L173.0 533.8 L174.0 533.7 L175.0 533.7 L176.0 533.6 L177.0 533.5 L178.0 533.5 L179.0 533.4 L180.0 533.4 L181.0 533.3 L182.0 533.2 L183.0 533.1 L184.0 533.1 L185.0 533.0 L186.0 532.9 L187.0 532.8 L188.0 532.7 L189.0 532.6 L190.0 532.5 L191.0 532.4 L192.0 532.3 L193.0 532.2 L194.0 532.1 L195.0 532.0 L196.0 531.9 L197.0 531.7 L198.0 531.6 L199.0 531.5 L200.0 531.3 L201.0 531.2 L202.0 531.0 L203.0 530.9 L204.0 530.7 L205.0 530.6 L206.0 530.4 L207.0 530.2 L208.0 530.1 L209.0 529.9 L210.0 529.7 L211.0 529.5 L212.0 529.3 L213.0 529.1 L214.0 528.9 L215.0 528.6 L216.0 528.4 L217.0 528.2 L218.0 527.9 L219.0 527.7 L220.0 527.5 L221.0 527.2 L222.0 526.9 L223.0 526.7 L224.0 526.4 L225.0 526.1 L226.0 525.8 L227.0 525.5 L228.0 525.2 L229.0 524.9 L230.0 524.6 L231.0 524.2 L232.0 523.9 L233.0 523.6 L234.0 523.2 L235.0 522.8 L236.0 522.5 L237.0 522.1 L238.0 521.7 L239.0 521.3 L240.0 520.9 L241.0 520.5 L242.0 520.1 L243.0 519.7 L244.0 519.2 L245.0 518.8 L246.0 518.3 L247.0 517.9 L248.0 517.4 L249.0 516.9 L250.0 516.4 L251.0 515.9 L252.0 515.4 L253.0 514.9 L254.0 514.4 L255.0 513.8 L256.0 513.3 L257.0 512.7 L258.0 512.2 L259.0 511.6 L260.0 511.0 L261.0 510.4 L262.0 509.8 L263.0 509.2 L264.0 508.6 L265.0 507.9 L266.0 507.3 L267.0 506.6 L268.0 506.0 L269.0 505.3 L270.0 504.6 L271.0 503.9 L272.0 503.2 L273.0 502.5 L274.0 501.8 L275.0 501.0 L276.0 500.3 L277.0 499.5 L278.0 498.8 L279.0 498.0 L280.0 497.2 L281.0 496.4 L282.0 495.6 L283.0 494.8 L284.0 494.0 L285.0 493.2 L286.0 492.3 L287.0 491.5 L288.0 490.6 L289.0 489.8 L290.0 488.9 L291.0 488.0 L292.0 487.1 L293.0 486.2 L294.0 485.3 L295.0 484.3 L296.0 483.4 L297.0 482.5 L298.0 481.5 L299.0 480.5 L300.0 479.6 L301.0 478.6 L302.0 477.6 L303.0 476.6 L304.0 475.6 L305.0 474.6 L306.0 473.6 L307.0 472.5 L308.0 471.5 L309.0 470.5 L310.0 469.4 L311.0 468.3 L312.0 467.3 L313.0 466.2 L314.0 465.1 L315.0 464.0 L316.0 462.9 L317.0 461.8 L318.0 460.7 L319.0 459.6 L320.0 458.4 L321.0 457.3 L322.0 456.2 L323.0 455.0 L324.0 453.9 L325.0 452.7 L326.0 451.6 L327.0 450.4 L328.0 449.2 L329.0 448.0 L330.0 446.9 L331.0 445.7 L332.0 444.5 L333.0 443.3 L334.0 442.1 L335.0 440.9 L336.0 439.7 L337.0 438.4 L338.0 437.2 L339.0 436.0 L340.0 434.8 L341.0 433.5 L342.0 432.3 L343.0 431.1 L344.0 429.8 L345.0 428.6 L346.0 427.4 L347.0 426.1 L348.0 424.9 L349.0 423.6 L350.0 422.4 L351.0 421.1 L352.0 419.9 L353.0 418.6 L354.0 417.4 L355.0 416.1 L356.0 414.9 L357.0 413.6 L358.0 412.3 L359.0 411.1 L360.0 409.8 L361.0 408.6 L362.0 407.3 L363.0 406.1 L364.0 404.8 L365.0 403.6 L366.0 402.3 L367.0 401.1 L368.0 399.8 L369.0 398.6 L370.0 397.3 L371.0 396.1 L372.0 394.9 L373.0 393.6 L374.0 392.4 L375.0 391.2 L376.0 390.0 L377.0 388.7 L378.0 387.5 L379.0 386.3 L380.0 385.1 L381.0 383.9 L382.0 382.7 L383.0 381.5 L384.0 380.3 L385.0 379.1 L386.0 377.9 L387.0 376.7 L388.0 375.6 L389.0 374.4 L390.0 373.2 L391.0 372.1 L392.0 370.9 L393.0 369.8 L394.0 368.6 L395.0 367.5 L396.0 366.4 L397.0 365.2 L398.0 364.1 L399.0 363.0 L400.0 361.9 L401.0 360.8 L402.0 359.7 L403.0 358.6 L404.0 357.5 L405.0 356.5 L406.0 355.4 L407.0 354.3 L408.0 353.3 L409.0 352.3 L410.0 351.2 L411.0 350.2 L412.0 349.2 L413.0 348.2 L414.0 347.1 L415.0 346.2 L416.0 345.2 L417.0 344.2 L418.0 343.2 L419.0 342.2 L420.0 341.3 L421.0 340.3 L422.0 339.4 L423.0 338.4 L424.0 337.5 L425.0 336.6 L426.0 335.7 L427.0 334.8 L428.0 333.9 L429.0 333.0 L430.0 332.1 L431.0 331.2 L432.0 330.4 L433.0 329.5 L434.0 328.7 L435.0 327.8 L436.0 327.0 L437.0 326.2 L438.0 325.3 L439.0 324.5 L440.0 323.7 L441.0 322.9 L442.0 322.2 L443.0 321.4 L444.0 320.6 L445.0 319.8 L446.0 319.1 L447.0 318.3 L448.0 317.6 L449.0 316.8 L450.0 316.1 L451.0 315.4 L452.0 314.7 L453.0 314.0 L454.0 313.3 L455.0 312.6 L456.0 311.9 L457.0 311.2 L458.0 310.5 L459.0 309.9 L460.0 309.2 L461.0 308.5 L462.0 307.9 L463.0 307.2 L464.0 306.6 L465.0 306.0 L466.0 305.3 L467.0 304.7 L468.0 304.1 L469.0 303.5 L470.0 302.9 L471.0 302.3 L472.0 301.7 L473.0 301.1 L474.0 300.5 L475.0 299.9 L476.0 299.3 L477.0 298.8 L478.0 298.2 L479.0 297.6 L480.0 297.1 L481.0 296.5 L482.0 296.0 L483.0 295.4 L484.0 294.9 L485.0 294.3 L486.0 293.8 L487.0 293.2 L488.0 292.7 L489.0 292.2 L490.0 291.6 L491.0 291.1 L492.0 290.6 L493.0 290.1 L494.0 289.5 L495.0 289.0 L496.0 288.5 L497.0 288.0 L498.0 287.5 L499.0 287.0 L500.0 286.5 L501.0 285.9 L502.0 285.4 L503.0 284.9 L504.0 284.4 L505.0 283.9 L506.0 283.4 L507.0 282.9 L508.0 282.4 L509.0 281.9 L510.0 281.4 L511.0 280.9 L512.0 280.4 L513.0 279.9 L514.0 279.4 L515.0 278.9 L516.0 278.4 L517.0 277.9 L518.0 277.4 L519.0 276.9 L520.0 276.4 L521.0 275.9 L522.0 275.4 L523.0 274.9 L524.0 274.4 L525.0 273.9 L526.0 273.4 L527.0 272.9 L528.0 272.4 L529.0 271.9 L530.0 271.4 L531.0 270.9 L532.0 270.4 L533.0 269.9 L534.0 269.4 L535.0 268.9 L536.0 268.4 L537.0 267.9 L538.0 267.4 L539.0 266.9 L540.0 266.4 L541.0 265.9 L542.0 265.3 L543.0 264.8 L544.0 264.3 L545.0 263.8 L546.0 263.3 L547.0 262.8 L548.0 262.3 L549.0 261.7 L550.0 261.2 L551.0 260.7 L552.0 260.2 L553.0 259.7 L554.0 259.2 L555.0 258.7 L556.0 258.1 L557.0 257.6 L558.0 257.1 L559.0 256.6 L560.0 256.1 L561.0 255.5 L562.0 255.0 L563.0 254.5 L564.0 254.0 L565.0 253.5 L566.0 253.0 L567.0 252.5 L568.0 251.9 L569.0 251.4 L570.0 250.9 L571.0 250.4 L572.0 249.9 L573.0 249.4 L574.0 248.9 L575.0 248.4 L576.0 247.9 L577.0 247.4 L578.0 246.9 L579.0 246.4 L580.0 245.9 L581.0 245.4 L582.0 244.9 L583.0 244.4 L584.0 244.0 L585.0 243.5 L586.0 243.0 L587.0 242.5 L588.0 242.1 L589.0 241.6 L590.0 241.1 L591.0 240.7 L592.0 240.2 L593.0 239.7 L594.0 239.3 L595.0 238.8 L596.0 238.4 L597.0 238.0 L598.0 237.5 L599.0 237.1 L600.0 236.7 L601.0 236.3 L602.0 235.8 L603.0 235.4 L604.0 235.0 L605.0 234.6 L606.0 234.2 L607.0 233.8 L608.0 233.5 L609.0 233.1 L610.0 232.7 L611.0 232.3 L612.0 232.0 L613.0 231.6 L614.0 231.3 L615.0 230.9 L616.0 230.6 L617.0 230.2 L618.0 229.9 L619.0 229.6 L620.0 229.3 L621.0 229.0 L622.0 228.7 L623.0 228.4 L624.0 228.1 L625.0 227.8 L626.0 227.5 L627.0 227.3 L628.0 227.0 L629.0 226.7 L630.0 226.5 L631.0 226.2 L632.0 226.0 L633.0 225.8 L634.0 225.5 L635.0 225.3 L636.0 225.1 L637.0 224.9 L638.0 224.7 L639.0 224.5 L640.0 224.3 L641.0 224.2 L642.0 224.0 L643.0 223.8 L644.0 223.7 L645.0 223.5 L646.0 223.4 L647.0 223.2 L648.0 223.1 L649.0 222.9 L650.0 222.8 L651.0 222.7 L652.0 222.6 L653.0 222.5 L654.0 222.4 L655.0 222.3 L656.0 222.2 L657.0 222.1 L658.0 222.0 L659.0 221.9 L660.0 221.9 L661.0 221.8 L662.0 221.7 L663.0 221.7 L664.0 221.6 L665.0 221.6 L666.0 221.5 L667.0 221.5 L668.0 221.4 L669.0 221.4 L670.0 221.3 L671.0 221.3 L672.0 221.3 L673.0 221.3 L674.0 221.2 L675.0 221.2 L676.0 221.2 L677.0 221.2 L678.0 221.2 L679.0 221.1 L680.0 221.1 L681.0 221.1 L682.0 221.1 L683.0 221.1 L684.0 221.1 L685.0 221.1 L686.0 221.1 L687.0 221.0 L688.0 221.0 L689.0 221.0 L690.0 221.0 L691.0 221.0 L692.0 221.0 L693.0 221.0 L694.0 221.0 L695.0 220.9 L696.0 220.9 L697.0 220.9 L698.0 220.9 L699.0 220.9 L700.0 220.8 L701.0 220.8 L702.0 220.8 L703.0 220.8 L704.0 220.7 L705.0 220.7 L706.0 220.6 L707.0 220.6 L708.0 220.5 L709.0 220.5 L710.0 220.4 L711.0 220.4 L712.0 220.3 L713.0 220.3 L714.0 220.2 L715.0 220.1 L716.0 220.1 L717.0 220.0 L718.0 219.9 L719.0 219.8 L720.0 219.7 L721.0 219.6 L722.0 219.5 L723.0 219.4 L724.0 219.3 L725.0 219.2 L726.0 219.1 L727.0 219.0 L728.0 218.9 L729.0 218.8 L730.0 218.6 L731.0 218.5 L732.0 218.4 L733.0 218.2 L734.0 218.1 L735.0 218.0 L736.0 217.8 L737.0 217.7 L738.0 217.5 L739.0 217.4 L740.0 217.2 L741.0 217.1 L742.0 216.9 L743.0 216.7 L744.0 216.6 L745.0 216.4 L746.0 216.3 L747.0 216.1 L748.0 215.9 L749.0 215.8 L750.0 215.6 L751.0 215.5 L752.0 215.3 L753.0 215.1 L754.0 215.0 L755.0 214.8 L756.0 214.7 L757.0 214.5 L758.0 214.4 L759.0 214.2 L760.0 214.1 L761.0 213.9 L762.0 213.8 L763.0 213.7 L764.0 213.5 L765.0 213.4 L766.0 213.3 L767.0 213.2 L768.0 213.1 L769.0 213.0 L770.0 212.9 L771.0 212.8 L772.0 212.7 L773.0 212.6 L774.0 212.5 L775.0 212.5 L776.0 212.4 L777.0 212.4 L778.0 212.3 L779.0 212.3 L780.0 212.3 L781.0 212.3 L782.0 212.3 L783.0 212.3 L784.0 212.3 L785.0 212.3 L786.0 212.3 L787.0 212.4 L788.0 212.4 L789.0 212.5 L790.0 212.6 L791.0 212.6 L792.0 212.7 L793.0 212.8 L794.0 212.9 L795.0 213.1 L796.0 213.2 L797.0 213.3 L798.0 213.5 L799.0 213.6 L800.0 213.8 L801.0 213.9 L802.0 214.1 L803.0 214.3 L804.0 214.5 L805.0 214.7 L806.0 214.9 L807.0 215.1 L808.0 215.3 L809.0 215.5 L810.0 215.7 L811.0 216.0 L812.0 216.2 L813.0 216.4 L814.0 216.6 L815.0 216.8 L816.0 217.1 L817.0 217.3 L818.0 217.5 L819.0 217.7 L820.0 217.9 L821.0 218.1 L822.0 218.3 L823.0 218.5 L824.0 218.6 L825.0 218.8 L826.0 218.9 L827.0 219.1 L828.0 219.2 L829.0 219.3 L830.0 219.3 L831.0 219.4 L832.0 219.4 L833.0 219.5 L834.0 219.4 L835.0 219.4 L836.0 219.3 L837.0 219.2 L838.0 219.1 L839.0 218.9 L840.0 218.7 L841.0 218.5 L842.0 218.2 L843.0 217.9 L844.0 217.6 L845.0 217.2 L846.0 216.8 L847.0 216.3 L848.0 215.8 L849.0 215.2 L850.0 214.6 L851.0 213.9 L852.0 213.2 L853.0 212.4 L854.0 211.6 L855.0 210.7 L856.0 209.8 L857.0 208.8 L858.0 207.8 L859.0 206.7 L860.0 205.5 L861.0 204.3 L862.0 203.1 L863.0 201.8 L864.0 200.4 L865.0 199.0 L866.0 197.6 L867.0 196.0 L868.0 194.5 L869.0 192.9 L870.0 191.3 L871.0 189.6 L872.0 187.9 L873.0 186.2 L874.0 184.4 L866.7 196.2 L867.4 194.9 L868.2 193.6 L868.9 192.3 L869.7 191.1 L870.5 189.8 L871.3 188.5 L872.1 187.2 L873.0 186.0 L873.8 184.7 L874.6 183.4 L875.5 182.2 L876.3 180.9 L877.1 179.7 L878.0 178.4 L878.8 177.1 L879.6 175.8 L880.4 174.5 L881.2 173.3 L881.9 172.0 L882.7 170.7 L883.4 169.3 L884.1 168.0 L884.8 166.7 L885.4 165.3 L886.0 164.0 L886.6 162.6 L887.1 161.2 L887.6 159.8 L888.1 158.4 L888.5 157.0 L889.0 155.6 L889.4 154.1 L889.8 152.7 L890.1 151.2 L890.5 149.8 L890.9 148.3 L891.3 146.9 L891.6 145.4 L892.0 143.9 L892.4 142.4 L892.7 141.0 L893.1 139.5 L893.6 138.0 L894.0 136.5 L894.4 135.0 L894.9 133.6 L895.3 132.1 L895.8 130.7 L896.3 129.2 L896.8 127.8 L897.3 126.4 L897.8 125.0 L898.3 123.6 L898.8 122.2 L899.3 120.8 L899.8 119.5 L900.2 118.1 L900.7 116.8 L901.2 115.5 L901.7 114.3 L902.2 113.0 L902.7 111.7 L903.2 110.4 L903.7 109.1 L904.2 107.8 L904.7 106.5 L905.2 105.1 L905.7 103.8 L906.3 102.4 L906.8 100.9 L907.3 99.4 L907.9 97.9 L908.5 96.3 L909.1 94.7 L909.7 93.0 L910.3 91.2 L910.9 89.4 L911.6 87.5 L912.3 85.7 L913.0 84.0 L913.7 82.3 L914.5 80.8 L915.3 79.4 L916.2 78.2 L917.1 77.3 L918.1 76.7 L919.1 76.3 L920.2 76.3 L921.3 76.7 L922.5 77.3 L923.7 78.3 L924.9 79.4 L926.0 80.7 L927.1 82.0 L928.1 83.3 L928.9 84.7 L929.7 86.0 L930.4 87.2 L931.1 88.5 L931.8 89.8 L932.4 91.1 L933.1 92.3 L933.8 93.6 L934.6 94.9 L935.5 96.2 L936.4 97.6 L937.5 98.9 L938.6 100.2 L939.8 101.4 L941.1 102.4 L942.3 103.2 L943.5 103.7 L944.7 103.9 L945.9 103.7 L946.9 103.1 L948.0 102.3 L948.9 101.2 L949.9 99.9 L950.7 98.4 L951.6 96.8 L952.3 95.2 L953.1 93.5 L953.7 91.9 L954.4 90.3 L955.0 88.8 L955.5 87.3 L956.0 85.9 L956.5 84.6 L957.0 83.2 L957.4 81.9 L957.9 80.6 L958.3 79.2 L958.8 77.9 L959.2 76.5 L959.6 75.0 L960.1 73.5 L960.6 71.8 L961.1 70.1 L961.7 68.4 L962.2 66.6 L962.8 64.8 L963.4 63.0 L964.0 61.3 L964.6 59.6 L965.2 58.0 L965.8 56.5 L966.4 55.2 L967.0 54.1 L967.5 53.1 L968.1 52.4 L968.6 51.9 L969.2 51.7 L969.7 51.8 L970.2 52.1 L970.7 52.7 L971.1 53.5 L971.5 54.5 L972.0 55.7 L972.4 57.1 L972.7 58.6 L973.1 60.3 L973.5 62.0 L973.8 63.9 L974.1 65.9 L974.4 67.9 L974.7 70.0 L975.0 72.0 L975.3 74.1 L975.5 76.2 L975.8 78.3 L976.0 80.3 L976.3 82.3 L976.5 84.2 L976.7 86.1 L976.9 87.9 L977.1 89.7 L977.3 91.4 L977.5 93.1 L977.7 94.8 L977.9 96.4 L978.0 97.9 L978.2 99.5 L978.4 101.0 L978.5 102.5 L978.7 103.9 L978.8 105.3 L979.0 106.7 L979.2 108.1 L979.3 109.5 L979.5 110.8 L979.6 112.2 L979.8 113.5 L979.9 114.8 L980.1 116.1 L980.3 117.5 L980.4 118.8 L980.6 120.1 L980.8 121.4 L980.9 122.7 L981.1 124.1 L981.3 125.4 L981.5 126.8 L981.7 128.1 L981.9 129.5 L982.1 130.9 L982.4 132.4 L982.6 133.8 L982.8 135.3 L983.1 136.7 L983.3 138.2 L983.6 139.7 L983.8 141.2 L984.0 142.7 L984.3 144.2 L984.5 145.8 L984.7 147.3 L985.0 148.8 L985.2 150.3 L985.4 151.8 L985.6 153.3 L985.8 154.8 L986.0 156.3 L986.1 157.8 L986.3 159.3 L986.5 160.8 L986.7 162.3 L986.8 163.8 L987.0 165.3 L987.1 166.8 L987.3 168.3 L987.4 169.8 L987.5 171.3 L987.7 172.8 L987.8 174.3 L987.9 175.8 L988.0 177.2 L988.2 178.7 L988.3 180.2 L988.4 181.7 L988.5 183.2 L988.6 184.7 L988.7 186.1 L988.8 187.6 L988.9 189.1 L989.0 190.6 L989.1 192.1 L989.2 193.6 L989.3 195.1 L989.4 196.5 L989.5 198.0 L989.6 199.5 L989.7 201.0 L989.7 202.5 L989.8 204.0 L989.9 205.5 L990.0 207.0 L990.1 208.5 L990.2 210.0 L990.3 211.5 L990.4 213.0 L990.5 214.5 L990.6 216.0 L990.7 217.5 L990.8 219.0 L990.9 220.5 L991.0 222.0 L991.1 223.5 L991.2 225.1 L991.3 226.6 L991.4 228.1 L991.6 229.6 L991.7 231.2 L991.8 232.7 L992.0 234.2 L992.1 235.8 L992.2 237.3 L992.4 238.8 L992.5 240.4 L992.6 241.9 L992.8 243.5 L992.9 245.0 L993.1 246.5 L993.2 248.1 L993.4 249.6 L993.6 251.2 L993.7 252.7 L993.9 254.3 L994.0 255.8 L994.2 257.3 L994.4 258.9 L994.5 260.4 L994.7 261.9 L994.8 263.5 L995.0 265.0 L995.2 266.5 L995.3 268.0 L995.5 269.5 L995.7 271.0 L995.8 272.6 L996.0 274.1 L996.1 275.5 L996.3 277.0 L996.4 278.5 L996.6 280.0 L996.7 281.5 L996.9 282.9 L997.0 284.4 L997.2 285.8 L997.3 287.3 L997.5 288.7 L997.6 290.2 L997.7 291.6 L997.9 293.0 L998.0 294.4 L998.1 295.8 L998.3 297.2 L998.4 298.5 L998.5 299.9 L998.6 301.3 L998.7 302.6 L998.8 304.0 L998.9 305.3 L999.0 306.6 L999.1 307.9 L999.2 309.3 L999.3 310.6 L999.4 311.9 L999.5 313.2 L999.6 314.5 L999.7 315.9 L999.8 317.2 L999.9 318.5 L1000.0 319.9 L1000.1 321.2 L1000.2 322.6 L1000.3 324.0 L1000.4 325.4 L1000.6 326.8 L1000.7 328.2 L1000.8 329.6 L1001.0 331.1 L1001.1 332.5 L1001.3 334.0 L1001.4 335.5 L1001.6 337.0 L1001.8 338.6 L1002.0 340.2 L1002.1 341.8 L1002.4 343.4 L1002.6 345.1 L1002.8 346.8 L1003.0 348.5 L1003.3 350.3 L1003.5 352.0 L1003.8 353.9 L1004.1 355.7 L1004.4 357.6 L1004.7 359.6 L1005.1 361.5 L1005.4 363.5 L1005.8 365.6 L1006.1 367.6 L1006.5 369.6 L1006.9 371.6 L1007.3 373.6 L1007.7 375.6 L1008.1 377.5 L1008.5 379.3 L1009.0 381.1 L1009.4 382.8 L1009.8 384.4 L1010.2 385.8 L1010.7 387.2 L1011.1 388.4 L1011.5 389.5 L1012.0 390.4 L1012.4 391.2 L1012.8 391.8 L1013.2 392.2 L1013.6 392.4 L1014.0 392.4 L1014.4 392.1 L1014.8 391.7 L1015.2 391.1 L1015.6 390.3 L1016.0 389.3 L1016.3 388.2 L1016.7 387.0 L1017.0 385.6 L1017.3 384.1 L1017.7 382.4 L1018.0 380.7 L1018.3 379.0 L1018.6 377.1 L1018.9 375.2 L1019.2 373.3 L1019.5 371.3 L1019.8 369.3 L1020.0 367.3 L1020.3 365.3 L1020.6 363.3 L1020.8 361.4 L1021.1 359.4 L1021.3 357.6 L1021.5 355.8 L1021.8 354.0 L1022.0 352.3 L1022.2 350.6 L1022.4 349.0 L1022.6 347.4 L1022.8 345.8 L1023.0 344.3 L1023.2 342.7 L1023.4 341.3 L1023.5 339.8 L1023.7 338.4 L1023.9 337.0 L1024.0 335.6 L1024.2 334.2 L1024.3 332.8 L1024.5 331.4 L1024.6 330.1 L1024.8 328.8 L1024.9 327.4 L1025.0 326.1 L1025.2 324.7 L1025.3 323.4 L1025.4 322.0 L1025.5 320.7 L1025.7 319.3 L1025.8 317.9 L1025.9 316.6 L1026.0 315.2 L1026.1 313.8 L1026.2 312.3 L1026.3 310.9 L1026.4 309.5 L1026.5 308.0 L1026.6 306.6 L1026.7 305.1 L1026.8 303.6 L1026.9 302.2 L1026.9 300.7 L1027.0 299.2 L1027.1 297.7 L1027.2 296.2 L1027.3 294.7 L1027.4 293.2 L1027.4 291.6 L1027.5 290.1 L1027.6 288.6 L1027.7 287.1 L1027.8 285.5 L1027.8 284.0 L1027.9 282.4 L1028.0 280.9 L1028.1 279.4 L1028.1 277.8 L1028.2 276.3 L1028.3 274.7 L1028.4 273.2 L1028.4 271.6 L1028.5 270.1 L1028.6 268.5 L1028.7 267.0 L1028.7 265.4 L1028.8 263.9 L1028.9 262.3 L1029.0 260.8 L1029.0 259.2 L1029.1 257.7 L1029.2 256.2 L1029.3 254.6 L1029.4 253.1 L1029.4 251.6 L1029.5 250.1 L1029.6 248.5 L1029.7 247.0 L1029.8 245.5 L1029.9 244.0 L1030.0 242.5 L1030.0 241.0 L1030.1 239.5 L1030.2 238.0 L1030.3 236.5 L1030.4 235.0 L1030.5 233.5 L1030.6 232.0 L1030.6 230.5 L1030.7 229.0 L1030.8 227.5 L1030.9 226.0 L1031.0 224.5 L1031.1 223.0 L1031.1 221.5 L1031.2 220.0 L1031.3 218.5 L1031.4 217.0 L1031.5 215.6 L1031.5 214.1 L1031.6 212.6 L1031.7 211.1 L1031.8 209.6 L1031.8 208.1 L1031.9 206.7 L1032.0 205.2 L1032.0 203.7 L1032.1 202.2 L1032.2 200.7 L1032.2 199.3 L1032.3 197.8 L1032.3 196.3 L1032.4 194.8 L1032.5 193.4 L1032.5 191.9 L1032.6 190.4 L1032.6 188.9 L1032.7 187.4 L1032.7 185.9 L1032.8 184.5 L1032.8 183.0 L1032.9 181.5 L1032.9 180.0 L1032.9 178.5 L1033.0 177.0 L1033.0 175.5 L1033.1 174.0 L1033.1 172.5 L1033.2 171.0 L1033.2 169.5 L1033.3 168.0 L1033.3 166.5 L1033.4 165.0 L1033.4 163.5 L1033.5 162.0 L1033.5 160.5 L1033.6 159.0 L1033.6 157.5 L1033.7 155.9 L1033.7 154.4 L1033.8 152.9 L1033.8 151.3 L1033.9 149.8 L1033.9 148.2 L1034.0 146.7 L1034.1 145.1 L1034.1 143.6 L1034.2 142.0 L1034.3 140.5 L1034.4 138.9 L1034.4 137.4 L1034.5 135.8 L1034.6 134.2 L1034.7 132.7 L1034.7 131.1 L1034.8 129.6 L1034.9 128.0 L1035.0 126.5 L1035.0 124.9 L1035.1 123.4 L1035.2 121.9 L1035.3 120.3 L1035.4 118.8 L1035.4 117.3 L1035.5 115.8 L1035.6 114.3 L1035.7 112.9 L1035.7 111.4 L1035.8 110.0 L1035.9 108.5 L1036.0 107.1 L1036.0 105.7 L1036.1 104.3 L1036.2 102.9 L1036.2 101.5 L1036.3 100.2 L1036.4 98.8 L1036.4 97.5 L1036.5 96.2 L1036.5 94.9 L1036.6 93.6 L1036.6 92.4 L1036.7 91.1 L1036.7 89.8 L1036.8 88.6 L1036.8 87.3 L1036.9 86.0 L1036.9 84.7 L1037.0 83.4 L1037.0 82.1 L1037.1 80.8 L1037.1 79.5 L1037.2 78.2 L1037.2 76.8 L1037.3 75.4 L1037.3 74.0 L1037.4 72.6 L1037.4 71.1 L1037.5 69.6 L1037.5 68.1 L1037.6 66.6 L1037.7 65.0 L1037.7 63.4 L1037.8 61.7 L1037.9 60.0 L1037.9 58.2 L1038.0 56.4 L1038.1 54.6 L1038.2 52.7 L1038.2 50.7 L1038.3 48.7 L1038.4 46.6 L1038.5 44.5 L1038.6 42.3 L1038.7 40.1 L1038.8 37.9 L1039.0 35.6 L1039.1 33.4 L1039.2 31.3 L1039.4 29.2 L1039.5 27.1 L1039.7 25.2 L1039.8 23.4 L1040.0 21.8 L1040.2 20.3 L1040.4 19.0 L1040.7 17.9 L1040.9 17.1 L1041.1 16.5 L1041.4 16.1 L1041.7 16.1 L1042.0 16.3 L1042.3 16.9 L1042.6 17.7 L1043.0 18.8 L1043.3 20.1 L1043.7 21.6 L1044.0 23.3 L1044.4 25.1 L1044.7 26.9 L1045.0 28.8 L1045.3 30.7 L1045.6 32.5 L1045.8 34.3 L1046.0 36.0 L1046.2 37.7 L1046.4 39.4 L1046.5 41.0 L1046.7 42.5 L1046.8 44.0 L1046.9 45.5 L1047.0 47.0 L1047.0 48.4 L1047.1 49.8 L1047.2 51.2 L1047.2 52.6 L1047.2 54.0 L1047.2 55.4 L1047.3 56.7 L1047.3 58.1 L1047.3 59.5 L1047.3 60.8 L1047.3 62.2 L1047.3 63.6 L1047.4 65.0 L1047.4 66.4 L1047.4 67.9 L1047.4 69.3 L1047.4 70.7 L1047.4 72.2 L1047.4 73.6 L1047.5 75.1 L1047.5 76.6 L1047.5 78.0 L1047.5 79.5 L1047.5 81.0 L1047.5 82.5 L1047.6 84.0 L1047.6 85.5 L1047.6 87.0 L1047.6 88.5 L1047.6 90.1 L1047.6 91.6 L1047.7 93.1 L1047.7 94.6 L1047.7 96.2 L1047.7 97.7 L1047.7 99.2 L1047.7 100.8 L1047.8 102.3 L1047.8 103.9 L1047.8 105.4 L1047.8 107.0 L1047.8 108.5 L1047.8 110.1 L1047.9 111.6 L1047.9 113.2 L1047.9 114.7 L1047.9 116.3 L1047.9 117.8 L1047.9 119.3 L1048.0 120.9 L1048.0 122.4 L1048.0 124.0 L1048.0 125.5 L1048.0 127.0 L1048.0 128.6 L1048.1 130.1 L1048.1 131.6 L1048.1 133.2 L1048.1 134.7 L1048.1 136.2 L1048.1 137.7 L1048.1 139.2 L1048.2 140.8 L1048.2 142.3 L1048.2 143.8 L1048.2 145.3 L1048.2 146.8 L1048.2 148.3 L1048.2 149.8 L1048.3 151.3 L1048.3 152.8 L1048.3 154.3 L1048.3 155.8 L1048.3 157.3 L1048.3 158.8 L1048.3 160.3 L1048.4 161.8 L1048.4 163.3 L1048.4 164.8 L1048.4 166.3 L1048.4 167.8 L1048.4 169.3 L1048.4 170.8 L1048.5 172.3 L1048.5 173.8 L1048.5 175.3 L1048.5 176.7 L1048.5 178.2 L1048.5 179.7 L1048.5 181.2 L1048.5 182.7 L1048.6 184.2 L1048.6 185.7 L1048.6 187.2 L1048.6 188.7 L1048.6 190.2 L1048.6 191.6 L1048.6 193.1 L1048.7 194.6 L1048.7 196.1 L1048.7 197.6 L1048.7 199.1 L1048.7 200.6 L1048.7 202.1 L1048.7 203.6 L1048.7 205.1 L1048.8 206.6 L1048.8 208.1 L1048.8 209.6 L1048.8 211.1 L1048.8 212.6 L1048.8 214.1 L1048.8 215.6 L1048.8 217.1 L1048.9 218.6 L1048.9 220.1 L1048.9 221.6 L1048.9 223.1 L1048.9 224.6 L1048.9 226.1 L1048.9 227.6 L1049.0 229.1 L1049.0 230.6 L1049.0 232.2 L1049.0 233.7 L1049.0 235.2 L1049.0 236.7 L1049.0 238.2 L1049.1 239.7 L1049.1 241.2 L1049.1 242.7 L1049.1 244.2 L1049.1 245.7 L1049.1 247.2 L1049.1 248.8 L1049.2 250.3 L1049.2 251.8 L1049.2 253.3 L1049.2 254.8 L1049.2 256.3 L1049.2 257.8 L1049.2 259.3 L1049.3 260.8 L1049.3 262.3 L1049.3 263.8 L1049.3 265.4 L1049.3 266.9 L1049.3 268.4 L1049.4 269.9 L1049.4 271.4 L1049.4 272.9 L1049.4 274.4 L1049.4 275.9 L1049.4 277.4 L1049.5 278.9 L1049.5 280.4 L1049.5 281.9 L1049.5 283.4 L1049.5 284.9 L1049.5 286.4 L1049.6 287.9 L1049.6 289.4 L1049.6 290.9 L1049.6 292.4 L1049.6 293.9 L1049.7 295.4 L1049.7 296.9 L1049.7 298.4 L1049.7 299.9 L1049.7 301.4 L1049.8 302.9 L1049.8 304.4 L1049.8 305.9 L1049.8 307.4 L1049.8 308.9 L1049.9 310.4 L1049.9 311.9 L1049.9 313.4 L1049.9 314.8 L1049.9 316.3 L1050.0 317.8 L1050.0 319.3 L1050.0 320.8 L1050.0 322.3 L1050.1 323.7 L1050.1 325.2 L1050.1 326.7 L1050.1 328.2 L1050.2 329.7 L1050.2 331.1 L1050.2 332.6 L1050.2 334.1 L1050.3 335.6 L1050.3 337.0 L1050.3 338.5 L1050.3 340.0 L1050.4 341.5 L1050.4 342.9 L1050.4 344.4 L1050.4 345.9 L1050.5 347.4 L1050.5 348.9 L1050.5 350.3 L1050.5 351.8 L1050.6 353.3 L1050.6 354.8 L1050.6 356.3 L1050.7 357.8 L1050.7 359.2 L1050.7 360.7 L1050.7 362.2 L1050.8 363.7 L1050.8 365.2 L1050.8 366.7 L1050.9 368.2 L1050.9 369.7 L1050.9 371.2 L1050.9 372.7 L1051.0 374.2 L1051.0 375.8 L1051.0 377.3 L1051.1 378.8 L1051.1 380.3 L1051.1 381.8 L1051.2 383.4 L1051.2 384.9 L1051.2 386.4 L1051.3 388.0 L1051.3 389.5 L1051.3 391.1 L1051.3 392.6 L1051.4 394.2 L1051.4 395.7 L1051.4 397.3 L1051.5 398.8 L1051.5 400.4 L1051.5 402.0 L1051.6 403.6 L1051.6 405.1 L1051.6 406.7 L1051.7 408.3 L1051.7 409.9 L1051.7 411.5 L1051.8 413.0 L1051.8 414.6 L1051.9 416.2 L1051.9 417.7 L1052.0 419.3 L1052.0 420.8 L1052.1 422.3 L1052.1 423.9 L1052.2 425.4 L1052.2 426.9 L1052.3 428.3 L1052.4 429.8 L1052.4 431.2 L1052.5 432.7 L1052.6 434.1 L1052.7 435.5 L1052.8 436.8 L1052.9 438.2 L1053.0 439.5 L1053.1 440.8 L1053.2 442.1 L1053.3 443.3 L1053.4 444.6 L1053.5 445.8 L1053.6 447.1 L1053.8 448.3 L1053.9 449.6 L1054.0 450.9 L1054.1 452.2 L1054.3 453.5 L1054.4 454.8 L1054.5 456.2 L1054.6 457.7 L1054.7 459.2 L1054.8 460.7 L1055.0 462.3 L1055.1 463.9 L1055.1 465.7 L1055.2 467.5 L1055.3 469.4 L1055.4 471.3 L1055.5 473.4 L1055.5 475.6 L1055.6 477.8 L1055.6 480.1 L1055.7 482.3 L1055.8 484.4 L1055.9 486.3 L1056.1 488.0 L1056.4 489.4 L1056.7 490.4 L1057.1 491.0 L1057.6 491.2 L1058.2 490.7 L1058.9 489.7 L1059.7 488.3 L1060.4 486.6 L1061.2 484.7 L1061.9 482.7 L1062.5 480.7 L1063.0 478.8 L1063.4 477.1 L1063.5 475.8 L1063.4 475.0 L1063.0 474.7"/>
<path d="M5.0 534.5 L6.0 534.5 L7.0 534.5 L8.0 534.5 L9.0 534.5 L10.0 534.5 L11.0 534.5 L12.0 534.5 L13.0 534.5 L14.0 534.5 L15.0 534.5 L16.0 534.5 L17.0 534.5 L18.0 534.5 L19.0 534.5 L20.0 534.5 L21.0 534.5 L22.0 534.5 L23.0 534.5 L24.0 534.5 L25.0 534.5 L26.0 534.5 L27.0 534.5 L28.0 534.5 L29.0 534.5 L30.0 534.5 L31.0 534.5 L32.0 534.5 L33.0 534.5 L34.0 534.5 L35.0 534.5 L36.0 534.5 L37.0 534.5 L38.0 534.5 L39.0 534.5 L40.0 534.5 L41.0 534.5 L42.0 534.5 L43.0 534.5 L44.0 534.5 L45.0 534.5 L46.0 534.5 L47.0 534.5 L48.0 534.5 L49.0 534.5 L50.0 534.5 L51.0 534.5 L52.0 534.5 L53.0 534.5 L54.0 534.5 L55.0 534.5 L56.0 534.5 L57.0 534.5 L58.0 534.5 L59.0 534.5 L60.0 534.5 L61.0 534.5 L62.0 534.5 L63.0 534.5 L64.0 534.5 L65.0 534.5 L66.0 534.5 L67.0 534.5 L68.0 534.5 L69.0 534.5 L70.0 534.5 L71.0 534.5 L72.0 534.5 L73.0 534.5 L74.0 534.5 L75.0 534.5 L76.0 534.5 L77.0 534.5 L78.0 534.5 L79.0 534.5 L80.0 534.5 L81.0 534.5 L82.0 534.5 L83.0 534.5 L84.0 534.5 L85.0 534.5 L86.0 534.5 L87.0 534.5 L88.0 534.5 L89.0 534.5 L90.0 534.5 L91.0 534.5 L92.0 534.5 L93.0 534.5 L94.0 534.5 L95.0 534.5 L96.0 534.5 L97.0 534.5 L98.0 534.5 L99.0 534.5 L100.0 534.5 L101.0 534.5 L102.0 534.5 L103.0 534.5 L104.0 534.5 L105.0 534.5 L106.0 534.5 L107.0 534.5 L108.0 534.6 L109.0 534.6 L110.0 534.6 L111.0 534.6 L112.0 534.6 L113.0 534.6 L114.0 534.6 L115.0 534.6 L116.0 534.6 L117.0 534.6 L118.0 534.6 L119.0 534.6 L120.0 534.6 L121.0 534.6 L122.0 534.6 L123.0 534.6 L124.0 534.6 L125.0 534.6 L126.0 534.6 L127.0 534.6 L128.0 534.6 L129.0 534.6 L130.0 534.6 L131.0 534.6 L132.0 534.7 L133.0 534.7 L134.0 534.7 L135.0 534.7 L136.0 534.7 L137.0 534.7 L138.0 534.7 L139.0 534.7 L140.0 534.7 L141.0 534.7 L142.0 534.7 L143.0 534.7 L144.0 534.7 L145.0 534.7 L146.0 534.7 L147.0 534.7 L148.0 534.7 L149.0 534.7 L150.0 534.7 L151.0 534.7 L152.0 534.7 L153.0 534.7 L154.0 534.7 L155.0 534.7 L156.0 534.7 L157.0 534.7 L158.0 534.7 L159.0 534.7 L160.0 534.7 L161.0 534.7 L162.0 534.7 L163.0 534.7 L164.0 534.7 L165.0 534.7 L166.0 534.7 L167.0 534.6 L168.0 534.6 L169.0 534.6 L170.0 534.6 L171.0 534.6 L172.0 534.6 L173.0 534.5 L174.0 534.5 L175.0 534.5 L176.0 534.5 L177.0 534.4 L178.0 534.4 L179.0 534.4 L180.0 534.3 L181.0 534.3 L182.0 534.2 L183.0 534.2 L184.0 534.1 L185.0 534.1 L186.0 534.0 L187.0 534.0 L188.0 533.9 L189.0 533.9 L190.0 533.8 L191.0 533.7 L192.0 533.6 L193.0 533.6 L194.0 533.5 L195.0 533.4 L196.0 533.3 L197.0 533.2 L198.0 533.1 L199.0 533.0 L200.0 532.9 L201.0 532.8 L202.0 532.7 L203.0 532.6 L204.0 532.4 L205.0 532.3 L206.0 532.2 L207.0 532.0 L208.0 531.9 L209.0 531.7 L210.0 531.6 L211.0 531.4 L212.0 531.2 L213.0 531.0 L214.0 530.9 L215.0 530.7 L216.0 530.5 L217.0 530.3 L218.0 530.0 L219.0 529.8 L220.0 529.6 L221.0 529.4 L222.0 529.1 L223.0 528.9 L224.0 528.6 L225.0 528.3 L226.0 528.1 L227.0 527.8 L228.0 527.5 L229.0 527.2 L230.0 526.9 L231.0 526.6 L232.0 526.2 L233.0 525.9 L234.0 525.6 L235.0 525.2 L236.0 524.9 L237.0 524.5 L238.0 524.1 L239.0 523.7 L240.0 523.3 L241.0 522.9 L242.0 522.5 L243.0 522.1 L244.0 521.6 L245.0 521.2 L246.0 520.7 L247.0 520.2 L248.0 519.8 L249.0 519.3 L250.0 518.8 L251.0 518.2 L252.0 517.7 L253.0 517.2 L254.0 516.6 L255.0 516.1 L256.0 515.5 L257.0 514.9 L258.0 514.3 L259.0 513.7 L260.0 513.1 L261.0 512.5 L262.0 511.9 L263.0 511.2 L264.0 510.6 L265.0 509.9 L266.0 509.2 L267.0 508.5 L268.0 507.8 L269.0 507.1 L270.0 506.4 L271.0 505.6 L272.0 504.9 L273.0 504.1 L274.0 503.3 L275.0 502.6 L276.0 501.8 L277.0 501.0 L278.0 500.1 L279.0 499.3 L280.0 498.5 L281.0 497.6 L282.0 496.7 L283.0 495.9 L284.0 495.0 L285.0 494.1 L286.0 493.2 L287.0 492.3 L288.0 491.3 L289.0 490.4 L290.0 489.4 L291.0 488.5 L292.0 487.5 L293.0 486.5 L294.0 485.6 L295.0 484.6 L296.0 483.5 L297.0 482.5 L298.0 481.5 L299.0 480.5 L300.0 479.4 L301.0 478.4 L302.0 477.3 L303.0 476.2 L304.0 475.1 L305.0 474.0 L306.0 472.9 L307.0 471.8 L308.0 470.7 L309.0 469.6 L310.0 468.5 L311.0 467.3 L312.0 466.2 L313.0 465.0 L314.0 463.9 L315.0 462.7 L316.0 461.5 L317.0 460.4 L318.0 459.2 L319.0 458.0 L320.0 456.8 L321.0 455.6 L322.0 454.4 L323.0 453.2 L324.0 451.9 L325.0 450.7 L326.0 449.5 L327.0 448.3 L328.0 447.0 L329.0 445.8 L330.0 444.6 L331.0 443.3 L332.0 442.1 L333.0 440.8 L334.0 439.6 L335.0 438.3 L336.0 437.1 L337.0 435.8 L338.0 434.5 L339.0 433.3 L340.0 432.0 L341.0 430.7 L342.0 429.5 L343.0 428.2 L344.0 427.0 L345.0 425.7 L346.0 424.4 L347.0 423.2 L348.0 421.9 L349.0 420.6 L350.0 419.4 L351.0 418.1 L352.0 416.8 L353.0 415.6 L354.0 414.3 L355.0 413.1 L356.0 411.8 L357.0 410.6 L358.0 409.3 L359.0 408.1 L360.0 406.8 L361.0 405.6 L362.0 404.4 L363.0 403.1 L364.0 401.9 L365.0 400.7 L366.0 399.4 L367.0 398.2 L368.0 397.0 L369.0 395.8 L370.0 394.6 L371.0 393.4 L372.0 392.2 L373.0 391.0 L374.0 389.8 L375.0 388.7 L376.0 387.5 L377.0 386.3 L378.0 385.2 L379.0 384.0 L380.0 382.8 L381.0 381.7 L382.0 380.6 L383.0 379.4 L384.0 378.3 L385.0 377.2 L386.0 376.1 L387.0 375.0 L388.0 373.9 L389.0 372.8 L390.0 371.7 L391.0 370.6 L392.0 369.5 L393.0 368.4 L394.0 367.4 L395.0 366.3 L396.0 365.3 L397.0 364.2 L398.0 363.2 L399.0 362.2 L400.0 361.1 L401.0 360.1 L402.0 359.1 L403.0 358.1 L404.0 357.1 L405.0 356.1 L406.0 355.1 L407.0 354.2 L408.0 353.2 L409.0 352.2 L410.0 351.3 L411.0 350.3 L412.0 349.4 L413.0 348.5 L414.0 347.5 L415.0 346.6 L416.0 345.7 L417.0 344.8 L418.0 343.9 L419.0 343.0 L420.0 342.1 L421.0 341.2 L422.0 340.3 L423.0 339.5 L424.0 338.6 L425.0 337.7 L426.0 336.9 L427.0 336.0 L428.0 335.2 L429.0 334.3 L430.0 333.5 L431.0 332.7 L432.0 331.9 L433.0 331.0 L434.0 330.2 L435.0 329.4 L436.0 328.6 L437.0 327.8 L438.0 327.0 L439.0 326.3 L440.0 325.5 L441.0 324.7 L442.0 323.9 L443.0 323.2 L444.0 322.4 L445.0 321.6 L446.0 320.9 L447.0 320.1 L448.0 319.4 L449.0 318.6 L450.0 317.9 L451.0 317.2 L452.0 316.4 L453.0 315.7 L454.0 315.0 L455.0 314.2 L456.0 313.5 L457.0 312.8 L458.0 312.1 L459.0 311.4 L460.0 310.7 L461.0 310.0 L462.0 309.3 L463.0 308.6 L464.0 307.9 L465.0 307.2 L466.0 306.5 L467.0 305.8 L468.0 305.2 L469.0 304.5 L470.0 303.8 L471.0 303.1 L472.0 302.5 L473.0 301.8 L474.0 301.2 L475.0 300.5 L476.0 299.8 L477.0 299.2 L478.0 298.5 L479.0 297.9 L480.0 297.2 L481.0 296.6 L482.0 296.0 L483.0 295.3 L484.0 294.7 L485.0 294.1 L486.0 293.4 L487.0 292.8 L488.0 292.2 L489.0 291.6 L490.0 290.9 L491.0 290.3 L492.0 289.7 L493.0 289.1 L494.0 288.5 L495.0 287.9 L496.0 287.3 L497.0 286.7 L498.0 286.1 L499.0 285.5 L500.0 284.9 L501.0 284.3 L502.0 283.8 L503.0 283.2 L504.0 282.6 L505.0 282.0 L506.0 281.5 L507.0 280.9 L508.0 280.3 L509.0 279.8 L510.0 279.2 L511.0 278.7 L512.0 278.1 L513.0 277.6 L514.0 277.0 L515.0 276.5 L516.0 276.0 L517.0 275.4 L518.0 274.9 L519.0 274.4 L520.0 273.8 L521.0 273.3 L522.0 272.8 L523.0 272.3 L524.0 271.8 L525.0 271.3 L526.0 270.8 L527.0 270.3 L528.0 269.8 L529.0 269.3 L530.0 268.8 L531.0 268.3 L532.0 267.8 L533.0 267.3 L534.0 266.9 L535.0 266.4 L536.0 265.9 L537.0 265.5 L538.0 265.0 L539.0 264.5 L540.0 264.1 L541.0 263.6 L542.0 263.2 L543.0 262.7 L544.0 262.3 L545.0 261.8 L546.0 261.4 L547.0 260.9 L548.0 260.5 L549.0 260.0 L550.0 259.6 L551.0 259.2 L552.0 258.7 L553.0 258.3 L554.0 257.9 L555.0 257.5 L556.0 257.0 L557.0 256.6 L558.0 256.2 L559.0 255.8 L560.0 255.3 L561.0 254.9 L562.0 254.5 L563.0 254.1 L564.0 253.7 L565.0 253.3 L566.0 252.9 L567.0 252.4 L568.0 252.0 L569.0 251.6 L570.0 251.2 L571.0 250.8 L572.0 250.4 L573.0 250.0 L574.0 249.6 L575.0 249.2 L576.0 248.8"/>
<path d="M576.0 248.8 L577.0 248.3 L578.0 247.9 L579.0 247.5 L580.0 247.1 L581.0 246.7 L582.0 246.3 L583.0 245.9 L584.0 245.5 L585.0 245.1 L586.0 244.7 L587.0 244.3 L588.0 243.9 L589.0 243.5 L590.0 243.1 L591.0 242.6 L592.0 242.2 L593.0 241.8 L594.0 241.4 L595.0 241.0 L596.0 240.6 L597.0 240.2 L598.0 239.8 L599.0 239.4 L600.0 239.0 L601.0 238.6 L602.0 238.2 L603.0 237.8 L604.0 237.4 L605.0 237.0 L606.0 236.6 L607.0 236.3 L608.0 235.9 L609.0 235.5 L610.0 235.1 L611.0 234.7 L612.0 234.3 L613.0 234.0 L614.0 233.6 L615.0 233.2 L616.0 232.9 L617.0 232.5 L618.0 232.1 L619.0 231.8 L620.0 231.4 L621.0 231.1 L622.0 230.7 L623.0 230.4 L624.0 230.0 L625.0 229.7 L626.0 229.3 L627.0 229.0 L628.0 228.7 L629.0 228.4 L630.0 228.0 L631.0 227.7 L632.0 227.4 L633.0 227.1 L634.0 226.8 L635.0 226.5 L636.0 226.2 L637.0 225.9 L638.0 225.6 L639.0 225.3 L640.0 225.0 L641.0 224.7 L642.0 224.4 L643.0 224.1 L644.0 223.8 L645.0 223.5 L646.0 223.2 L647.0 222.9 L648.0 222.6 L649.0 222.3 L650.0 222.0 L651.0 221.7 L652.0 221.4 L653.0 221.1 L654.0 220.8 L655.0 220.4 L656.0 220.1 L657.0 219.8 L658.0 219.4 L659.0 219.1 L660.0 218.8 L661.0 218.4 L662.0 218.1 L663.0 217.7 L664.0 217.3 L665.0 217.0 L666.0 216.6 L667.0 216.2 L668.0 215.8 L669.0 215.4 L670.0 215.0 L671.0 214.7 L672.0 214.3 L673.0 213.9 L674.0 213.5 L675.0 213.2 L676.0 212.8 L677.0 212.5 L678.0 212.2 L679.0 211.9 L680.0 211.7 L681.0 211.5" stroke="#D06E28"/>
</g>

<g fill="none" stroke="#2B70AA" stroke-width="1">
<circle cx="1063" cy="20.6" r="3.8"/>
<circle cx="1063" cy="46.6" r="3.8"/>
<circle cx="1063" cy="99.1" r="3.8"/>
<circle cx="1063" cy="224.7" r="3.8"/>
<circle cx="1063" cy="321.9" r="3.8"/>
<circle cx="1063" cy="344" r="3.8"/>
<circle cx="1063" cy="381.5" r="3.8"/>
<circle cx="1063" cy="474.7" r="3.8"/>
<circle cx="681.6" cy="211.4" r="3.8"/>
</g>
</svg>
<div id="cr">© Copyright 2018, Mathematical Research Pty Ltd. All rights reserved.</div>
</body></html>
